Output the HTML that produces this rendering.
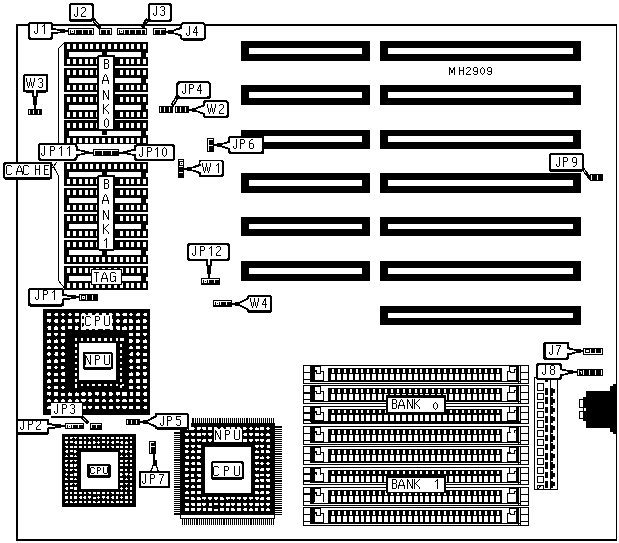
<!DOCTYPE html>
<html><head><meta charset="utf-8"><style>
html,body{margin:0;padding:0;background:#fff;}
svg{display:block;}
</style></head><body>
<svg width="619" height="543" viewBox="0 0 619 543" shape-rendering="crispEdges">
<title>MH2909 motherboard layout</title>
<rect width="619" height="543" fill="#fff"/>
<rect x="16" y="24" width="601" height="2" fill="#000"/>
<rect x="16" y="24" width="2" height="517" fill="#000"/>
<rect x="16" y="539" width="601" height="2" fill="#000"/>
<rect x="616" y="24" width="1" height="517" fill="#000"/>
<rect x="241" y="41" width="129" height="20" fill="#000"/>
<rect x="249" y="48" width="113" height="6" fill="#fff"/>
<rect x="380" y="41" width="201" height="20" fill="#000"/>
<rect x="388" y="48" width="185" height="6" fill="#fff"/>
<rect x="241" y="85" width="129" height="20" fill="#000"/>
<rect x="249" y="92" width="113" height="6" fill="#fff"/>
<rect x="380" y="85" width="201" height="20" fill="#000"/>
<rect x="388" y="92" width="185" height="6" fill="#fff"/>
<rect x="241" y="130" width="129" height="19" fill="#000"/>
<rect x="249" y="136" width="113" height="6" fill="#fff"/>
<rect x="380" y="130" width="201" height="19" fill="#000"/>
<rect x="388" y="136" width="185" height="6" fill="#fff"/>
<rect x="241" y="173" width="129" height="20" fill="#000"/>
<rect x="249" y="180" width="113" height="6" fill="#fff"/>
<rect x="380" y="173" width="201" height="20" fill="#000"/>
<rect x="388" y="180" width="185" height="6" fill="#fff"/>
<rect x="241" y="217" width="129" height="19" fill="#000"/>
<rect x="249" y="224" width="113" height="5" fill="#fff"/>
<rect x="380" y="217" width="201" height="19" fill="#000"/>
<rect x="388" y="224" width="185" height="5" fill="#fff"/>
<rect x="241" y="261" width="129" height="20" fill="#000"/>
<rect x="249" y="268" width="113" height="6" fill="#fff"/>
<rect x="380" y="261" width="201" height="20" fill="#000"/>
<rect x="388" y="268" width="185" height="6" fill="#fff"/>
<rect x="380" y="306" width="201" height="19" fill="#000"/>
<rect x="388" y="313" width="185" height="5" fill="#fff"/>
<g aria-label="MH2909">
<path transform="translate(449,66.5)" d="M0 0h1v1h-1zM5 0h1v1h-1zM0 1h2v1h-2zM4 1h2v1h-2zM0 2h2v1h-2zM4 2h2v1h-2zM0 3h1v1h-1zM2 3h2v1h-2zM5 3h1v1h-1zM0 4h1v1h-1zM2 4h2v1h-2zM5 4h1v1h-1zM0 5h1v1h-1zM2 5h2v1h-2zM5 5h1v1h-1zM0 6h1v1h-1zM5 6h1v1h-1zM0 7h1v1h-1zM5 7h1v1h-1z"/>
<path transform="translate(459,66.5)" d="M0 0h1v1h-1zM4 0h1v1h-1zM0 1h1v1h-1zM4 1h1v1h-1zM0 2h1v1h-1zM4 2h1v1h-1zM0 3h5v1h-5zM0 4h1v1h-1zM4 4h1v1h-1zM0 5h1v1h-1zM4 5h1v1h-1zM0 6h1v1h-1zM4 6h1v1h-1zM0 7h1v1h-1zM4 7h1v1h-1z"/>
<path transform="translate(466,66.5)" d="M1 0h3v1h-3zM0 1h1v1h-1zM4 1h1v1h-1zM4 2h1v1h-1zM3 3h1v1h-1zM2 4h1v1h-1zM1 5h1v1h-1zM0 6h1v1h-1zM0 7h5v1h-5z"/>
<path transform="translate(473,66.5)" d="M1 0h3v1h-3zM0 1h1v1h-1zM4 1h1v1h-1zM0 2h1v1h-1zM4 2h1v1h-1zM0 3h1v1h-1zM4 3h1v1h-1zM1 4h4v1h-4zM4 5h1v1h-1zM0 6h1v1h-1zM4 6h1v1h-1zM1 7h3v1h-3z"/>
<path transform="translate(480,66.5)" d="M2 0h1v1h-1zM1 1h1v1h-1zM3 1h1v1h-1zM0 2h1v1h-1zM4 2h1v1h-1zM0 3h1v1h-1zM4 3h1v1h-1zM0 4h1v1h-1zM4 4h1v1h-1zM0 5h1v1h-1zM4 5h1v1h-1zM1 6h1v1h-1zM3 6h1v1h-1zM2 7h1v1h-1z"/>
<path transform="translate(487,66.5)" d="M1 0h3v1h-3zM0 1h1v1h-1zM4 1h1v1h-1zM0 2h1v1h-1zM4 2h1v1h-1zM0 3h1v1h-1zM4 3h1v1h-1zM1 4h4v1h-4zM4 5h1v1h-1zM0 6h1v1h-1zM4 6h1v1h-1zM1 7h3v1h-3z"/>
</g>
<rect x="64" y="42" width="84" height="102" fill="#000"/>
<rect x="67" y="44" width="3" height="5" fill="#fff"/>
<rect x="72.85" y="44" width="3" height="5" fill="#fff"/>
<rect x="78.7" y="44" width="3" height="5" fill="#fff"/>
<rect x="84.55" y="44" width="3" height="5" fill="#fff"/>
<rect x="90.4" y="44" width="3" height="5" fill="#fff"/>
<rect x="96.25" y="44" width="3" height="5" fill="#fff"/>
<rect x="102.1" y="44" width="3" height="5" fill="#fff"/>
<rect x="107.95" y="44" width="3" height="5" fill="#fff"/>
<rect x="113.8" y="44" width="3" height="5" fill="#fff"/>
<rect x="119.65" y="44" width="3" height="5" fill="#fff"/>
<rect x="125.5" y="44" width="3" height="5" fill="#fff"/>
<rect x="131.35" y="44" width="3" height="5" fill="#fff"/>
<rect x="137.2" y="44" width="3" height="5" fill="#fff"/>
<rect x="143.05" y="44" width="3" height="5" fill="#fff"/>
<rect x="67" y="59" width="3" height="5" fill="#fff"/>
<rect x="72.85" y="59" width="3" height="5" fill="#fff"/>
<rect x="78.7" y="59" width="3" height="5" fill="#fff"/>
<rect x="84.55" y="59" width="3" height="5" fill="#fff"/>
<rect x="90.4" y="59" width="3" height="5" fill="#fff"/>
<rect x="96.25" y="59" width="3" height="5" fill="#fff"/>
<rect x="102.1" y="59" width="3" height="5" fill="#fff"/>
<rect x="107.95" y="59" width="3" height="5" fill="#fff"/>
<rect x="119.65" y="59" width="3" height="5" fill="#fff"/>
<rect x="125.5" y="59" width="3" height="5" fill="#fff"/>
<rect x="131.35" y="59" width="3" height="5" fill="#fff"/>
<rect x="137.2" y="59" width="3" height="5" fill="#fff"/>
<rect x="143.05" y="59" width="3" height="5" fill="#fff"/>
<rect x="69" y="52" width="72" height="5" fill="#fff"/>
<rect x="146" y="52.5" width="2" height="4" fill="#fff"/>
<rect x="64" y="66" width="84" height="1.5" fill="#fff"/>
<rect x="67" y="70.3" width="3" height="5" fill="#fff"/>
<rect x="72.85" y="70.3" width="3" height="5" fill="#fff"/>
<rect x="78.7" y="70.3" width="3" height="5" fill="#fff"/>
<rect x="84.55" y="70.3" width="3" height="5" fill="#fff"/>
<rect x="90.4" y="70.3" width="3" height="5" fill="#fff"/>
<rect x="96.25" y="70.3" width="3" height="5" fill="#fff"/>
<rect x="102.1" y="70.3" width="3" height="5" fill="#fff"/>
<rect x="107.95" y="70.3" width="3" height="5" fill="#fff"/>
<rect x="119.65" y="70.3" width="3" height="5" fill="#fff"/>
<rect x="125.5" y="70.3" width="3" height="5" fill="#fff"/>
<rect x="131.35" y="70.3" width="3" height="5" fill="#fff"/>
<rect x="137.2" y="70.3" width="3" height="5" fill="#fff"/>
<rect x="143.05" y="70.3" width="3" height="5" fill="#fff"/>
<rect x="67" y="85.3" width="3" height="5" fill="#fff"/>
<rect x="72.85" y="85.3" width="3" height="5" fill="#fff"/>
<rect x="78.7" y="85.3" width="3" height="5" fill="#fff"/>
<rect x="84.55" y="85.3" width="3" height="5" fill="#fff"/>
<rect x="90.4" y="85.3" width="3" height="5" fill="#fff"/>
<rect x="96.25" y="85.3" width="3" height="5" fill="#fff"/>
<rect x="102.1" y="85.3" width="3" height="5" fill="#fff"/>
<rect x="107.95" y="85.3" width="3" height="5" fill="#fff"/>
<rect x="119.65" y="85.3" width="3" height="5" fill="#fff"/>
<rect x="125.5" y="85.3" width="3" height="5" fill="#fff"/>
<rect x="131.35" y="85.3" width="3" height="5" fill="#fff"/>
<rect x="137.2" y="85.3" width="3" height="5" fill="#fff"/>
<rect x="143.05" y="85.3" width="3" height="5" fill="#fff"/>
<rect x="69" y="78.3" width="72" height="5" fill="#fff"/>
<rect x="146" y="78.8" width="2" height="4" fill="#fff"/>
<rect x="64" y="92.3" width="84" height="1.5" fill="#fff"/>
<rect x="67" y="96.5" width="3" height="5" fill="#fff"/>
<rect x="72.85" y="96.5" width="3" height="5" fill="#fff"/>
<rect x="78.7" y="96.5" width="3" height="5" fill="#fff"/>
<rect x="84.55" y="96.5" width="3" height="5" fill="#fff"/>
<rect x="90.4" y="96.5" width="3" height="5" fill="#fff"/>
<rect x="96.25" y="96.5" width="3" height="5" fill="#fff"/>
<rect x="102.1" y="96.5" width="3" height="5" fill="#fff"/>
<rect x="107.95" y="96.5" width="3" height="5" fill="#fff"/>
<rect x="119.65" y="96.5" width="3" height="5" fill="#fff"/>
<rect x="125.5" y="96.5" width="3" height="5" fill="#fff"/>
<rect x="131.35" y="96.5" width="3" height="5" fill="#fff"/>
<rect x="137.2" y="96.5" width="3" height="5" fill="#fff"/>
<rect x="143.05" y="96.5" width="3" height="5" fill="#fff"/>
<rect x="67" y="111.5" width="3" height="5" fill="#fff"/>
<rect x="72.85" y="111.5" width="3" height="5" fill="#fff"/>
<rect x="78.7" y="111.5" width="3" height="5" fill="#fff"/>
<rect x="84.55" y="111.5" width="3" height="5" fill="#fff"/>
<rect x="90.4" y="111.5" width="3" height="5" fill="#fff"/>
<rect x="96.25" y="111.5" width="3" height="5" fill="#fff"/>
<rect x="102.1" y="111.5" width="3" height="5" fill="#fff"/>
<rect x="107.95" y="111.5" width="3" height="5" fill="#fff"/>
<rect x="119.65" y="111.5" width="3" height="5" fill="#fff"/>
<rect x="125.5" y="111.5" width="3" height="5" fill="#fff"/>
<rect x="131.35" y="111.5" width="3" height="5" fill="#fff"/>
<rect x="137.2" y="111.5" width="3" height="5" fill="#fff"/>
<rect x="143.05" y="111.5" width="3" height="5" fill="#fff"/>
<rect x="69" y="104.5" width="72" height="5" fill="#fff"/>
<rect x="146" y="105" width="2" height="4" fill="#fff"/>
<rect x="64" y="118.5" width="84" height="1.5" fill="#fff"/>
<rect x="67" y="122.8" width="3" height="5" fill="#fff"/>
<rect x="72.85" y="122.8" width="3" height="5" fill="#fff"/>
<rect x="78.7" y="122.8" width="3" height="5" fill="#fff"/>
<rect x="84.55" y="122.8" width="3" height="5" fill="#fff"/>
<rect x="90.4" y="122.8" width="3" height="5" fill="#fff"/>
<rect x="96.25" y="122.8" width="3" height="5" fill="#fff"/>
<rect x="102.1" y="122.8" width="3" height="5" fill="#fff"/>
<rect x="107.95" y="122.8" width="3" height="5" fill="#fff"/>
<rect x="119.65" y="122.8" width="3" height="5" fill="#fff"/>
<rect x="125.5" y="122.8" width="3" height="5" fill="#fff"/>
<rect x="131.35" y="122.8" width="3" height="5" fill="#fff"/>
<rect x="137.2" y="122.8" width="3" height="5" fill="#fff"/>
<rect x="143.05" y="122.8" width="3" height="5" fill="#fff"/>
<rect x="67" y="137.8" width="3" height="5" fill="#fff"/>
<rect x="72.85" y="137.8" width="3" height="5" fill="#fff"/>
<rect x="78.7" y="137.8" width="3" height="5" fill="#fff"/>
<rect x="84.55" y="137.8" width="3" height="5" fill="#fff"/>
<rect x="90.4" y="137.8" width="3" height="5" fill="#fff"/>
<rect x="96.25" y="137.8" width="3" height="5" fill="#fff"/>
<rect x="102.1" y="137.8" width="3" height="5" fill="#fff"/>
<rect x="107.95" y="137.8" width="3" height="5" fill="#fff"/>
<rect x="113.8" y="137.8" width="3" height="5" fill="#fff"/>
<rect x="119.65" y="137.8" width="3" height="5" fill="#fff"/>
<rect x="125.5" y="137.8" width="3" height="5" fill="#fff"/>
<rect x="131.35" y="137.8" width="3" height="5" fill="#fff"/>
<rect x="137.2" y="137.8" width="3" height="5" fill="#fff"/>
<rect x="143.05" y="137.8" width="3" height="5" fill="#fff"/>
<rect x="69" y="130.8" width="72" height="5" fill="#fff"/>
<rect x="146" y="131.3" width="2" height="4" fill="#fff"/>
<rect x="64" y="162" width="84" height="128" fill="#000"/>
<rect x="67" y="164" width="3" height="5" fill="#fff"/>
<rect x="72.85" y="164" width="3" height="5" fill="#fff"/>
<rect x="78.7" y="164" width="3" height="5" fill="#fff"/>
<rect x="84.55" y="164" width="3" height="5" fill="#fff"/>
<rect x="90.4" y="164" width="3" height="5" fill="#fff"/>
<rect x="96.25" y="164" width="3" height="5" fill="#fff"/>
<rect x="102.1" y="164" width="3" height="5" fill="#fff"/>
<rect x="107.95" y="164" width="3" height="5" fill="#fff"/>
<rect x="113.8" y="164" width="3" height="5" fill="#fff"/>
<rect x="119.65" y="164" width="3" height="5" fill="#fff"/>
<rect x="125.5" y="164" width="3" height="5" fill="#fff"/>
<rect x="131.35" y="164" width="3" height="5" fill="#fff"/>
<rect x="137.2" y="164" width="3" height="5" fill="#fff"/>
<rect x="143.05" y="164" width="3" height="5" fill="#fff"/>
<rect x="67" y="179" width="3" height="5" fill="#fff"/>
<rect x="72.85" y="179" width="3" height="5" fill="#fff"/>
<rect x="78.7" y="179" width="3" height="5" fill="#fff"/>
<rect x="84.55" y="179" width="3" height="5" fill="#fff"/>
<rect x="90.4" y="179" width="3" height="5" fill="#fff"/>
<rect x="96.25" y="179" width="3" height="5" fill="#fff"/>
<rect x="102.1" y="179" width="3" height="5" fill="#fff"/>
<rect x="107.95" y="179" width="3" height="5" fill="#fff"/>
<rect x="119.65" y="179" width="3" height="5" fill="#fff"/>
<rect x="125.5" y="179" width="3" height="5" fill="#fff"/>
<rect x="131.35" y="179" width="3" height="5" fill="#fff"/>
<rect x="137.2" y="179" width="3" height="5" fill="#fff"/>
<rect x="143.05" y="179" width="3" height="5" fill="#fff"/>
<rect x="69" y="172" width="72" height="5" fill="#fff"/>
<rect x="146" y="172.5" width="2" height="4" fill="#fff"/>
<rect x="64" y="186" width="84" height="1.5" fill="#fff"/>
<rect x="67" y="190" width="3" height="5" fill="#fff"/>
<rect x="72.85" y="190" width="3" height="5" fill="#fff"/>
<rect x="78.7" y="190" width="3" height="5" fill="#fff"/>
<rect x="84.55" y="190" width="3" height="5" fill="#fff"/>
<rect x="90.4" y="190" width="3" height="5" fill="#fff"/>
<rect x="96.25" y="190" width="3" height="5" fill="#fff"/>
<rect x="102.1" y="190" width="3" height="5" fill="#fff"/>
<rect x="107.95" y="190" width="3" height="5" fill="#fff"/>
<rect x="119.65" y="190" width="3" height="5" fill="#fff"/>
<rect x="125.5" y="190" width="3" height="5" fill="#fff"/>
<rect x="131.35" y="190" width="3" height="5" fill="#fff"/>
<rect x="137.2" y="190" width="3" height="5" fill="#fff"/>
<rect x="143.05" y="190" width="3" height="5" fill="#fff"/>
<rect x="67" y="205" width="3" height="5" fill="#fff"/>
<rect x="72.85" y="205" width="3" height="5" fill="#fff"/>
<rect x="78.7" y="205" width="3" height="5" fill="#fff"/>
<rect x="84.55" y="205" width="3" height="5" fill="#fff"/>
<rect x="90.4" y="205" width="3" height="5" fill="#fff"/>
<rect x="96.25" y="205" width="3" height="5" fill="#fff"/>
<rect x="102.1" y="205" width="3" height="5" fill="#fff"/>
<rect x="107.95" y="205" width="3" height="5" fill="#fff"/>
<rect x="119.65" y="205" width="3" height="5" fill="#fff"/>
<rect x="125.5" y="205" width="3" height="5" fill="#fff"/>
<rect x="131.35" y="205" width="3" height="5" fill="#fff"/>
<rect x="137.2" y="205" width="3" height="5" fill="#fff"/>
<rect x="143.05" y="205" width="3" height="5" fill="#fff"/>
<rect x="69" y="198" width="72" height="5" fill="#fff"/>
<rect x="146" y="198.5" width="2" height="4" fill="#fff"/>
<rect x="64" y="212" width="84" height="1.5" fill="#fff"/>
<rect x="67" y="216" width="3" height="5" fill="#fff"/>
<rect x="72.85" y="216" width="3" height="5" fill="#fff"/>
<rect x="78.7" y="216" width="3" height="5" fill="#fff"/>
<rect x="84.55" y="216" width="3" height="5" fill="#fff"/>
<rect x="90.4" y="216" width="3" height="5" fill="#fff"/>
<rect x="96.25" y="216" width="3" height="5" fill="#fff"/>
<rect x="102.1" y="216" width="3" height="5" fill="#fff"/>
<rect x="107.95" y="216" width="3" height="5" fill="#fff"/>
<rect x="119.65" y="216" width="3" height="5" fill="#fff"/>
<rect x="125.5" y="216" width="3" height="5" fill="#fff"/>
<rect x="131.35" y="216" width="3" height="5" fill="#fff"/>
<rect x="137.2" y="216" width="3" height="5" fill="#fff"/>
<rect x="143.05" y="216" width="3" height="5" fill="#fff"/>
<rect x="67" y="231" width="3" height="5" fill="#fff"/>
<rect x="72.85" y="231" width="3" height="5" fill="#fff"/>
<rect x="78.7" y="231" width="3" height="5" fill="#fff"/>
<rect x="84.55" y="231" width="3" height="5" fill="#fff"/>
<rect x="90.4" y="231" width="3" height="5" fill="#fff"/>
<rect x="96.25" y="231" width="3" height="5" fill="#fff"/>
<rect x="102.1" y="231" width="3" height="5" fill="#fff"/>
<rect x="107.95" y="231" width="3" height="5" fill="#fff"/>
<rect x="119.65" y="231" width="3" height="5" fill="#fff"/>
<rect x="125.5" y="231" width="3" height="5" fill="#fff"/>
<rect x="131.35" y="231" width="3" height="5" fill="#fff"/>
<rect x="137.2" y="231" width="3" height="5" fill="#fff"/>
<rect x="143.05" y="231" width="3" height="5" fill="#fff"/>
<rect x="69" y="224" width="72" height="5" fill="#fff"/>
<rect x="146" y="224.5" width="2" height="4" fill="#fff"/>
<rect x="64" y="238" width="84" height="1.5" fill="#fff"/>
<rect x="67" y="242" width="3" height="5" fill="#fff"/>
<rect x="72.85" y="242" width="3" height="5" fill="#fff"/>
<rect x="78.7" y="242" width="3" height="5" fill="#fff"/>
<rect x="84.55" y="242" width="3" height="5" fill="#fff"/>
<rect x="90.4" y="242" width="3" height="5" fill="#fff"/>
<rect x="96.25" y="242" width="3" height="5" fill="#fff"/>
<rect x="102.1" y="242" width="3" height="5" fill="#fff"/>
<rect x="107.95" y="242" width="3" height="5" fill="#fff"/>
<rect x="119.65" y="242" width="3" height="5" fill="#fff"/>
<rect x="125.5" y="242" width="3" height="5" fill="#fff"/>
<rect x="131.35" y="242" width="3" height="5" fill="#fff"/>
<rect x="137.2" y="242" width="3" height="5" fill="#fff"/>
<rect x="143.05" y="242" width="3" height="5" fill="#fff"/>
<rect x="67" y="257" width="3" height="5" fill="#fff"/>
<rect x="72.85" y="257" width="3" height="5" fill="#fff"/>
<rect x="78.7" y="257" width="3" height="5" fill="#fff"/>
<rect x="84.55" y="257" width="3" height="5" fill="#fff"/>
<rect x="90.4" y="257" width="3" height="5" fill="#fff"/>
<rect x="96.25" y="257" width="3" height="5" fill="#fff"/>
<rect x="102.1" y="257" width="3" height="5" fill="#fff"/>
<rect x="107.95" y="257" width="3" height="5" fill="#fff"/>
<rect x="113.8" y="257" width="3" height="5" fill="#fff"/>
<rect x="119.65" y="257" width="3" height="5" fill="#fff"/>
<rect x="125.5" y="257" width="3" height="5" fill="#fff"/>
<rect x="131.35" y="257" width="3" height="5" fill="#fff"/>
<rect x="137.2" y="257" width="3" height="5" fill="#fff"/>
<rect x="143.05" y="257" width="3" height="5" fill="#fff"/>
<rect x="69" y="250" width="72" height="5" fill="#fff"/>
<rect x="146" y="250.5" width="2" height="4" fill="#fff"/>
<rect x="64" y="264" width="84" height="1.5" fill="#fff"/>
<rect x="67" y="268" width="3" height="5" fill="#fff"/>
<rect x="72.85" y="268" width="3" height="5" fill="#fff"/>
<rect x="78.7" y="268" width="3" height="5" fill="#fff"/>
<rect x="84.55" y="268" width="3" height="5" fill="#fff"/>
<rect x="90.4" y="268" width="3" height="5" fill="#fff"/>
<rect x="96.25" y="268" width="3" height="5" fill="#fff"/>
<rect x="102.1" y="268" width="3" height="5" fill="#fff"/>
<rect x="107.95" y="268" width="3" height="5" fill="#fff"/>
<rect x="113.8" y="268" width="3" height="5" fill="#fff"/>
<rect x="119.65" y="268" width="3" height="5" fill="#fff"/>
<rect x="125.5" y="268" width="3" height="5" fill="#fff"/>
<rect x="131.35" y="268" width="3" height="5" fill="#fff"/>
<rect x="137.2" y="268" width="3" height="5" fill="#fff"/>
<rect x="143.05" y="268" width="3" height="5" fill="#fff"/>
<rect x="67" y="283" width="3" height="5" fill="#fff"/>
<rect x="72.85" y="283" width="3" height="5" fill="#fff"/>
<rect x="78.7" y="283" width="3" height="5" fill="#fff"/>
<rect x="84.55" y="283" width="3" height="5" fill="#fff"/>
<rect x="90.4" y="283" width="3" height="5" fill="#fff"/>
<rect x="96.25" y="283" width="3" height="5" fill="#fff"/>
<rect x="102.1" y="283" width="3" height="5" fill="#fff"/>
<rect x="107.95" y="283" width="3" height="5" fill="#fff"/>
<rect x="113.8" y="283" width="3" height="5" fill="#fff"/>
<rect x="119.65" y="283" width="3" height="5" fill="#fff"/>
<rect x="125.5" y="283" width="3" height="5" fill="#fff"/>
<rect x="131.35" y="283" width="3" height="5" fill="#fff"/>
<rect x="137.2" y="283" width="3" height="5" fill="#fff"/>
<rect x="143.05" y="283" width="3" height="5" fill="#fff"/>
<rect x="69" y="276" width="72" height="5" fill="#fff"/>
<rect x="146" y="276.5" width="2" height="4" fill="#fff"/>
<rect x="102" y="52" width="5" height="5" fill="#000"/>
<rect x="102" y="128.9" width="5" height="5.9" fill="#000"/>
<rect x="97.2" y="55" width="18.2" height="75.7" rx="2" fill="#000"/>
<rect x="99" y="57" width="14" height="71.9" rx="1" fill="#fff"/>
<path transform="translate(104,59)" d="M0 0h4v1h-4zM0 1h1v1h-1zM4 1h1v1h-1zM0 2h1v1h-1zM4 2h1v1h-1zM0 3h1v1h-1zM4 3h1v1h-1zM0 4h4v1h-4zM0 5h1v1h-1zM4 5h1v1h-1zM0 6h1v1h-1zM4 6h1v1h-1zM0 7h1v1h-1zM4 7h1v1h-1zM0 8h1v1h-1zM4 8h1v1h-1zM0 9h4v1h-4z"/>
<path transform="translate(102,74)" d="M3 0h1v1h-1zM2 1h1v1h-1zM4 1h1v1h-1zM2 2h1v1h-1zM4 2h1v1h-1zM1 3h1v1h-1zM5 3h1v1h-1zM1 4h1v1h-1zM5 4h1v1h-1zM1 5h1v1h-1zM5 5h1v1h-1zM0 6h7v1h-7zM0 7h1v1h-1zM6 7h1v1h-1zM0 8h1v1h-1zM6 8h1v1h-1zM0 9h1v1h-1zM6 9h1v1h-1z"/>
<path transform="translate(103,90)" d="M0 0h1v1h-1zM5 0h1v1h-1zM0 1h2v1h-2zM5 1h1v1h-1zM0 2h2v1h-2zM5 2h1v1h-1zM0 3h1v1h-1zM2 3h1v1h-1zM5 3h1v1h-1zM0 4h1v1h-1zM2 4h1v1h-1zM5 4h1v1h-1zM0 5h1v1h-1zM3 5h1v1h-1zM5 5h1v1h-1zM0 6h1v1h-1zM3 6h1v1h-1zM5 6h1v1h-1zM0 7h1v1h-1zM4 7h2v1h-2zM0 8h1v1h-1zM4 8h2v1h-2zM0 9h1v1h-1zM5 9h1v1h-1z"/>
<path transform="translate(103,104)" d="M0 0h1v1h-1zM5 0h1v1h-1zM0 1h1v1h-1zM4 1h1v1h-1zM0 2h1v1h-1zM3 2h1v1h-1zM0 3h1v1h-1zM2 3h1v1h-1zM0 4h2v1h-2zM0 5h1v1h-1zM2 5h1v1h-1zM0 6h1v1h-1zM3 6h1v1h-1zM0 7h1v1h-1zM4 7h1v1h-1zM0 8h1v1h-1zM5 8h1v1h-1zM0 9h1v1h-1zM5 9h1v1h-1z"/>
<path transform="translate(104,118)" d="M2 0h1v1h-1zM1 1h1v1h-1zM3 1h1v1h-1zM0 2h1v1h-1zM4 2h1v1h-1zM0 3h1v1h-1zM4 3h1v1h-1zM0 4h1v1h-1zM4 4h1v1h-1zM0 5h1v1h-1zM4 5h1v1h-1zM0 6h1v1h-1zM4 6h1v1h-1zM0 7h1v1h-1zM4 7h1v1h-1zM1 8h1v1h-1zM3 8h1v1h-1zM2 9h1v1h-1z"/>
<rect x="102" y="172" width="5" height="5" fill="#000"/>
<rect x="102" y="248.9" width="5" height="5.9" fill="#000"/>
<rect x="97.2" y="175" width="18.2" height="75.7" rx="2" fill="#000"/>
<rect x="99" y="177" width="14" height="71.9" rx="1" fill="#fff"/>
<path transform="translate(104,179)" d="M0 0h4v1h-4zM0 1h1v1h-1zM4 1h1v1h-1zM0 2h1v1h-1zM4 2h1v1h-1zM0 3h1v1h-1zM4 3h1v1h-1zM0 4h4v1h-4zM0 5h1v1h-1zM4 5h1v1h-1zM0 6h1v1h-1zM4 6h1v1h-1zM0 7h1v1h-1zM4 7h1v1h-1zM0 8h1v1h-1zM4 8h1v1h-1zM0 9h4v1h-4z"/>
<path transform="translate(102,194)" d="M3 0h1v1h-1zM2 1h1v1h-1zM4 1h1v1h-1zM2 2h1v1h-1zM4 2h1v1h-1zM1 3h1v1h-1zM5 3h1v1h-1zM1 4h1v1h-1zM5 4h1v1h-1zM1 5h1v1h-1zM5 5h1v1h-1zM0 6h7v1h-7zM0 7h1v1h-1zM6 7h1v1h-1zM0 8h1v1h-1zM6 8h1v1h-1zM0 9h1v1h-1zM6 9h1v1h-1z"/>
<path transform="translate(103,210)" d="M0 0h1v1h-1zM5 0h1v1h-1zM0 1h2v1h-2zM5 1h1v1h-1zM0 2h2v1h-2zM5 2h1v1h-1zM0 3h1v1h-1zM2 3h1v1h-1zM5 3h1v1h-1zM0 4h1v1h-1zM2 4h1v1h-1zM5 4h1v1h-1zM0 5h1v1h-1zM3 5h1v1h-1zM5 5h1v1h-1zM0 6h1v1h-1zM3 6h1v1h-1zM5 6h1v1h-1zM0 7h1v1h-1zM4 7h2v1h-2zM0 8h1v1h-1zM4 8h2v1h-2zM0 9h1v1h-1zM5 9h1v1h-1z"/>
<path transform="translate(103,224)" d="M0 0h1v1h-1zM5 0h1v1h-1zM0 1h1v1h-1zM4 1h1v1h-1zM0 2h1v1h-1zM3 2h1v1h-1zM0 3h1v1h-1zM2 3h1v1h-1zM0 4h2v1h-2zM0 5h1v1h-1zM2 5h1v1h-1zM0 6h1v1h-1zM3 6h1v1h-1zM0 7h1v1h-1zM4 7h1v1h-1zM0 8h1v1h-1zM5 8h1v1h-1zM0 9h1v1h-1zM5 9h1v1h-1z"/>
<path transform="translate(104,238)" d="M2 0h1v1h-1zM1 1h2v1h-2zM0 2h1v1h-1zM2 2h1v1h-1zM2 3h1v1h-1zM2 4h1v1h-1zM2 5h1v1h-1zM2 6h1v1h-1zM2 7h1v1h-1zM2 8h1v1h-1zM2 9h1v1h-1z"/>
<rect x="91" y="268.8" width="31" height="16.2" fill="#000"/>
<rect x="92.1" y="269.8" width="28.8" height="14.2" fill="#fff"/>
<g aria-label="TAG">
<path transform="translate(94,272)" d="M0 0h5v1h-5zM2 1h1v1h-1zM2 2h1v1h-1zM2 3h1v1h-1zM2 4h1v1h-1zM2 5h1v1h-1zM2 6h1v1h-1zM2 7h1v1h-1zM2 8h1v1h-1zM2 9h1v1h-1z"/>
<path transform="translate(101,272)" d="M3 0h1v1h-1zM2 1h1v1h-1zM4 1h1v1h-1zM2 2h1v1h-1zM4 2h1v1h-1zM1 3h1v1h-1zM5 3h1v1h-1zM1 4h1v1h-1zM5 4h1v1h-1zM1 5h1v1h-1zM5 5h1v1h-1zM0 6h7v1h-7zM0 7h1v1h-1zM6 7h1v1h-1zM0 8h1v1h-1zM6 8h1v1h-1zM0 9h1v1h-1zM6 9h1v1h-1z"/>
<path transform="translate(110,272)" d="M1 0h4v1h-4zM0 1h1v1h-1zM5 1h1v1h-1zM0 2h1v1h-1zM0 3h1v1h-1zM0 4h1v1h-1zM3 4h3v1h-3zM0 5h1v1h-1zM5 5h1v1h-1zM0 6h1v1h-1zM5 6h1v1h-1zM0 7h1v1h-1zM5 7h1v1h-1zM0 8h1v1h-1zM4 8h2v1h-2zM1 9h3v1h-3zM5 9h1v1h-1z"/>
</g>
<polygon points="78.9,145 131.2,145 135.6,150 135.6,155 131.2,160 78.9,160 74.5,155 74.5,150" fill="#fff"/>
<rect x="93" y="149" width="26" height="7" fill="#000"/>
<rect x="94" y="150" width="24" height="1" fill="#fff"/>
<rect x="94" y="150" width="1" height="4.5" fill="#fff"/>
<rect x="102.333" y="150" width="1" height="4.5" fill="#fff"/>
<rect x="110.667" y="150" width="1" height="4.5" fill="#fff"/>
<rect x="37.5" y="143.2" width="40" height="17.6" rx="2.5" fill="#000"/>
<rect x="39.5" y="145.2" width="36" height="13.3" rx="1.5" fill="#fff"/>
<g aria-label="JP11">
<path transform="translate(41,146)" d="M3 0h1v1h-1zM3 1h1v1h-1zM3 2h1v1h-1zM3 3h1v1h-1zM3 4h1v1h-1zM3 5h1v1h-1zM3 6h1v1h-1zM0 7h1v1h-1zM3 7h1v1h-1zM0 8h1v1h-1zM3 8h1v1h-1zM1 9h2v1h-2z"/>
<path transform="translate(50,146)" d="M0 0h4v1h-4zM0 1h1v1h-1zM4 1h1v1h-1zM0 2h1v1h-1zM4 2h1v1h-1zM0 3h1v1h-1zM4 3h1v1h-1zM0 4h4v1h-4zM0 5h1v1h-1zM0 6h1v1h-1zM0 7h1v1h-1zM0 8h1v1h-1zM0 9h1v1h-1z"/>
<path transform="translate(59,146)" d="M2 0h1v1h-1zM1 1h2v1h-2zM0 2h1v1h-1zM2 2h1v1h-1zM2 3h1v1h-1zM2 4h1v1h-1zM2 5h1v1h-1zM2 6h1v1h-1zM2 7h1v1h-1zM2 8h1v1h-1zM2 9h1v1h-1z"/>
<path transform="translate(67,146)" d="M2 0h1v1h-1zM1 1h2v1h-2zM0 2h1v1h-1zM2 2h1v1h-1zM2 3h1v1h-1zM2 4h1v1h-1zM2 5h1v1h-1zM2 6h1v1h-1zM2 7h1v1h-1zM2 8h1v1h-1zM2 9h1v1h-1z"/>
</g>
<polygon points="75.5,148.5 84.5,150.4 84.5,154.5 75.5,156.5" fill="#000"/>
<rect x="84.5" y="150.5" width="4" height="3.9" fill="#000"/>
<rect x="88.5" y="151.5" width="4.5" height="2" fill="#000"/>
<polygon points="74.3,150.3 83.9,152 83.9,153 74.3,154.7" fill="#fff"/>
<rect x="134.2" y="144.3" width="40.7" height="17" rx="2.5" fill="#000"/>
<rect x="136.2" y="146.3" width="36.7" height="12.7" rx="1.5" fill="#fff"/>
<g aria-label="JP10">
<path transform="translate(139,147)" d="M3 0h1v1h-1zM3 1h1v1h-1zM3 2h1v1h-1zM3 3h1v1h-1zM3 4h1v1h-1zM3 5h1v1h-1zM3 6h1v1h-1zM0 7h1v1h-1zM3 7h1v1h-1zM0 8h1v1h-1zM3 8h1v1h-1zM1 9h2v1h-2z"/>
<path transform="translate(147,147)" d="M0 0h4v1h-4zM0 1h1v1h-1zM4 1h1v1h-1zM0 2h1v1h-1zM4 2h1v1h-1zM0 3h1v1h-1zM4 3h1v1h-1zM0 4h4v1h-4zM0 5h1v1h-1zM0 6h1v1h-1zM0 7h1v1h-1zM0 8h1v1h-1zM0 9h1v1h-1z"/>
<path transform="translate(155,147)" d="M2 0h1v1h-1zM1 1h2v1h-2zM0 2h1v1h-1zM2 2h1v1h-1zM2 3h1v1h-1zM2 4h1v1h-1zM2 5h1v1h-1zM2 6h1v1h-1zM2 7h1v1h-1zM2 8h1v1h-1zM2 9h1v1h-1z"/>
<path transform="translate(162,147)" d="M2 0h1v1h-1zM1 1h1v1h-1zM3 1h1v1h-1zM0 2h1v1h-1zM4 2h1v1h-1zM0 3h1v1h-1zM4 3h1v1h-1zM0 4h1v1h-1zM4 4h1v1h-1zM0 5h1v1h-1zM4 5h1v1h-1zM0 6h1v1h-1zM4 6h1v1h-1zM0 7h1v1h-1zM4 7h1v1h-1zM1 8h1v1h-1zM3 8h1v1h-1zM2 9h1v1h-1z"/>
</g>
<polygon points="136.2,148.5 127.2,150.4 127.2,154.5 136.2,156.5" fill="#000"/>
<rect x="123.2" y="150.5" width="4" height="3.9" fill="#000"/>
<rect x="119" y="151.5" width="4.2" height="2" fill="#000"/>
<polygon points="137.4,150.3 127.8,152 127.8,153 137.4,154.7" fill="#fff"/>
<line x1="58.5" y1="48" x2="58.5" y2="143" stroke="#000" stroke-width="1"/>
<line x1="58.5" y1="48.5" x2="65" y2="42" stroke="#000" stroke-width="1"/>
<line x1="58.8" y1="176" x2="58.8" y2="281" stroke="#000" stroke-width="1"/>
<line x1="58.8" y1="281" x2="64.5" y2="288" stroke="#000" stroke-width="1"/>
<line x1="51" y1="162" x2="58.8" y2="176.5" stroke="#000" stroke-width="1"/>
<line x1="56.6" y1="162" x2="52.7" y2="168" stroke="#000" stroke-width="1"/>
<rect x="3.2" y="162.2" width="49.1" height="17.4" rx="2.5" fill="#000"/>
<rect x="5.2" y="164.2" width="45.1" height="13.1" rx="1.5" fill="#fff"/>
<g aria-label="CACHE">
<path transform="translate(6,165)" d="M1 0h4v1h-4zM0 1h1v1h-1zM5 1h1v1h-1zM0 2h1v1h-1zM0 3h1v1h-1zM0 4h1v1h-1zM0 5h1v1h-1zM0 6h1v1h-1zM0 7h1v1h-1zM0 8h1v1h-1zM5 8h1v1h-1zM1 9h4v1h-4z"/>
<path transform="translate(16,165)" d="M3 0h1v1h-1zM2 1h1v1h-1zM4 1h1v1h-1zM2 2h1v1h-1zM4 2h1v1h-1zM1 3h1v1h-1zM5 3h1v1h-1zM1 4h1v1h-1zM5 4h1v1h-1zM1 5h1v1h-1zM5 5h1v1h-1zM0 6h7v1h-7zM0 7h1v1h-1zM6 7h1v1h-1zM0 8h1v1h-1zM6 8h1v1h-1zM0 9h1v1h-1zM6 9h1v1h-1z"/>
<path transform="translate(23,165)" d="M1 0h4v1h-4zM0 1h1v1h-1zM5 1h1v1h-1zM0 2h1v1h-1zM0 3h1v1h-1zM0 4h1v1h-1zM0 5h1v1h-1zM0 6h1v1h-1zM0 7h1v1h-1zM0 8h1v1h-1zM5 8h1v1h-1zM1 9h4v1h-4z"/>
<path transform="translate(35,165)" d="M0 0h1v1h-1zM4 0h1v1h-1zM0 1h1v1h-1zM4 1h1v1h-1zM0 2h1v1h-1zM4 2h1v1h-1zM0 3h1v1h-1zM4 3h1v1h-1zM0 4h5v1h-5zM0 5h1v1h-1zM4 5h1v1h-1zM0 6h1v1h-1zM4 6h1v1h-1zM0 7h1v1h-1zM4 7h1v1h-1zM0 8h1v1h-1zM4 8h1v1h-1zM0 9h1v1h-1zM4 9h1v1h-1z"/>
<path transform="translate(44,165)" d="M0 0h5v1h-5zM0 1h1v1h-1zM0 2h1v1h-1zM0 3h1v1h-1zM0 4h4v1h-4zM0 5h1v1h-1zM0 6h1v1h-1zM0 7h1v1h-1zM0 8h1v1h-1zM0 9h5v1h-5z"/>
</g>
<rect x="68" y="28" width="26" height="7" fill="#000"/>
<rect x="92" y="29" width="1" height="4.5" fill="#fff"/>
<rect x="69" y="29" width="24" height="1" fill="#fff"/>
<rect x="69" y="29" width="1" height="4.5" fill="#fff"/>
<rect x="75.25" y="29" width="1" height="4.5" fill="#fff"/>
<rect x="81.5" y="29" width="1" height="4.5" fill="#fff"/>
<rect x="87.75" y="29" width="1" height="4.5" fill="#fff"/>
<rect x="71.125" y="30" width="3" height="3" fill="#fff"/>
<rect x="72.125" y="31" width="1" height="1" fill="#000"/>
<rect x="98.9" y="28" width="13.4" height="7" fill="#000"/>
<rect x="110.3" y="29" width="1" height="4.5" fill="#fff"/>
<rect x="99.9" y="29" width="11.4" height="1" fill="#fff"/>
<rect x="99.9" y="29" width="1" height="4.5" fill="#fff"/>
<rect x="106.1" y="29" width="1" height="4.5" fill="#fff"/>
<rect x="117" y="28" width="29.6" height="7" fill="#000"/>
<rect x="144.6" y="29" width="1" height="4.5" fill="#fff"/>
<rect x="118" y="29" width="27.6" height="1" fill="#fff"/>
<rect x="118" y="29" width="1" height="4.5" fill="#fff"/>
<rect x="123.72" y="29" width="1" height="4.5" fill="#fff"/>
<rect x="129.44" y="29" width="1" height="4.5" fill="#fff"/>
<rect x="135.16" y="29" width="1" height="4.5" fill="#fff"/>
<rect x="140.88" y="29" width="1" height="4.5" fill="#fff"/>
<rect x="119.86" y="30" width="3" height="3" fill="#fff"/>
<rect x="120.86" y="31" width="1" height="1" fill="#000"/>
<rect x="152.8" y="28.3" width="13" height="6.7" fill="#000"/>
<rect x="153.8" y="29.3" width="11" height="1" fill="#fff"/>
<rect x="153.8" y="29.3" width="1" height="4.2" fill="#fff"/>
<rect x="159.8" y="29.3" width="1" height="4.2" fill="#fff"/>
<rect x="28" y="22" width="25.1" height="17.9" rx="2.5" fill="#000"/>
<rect x="30" y="24" width="21.1" height="13.6" rx="1.5" fill="#fff"/>
<g aria-label="J1">
<path transform="translate(34,24)" d="M3 0h1v1h-1zM3 1h1v1h-1zM3 2h1v1h-1zM3 3h1v1h-1zM3 4h1v1h-1zM3 5h1v1h-1zM3 6h1v1h-1zM0 7h1v1h-1zM3 7h1v1h-1zM0 8h1v1h-1zM3 8h1v1h-1zM1 9h2v1h-2z"/>
<path transform="translate(42,24)" d="M2 0h1v1h-1zM1 1h2v1h-2zM0 2h1v1h-1zM2 2h1v1h-1zM2 3h1v1h-1zM2 4h1v1h-1zM2 5h1v1h-1zM2 6h1v1h-1zM2 7h1v1h-1zM2 8h1v1h-1zM2 9h1v1h-1z"/>
</g>
<polygon points="51.1,27.7 60.1,29.1 60.1,33.2 51.1,34.7" fill="#000"/>
<rect x="60.1" y="29.2" width="4.5" height="3.9" fill="#000"/>
<rect x="64.6" y="30.2" width="3.4" height="2" fill="#000"/>
<polygon points="49.9,29.9 59.5,30.7 59.5,31.7 49.9,32.5" fill="#fff"/>
<rect x="69" y="3" width="24.7" height="18.7" rx="2.5" fill="#000"/>
<rect x="71" y="5" width="20.7" height="14.4" rx="1.5" fill="#fff"/>
<g aria-label="J2">
<path transform="translate(74,7)" d="M3 0h1v1h-1zM3 1h1v1h-1zM3 2h1v1h-1zM3 3h1v1h-1zM3 4h1v1h-1zM3 5h1v1h-1zM3 6h1v1h-1zM0 7h1v1h-1zM3 7h1v1h-1zM0 8h1v1h-1zM3 8h1v1h-1zM1 9h2v1h-2z"/>
<path transform="translate(81,7)" d="M1 0h3v1h-3zM0 1h1v1h-1zM4 1h1v1h-1zM4 2h1v1h-1zM4 3h1v1h-1zM3 4h1v1h-1zM2 5h1v1h-1zM1 6h1v1h-1zM0 7h1v1h-1zM0 8h1v1h-1zM0 9h5v1h-5z"/>
</g>
<line x1="93" y1="19" x2="99.8" y2="28.2" stroke="#000" stroke-width="3.6"/>
<line x1="94.36" y1="20.84" x2="97.42" y2="24.98" stroke="#fff" stroke-width="0.9"/>
<rect x="147.7" y="3.2" width="24.2" height="18.7" rx="2.5" fill="#000"/>
<rect x="149.7" y="5.2" width="20.2" height="14.4" rx="1.5" fill="#fff"/>
<g aria-label="J3">
<path transform="translate(153,6)" d="M3 0h1v1h-1zM3 1h1v1h-1zM3 2h1v1h-1zM3 3h1v1h-1zM3 4h1v1h-1zM3 5h1v1h-1zM3 6h1v1h-1zM0 7h1v1h-1zM3 7h1v1h-1zM0 8h1v1h-1zM3 8h1v1h-1zM1 9h2v1h-2z"/>
<path transform="translate(160,6)" d="M1 0h3v1h-3zM0 1h1v1h-1zM4 1h1v1h-1zM4 2h1v1h-1zM4 3h1v1h-1zM2 4h2v1h-2zM4 5h1v1h-1zM4 6h1v1h-1zM4 7h1v1h-1zM0 8h1v1h-1zM4 8h1v1h-1zM1 9h3v1h-3z"/>
</g>
<line x1="147.8" y1="19" x2="142.3" y2="27.8" stroke="#000" stroke-width="4"/>
<line x1="146.7" y1="20.76" x2="146.04" y2="21.816" stroke="#fff" stroke-width="0.9"/>
<rect x="180.2" y="22.4" width="25.6" height="18.1" rx="2.5" fill="#000"/>
<rect x="182.2" y="24.4" width="21.6" height="13.8" rx="1.5" fill="#fff"/>
<g aria-label="J4">
<path transform="translate(186,26)" d="M3 0h1v1h-1zM3 1h1v1h-1zM3 2h1v1h-1zM3 3h1v1h-1zM3 4h1v1h-1zM3 5h1v1h-1zM3 6h1v1h-1zM0 7h1v1h-1zM3 7h1v1h-1zM0 8h1v1h-1zM3 8h1v1h-1zM1 9h2v1h-2z"/>
<path transform="translate(193,26)" d="M3 0h1v1h-1zM2 1h2v1h-2zM2 2h2v1h-2zM1 3h1v1h-1zM3 3h1v1h-1zM1 4h1v1h-1zM3 4h1v1h-1zM0 5h1v1h-1zM3 5h1v1h-1zM0 6h5v1h-5zM3 7h1v1h-1zM3 8h1v1h-1zM3 9h1v1h-1z"/>
</g>
<polygon points="182.4,26.3 173.1,29.7 173.1,33.8 182.4,37.3" fill="#000"/>
<rect x="168.2" y="29.8" width="4.9" height="3.9" fill="#000"/>
<rect x="165.8" y="30.8" width="2.4" height="2" fill="#000"/>
<polygon points="183.6,28.3 173.7,31.3 173.7,32.3 183.6,35.3" fill="#fff"/>
<rect x="28" y="109" width="14" height="6" fill="#000"/>
<rect x="29" y="110" width="1" height="4" fill="#fff"/>
<rect x="33.3333" y="110" width="1" height="4" fill="#fff"/>
<rect x="37.6667" y="110" width="1" height="4" fill="#fff"/>
<rect x="23.1" y="73.9" width="25.3" height="18.6" rx="2.5" fill="#000"/>
<rect x="25.1" y="75.9" width="21.3" height="14.3" rx="1.5" fill="#fff"/>
<g aria-label="W3">
<path transform="translate(26,78)" d="M0 0h1v1h-1zM4 0h1v1h-1zM8 0h1v1h-1zM0 1h1v1h-1zM4 1h1v1h-1zM8 1h1v1h-1zM0 2h1v1h-1zM4 2h1v1h-1zM8 2h1v1h-1zM0 3h1v1h-1zM4 3h1v1h-1zM8 3h1v1h-1zM1 4h1v1h-1zM3 4h1v1h-1zM5 4h1v1h-1zM7 4h1v1h-1zM1 5h1v1h-1zM3 5h1v1h-1zM5 5h1v1h-1zM7 5h1v1h-1zM1 6h1v1h-1zM3 6h1v1h-1zM5 6h1v1h-1zM7 6h1v1h-1zM1 7h1v1h-1zM3 7h1v1h-1zM5 7h1v1h-1zM7 7h1v1h-1zM2 8h1v1h-1zM6 8h1v1h-1zM2 9h1v1h-1zM6 9h1v1h-1z"/>
<path transform="translate(38,78)" d="M1 0h3v1h-3zM0 1h1v1h-1zM4 1h1v1h-1zM4 2h1v1h-1zM4 3h1v1h-1zM2 4h2v1h-2zM4 5h1v1h-1zM4 6h1v1h-1zM4 7h1v1h-1zM0 8h1v1h-1zM4 8h1v1h-1zM1 9h3v1h-3z"/>
</g>
<rect x="31.9" y="90.2" width="6.2" height="6.8" fill="#000"/>
<rect x="33.1" y="97" width="3.8" height="8" fill="#000"/>
<rect x="33.6" y="105" width="2.8" height="4" fill="#000"/>
<rect x="33.9" y="89.5" width="2.2" height="6.5" fill="#fff"/>
<rect x="159" y="106" width="14" height="7" fill="#000"/>
<rect x="160" y="107" width="1" height="5" fill="#fff"/>
<rect x="164.333" y="107" width="1" height="5" fill="#fff"/>
<rect x="168.667" y="107" width="1" height="5" fill="#fff"/>
<rect x="175" y="106" width="14" height="7" fill="#000"/>
<rect x="176" y="107" width="1" height="5" fill="#fff"/>
<rect x="180.333" y="107" width="1" height="5" fill="#fff"/>
<rect x="184.667" y="107" width="1" height="5" fill="#fff"/>
<rect x="176.4" y="81.4" width="34.4" height="17.4" rx="2.5" fill="#000"/>
<rect x="178.4" y="83.4" width="30.4" height="13.1" rx="1.5" fill="#fff"/>
<g aria-label="JP4">
<path transform="translate(182,84)" d="M3 0h1v1h-1zM3 1h1v1h-1zM3 2h1v1h-1zM3 3h1v1h-1zM3 4h1v1h-1zM3 5h1v1h-1zM3 6h1v1h-1zM0 7h1v1h-1zM3 7h1v1h-1zM0 8h1v1h-1zM3 8h1v1h-1zM1 9h2v1h-2z"/>
<path transform="translate(189,84)" d="M0 0h4v1h-4zM0 1h1v1h-1zM4 1h1v1h-1zM0 2h1v1h-1zM4 2h1v1h-1zM0 3h1v1h-1zM4 3h1v1h-1zM0 4h4v1h-4zM0 5h1v1h-1zM0 6h1v1h-1zM0 7h1v1h-1zM0 8h1v1h-1zM0 9h1v1h-1z"/>
<path transform="translate(197,84)" d="M3 0h1v1h-1zM2 1h2v1h-2zM2 2h2v1h-2zM1 3h1v1h-1zM3 3h1v1h-1zM1 4h1v1h-1zM3 4h1v1h-1zM0 5h1v1h-1zM3 5h1v1h-1zM0 6h5v1h-5zM3 7h1v1h-1zM3 8h1v1h-1zM3 9h1v1h-1z"/>
</g>
<line x1="177.6" y1="96.5" x2="172" y2="105.8" stroke="#000" stroke-width="3.8"/>
<line x1="175.92" y1="99.29" x2="173.12" y2="103.94" stroke="#fff" stroke-width="0.9"/>
<rect x="203" y="100.3" width="25.7" height="17.9" rx="2.5" fill="#000"/>
<rect x="205" y="102.3" width="21.7" height="13.6" rx="1.5" fill="#fff"/>
<g aria-label="W2">
<path transform="translate(207,104)" d="M0 0h1v1h-1zM4 0h1v1h-1zM8 0h1v1h-1zM0 1h1v1h-1zM4 1h1v1h-1zM8 1h1v1h-1zM0 2h1v1h-1zM4 2h1v1h-1zM8 2h1v1h-1zM0 3h1v1h-1zM4 3h1v1h-1zM8 3h1v1h-1zM1 4h1v1h-1zM3 4h1v1h-1zM5 4h1v1h-1zM7 4h1v1h-1zM1 5h1v1h-1zM3 5h1v1h-1zM5 5h1v1h-1zM7 5h1v1h-1zM1 6h1v1h-1zM3 6h1v1h-1zM5 6h1v1h-1zM7 6h1v1h-1zM1 7h1v1h-1zM3 7h1v1h-1zM5 7h1v1h-1zM7 7h1v1h-1zM2 8h1v1h-1zM6 8h1v1h-1zM2 9h1v1h-1zM6 9h1v1h-1z"/>
<path transform="translate(219,104)" d="M1 0h3v1h-3zM0 1h1v1h-1zM4 1h1v1h-1zM4 2h1v1h-1zM4 3h1v1h-1zM3 4h1v1h-1zM2 5h1v1h-1zM1 6h1v1h-1zM0 7h1v1h-1zM0 8h1v1h-1zM0 9h5v1h-5z"/>
</g>
<polygon points="205.4,103.6 195.6,107.5 195.6,111.6 205.4,115.6" fill="#000"/>
<rect x="192.1" y="107.6" width="3.5" height="3.9" fill="#000"/>
<rect x="189" y="108.6" width="3.1" height="2" fill="#000"/>
<polygon points="206.6,105.6 196.2,109.1 196.2,110.1 206.6,113.6" fill="#fff"/>
<rect x="207.3" y="138.2" width="6.7" height="13.3" fill="#000"/>
<rect x="208.3" y="139.2" width="1" height="11.3" fill="#fff"/>
<rect x="208.3" y="139.2" width="4.2" height="1" fill="#fff"/>
<rect x="208.3" y="145.35" width="4.2" height="1" fill="#fff"/>
<rect x="228" y="136" width="36.4" height="18" rx="2.5" fill="#000"/>
<rect x="230" y="138" width="32.4" height="13.7" rx="1.5" fill="#fff"/>
<g aria-label="JP6">
<path transform="translate(233,139)" d="M3 0h1v1h-1zM3 1h1v1h-1zM3 2h1v1h-1zM3 3h1v1h-1zM3 4h1v1h-1zM3 5h1v1h-1zM3 6h1v1h-1zM0 7h1v1h-1zM3 7h1v1h-1zM0 8h1v1h-1zM3 8h1v1h-1zM1 9h2v1h-2z"/>
<path transform="translate(240,139)" d="M0 0h4v1h-4zM0 1h1v1h-1zM4 1h1v1h-1zM0 2h1v1h-1zM4 2h1v1h-1zM0 3h1v1h-1zM4 3h1v1h-1zM0 4h4v1h-4zM0 5h1v1h-1zM0 6h1v1h-1zM0 7h1v1h-1zM0 8h1v1h-1zM0 9h1v1h-1z"/>
<path transform="translate(249,139)" d="M2 0h2v1h-2zM1 1h1v1h-1zM0 2h1v1h-1zM0 3h1v1h-1zM0 4h4v1h-4zM0 5h1v1h-1zM4 5h1v1h-1zM0 6h1v1h-1zM4 6h1v1h-1zM0 7h1v1h-1zM4 7h1v1h-1zM0 8h1v1h-1zM4 8h1v1h-1zM1 9h3v1h-3z"/>
</g>
<polygon points="230,140.3 221.8,143.2 221.8,147.3 230,150.3" fill="#000"/>
<rect x="217.1" y="143.3" width="4.7" height="3.9" fill="#000"/>
<rect x="214" y="144.3" width="3.1" height="2" fill="#000"/>
<polygon points="231.2,142.3 222.4,144.8 222.4,145.8 231.2,148.3" fill="#fff"/>
<rect x="178.3" y="159" width="5.5" height="18.5" fill="#000"/>
<rect x="179.3" y="160" width="3.5" height="1" fill="#fff"/>
<rect x="179.3" y="165.833" width="3.5" height="1" fill="#fff"/>
<rect x="179.3" y="171.667" width="3.5" height="1" fill="#fff"/>
<rect x="179.55" y="161.917" width="3" height="3" fill="#fff"/>
<rect x="180.55" y="162.917" width="1" height="1" fill="#000"/>
<rect x="198.8" y="159.7" width="24.9" height="17.5" rx="2.5" fill="#000"/>
<rect x="200.3" y="161.2" width="21.4" height="13.7" rx="1.5" fill="#fff"/>
<g aria-label="W1">
<path transform="translate(202,163)" d="M0 0h1v1h-1zM4 0h1v1h-1zM8 0h1v1h-1zM0 1h1v1h-1zM4 1h1v1h-1zM8 1h1v1h-1zM0 2h1v1h-1zM4 2h1v1h-1zM8 2h1v1h-1zM0 3h1v1h-1zM4 3h1v1h-1zM8 3h1v1h-1zM1 4h1v1h-1zM3 4h1v1h-1zM5 4h1v1h-1zM7 4h1v1h-1zM1 5h1v1h-1zM3 5h1v1h-1zM5 5h1v1h-1zM7 5h1v1h-1zM1 6h1v1h-1zM3 6h1v1h-1zM5 6h1v1h-1zM7 6h1v1h-1zM1 7h1v1h-1zM3 7h1v1h-1zM5 7h1v1h-1zM7 7h1v1h-1zM2 8h1v1h-1zM6 8h1v1h-1zM2 9h1v1h-1zM6 9h1v1h-1z"/>
<path transform="translate(216,163)" d="M2 0h1v1h-1zM1 1h2v1h-2zM0 2h1v1h-1zM2 2h1v1h-1zM2 3h1v1h-1zM2 4h1v1h-1zM2 5h1v1h-1zM2 6h1v1h-1zM2 7h1v1h-1zM2 8h1v1h-1zM2 9h1v1h-1z"/>
</g>
<polygon points="200.8,163.5 191.8,166.9 191.8,171 200.8,174.5" fill="#000"/>
<rect x="187.1" y="167" width="4.7" height="3.9" fill="#000"/>
<rect x="184" y="168" width="3.1" height="2" fill="#000"/>
<polygon points="202,165.5 192.4,168.5 192.4,169.5 202,172.5" fill="#fff"/>
<rect x="201.2" y="278.1" width="18.7" height="6.6" fill="#000"/>
<rect x="202.2" y="279.1" width="16.7" height="1" fill="#fff"/>
<rect x="202.2" y="279.1" width="1" height="4.1" fill="#fff"/>
<rect x="208.1" y="279.1" width="1" height="4.1" fill="#fff"/>
<rect x="214" y="279.1" width="1" height="4.1" fill="#fff"/>
<rect x="204.15" y="279.9" width="3" height="3" fill="#fff"/>
<rect x="205.15" y="280.9" width="1" height="1" fill="#000"/>
<rect x="187.3" y="243" width="42.4" height="18.2" rx="2.5" fill="#000"/>
<rect x="189.3" y="245" width="38.4" height="13.9" rx="1.5" fill="#fff"/>
<g aria-label="JP12">
<path transform="translate(192,246)" d="M3 0h1v1h-1zM3 1h1v1h-1zM3 2h1v1h-1zM3 3h1v1h-1zM3 4h1v1h-1zM3 5h1v1h-1zM3 6h1v1h-1zM0 7h1v1h-1zM3 7h1v1h-1zM0 8h1v1h-1zM3 8h1v1h-1zM1 9h2v1h-2z"/>
<path transform="translate(200,246)" d="M0 0h4v1h-4zM0 1h1v1h-1zM4 1h1v1h-1zM0 2h1v1h-1zM4 2h1v1h-1zM0 3h1v1h-1zM4 3h1v1h-1zM0 4h4v1h-4zM0 5h1v1h-1zM0 6h1v1h-1zM0 7h1v1h-1zM0 8h1v1h-1zM0 9h1v1h-1z"/>
<path transform="translate(209,246)" d="M2 0h1v1h-1zM1 1h2v1h-2zM0 2h1v1h-1zM2 2h1v1h-1zM2 3h1v1h-1zM2 4h1v1h-1zM2 5h1v1h-1zM2 6h1v1h-1zM2 7h1v1h-1zM2 8h1v1h-1zM2 9h1v1h-1z"/>
<path transform="translate(216,246)" d="M1 0h3v1h-3zM0 1h1v1h-1zM4 1h1v1h-1zM4 2h1v1h-1zM4 3h1v1h-1zM3 4h1v1h-1zM2 5h1v1h-1zM1 6h1v1h-1zM0 7h1v1h-1zM0 8h1v1h-1zM0 9h5v1h-5z"/>
</g>
<rect x="206" y="258.9" width="6.2" height="6.8" fill="#000"/>
<rect x="207.2" y="265.7" width="3.8" height="8" fill="#000"/>
<rect x="208.1" y="273.7" width="2" height="4.5" fill="#000"/>
<rect x="208" y="258.2" width="2.2" height="6.5" fill="#fff"/>
<rect x="213.1" y="300" width="18.6" height="6.5" fill="#000"/>
<rect x="214.1" y="301" width="16.6" height="1" fill="#fff"/>
<rect x="214.1" y="301" width="1" height="4" fill="#fff"/>
<rect x="219.967" y="301" width="1" height="4" fill="#fff"/>
<rect x="225.833" y="301" width="1" height="4" fill="#fff"/>
<rect x="216.033" y="301.75" width="3" height="3" fill="#fff"/>
<rect x="217.033" y="302.75" width="1" height="1" fill="#000"/>
<rect x="246.7" y="295.1" width="25.3" height="17.6" rx="2.5" fill="#000"/>
<rect x="248.7" y="297.1" width="21.3" height="13.3" rx="1.5" fill="#fff"/>
<g aria-label="W4">
<path transform="translate(250,298)" d="M0 0h1v1h-1zM4 0h1v1h-1zM8 0h1v1h-1zM0 1h1v1h-1zM4 1h1v1h-1zM8 1h1v1h-1zM0 2h1v1h-1zM4 2h1v1h-1zM8 2h1v1h-1zM0 3h1v1h-1zM4 3h1v1h-1zM8 3h1v1h-1zM1 4h1v1h-1zM3 4h1v1h-1zM5 4h1v1h-1zM7 4h1v1h-1zM1 5h1v1h-1zM3 5h1v1h-1zM5 5h1v1h-1zM7 5h1v1h-1zM1 6h1v1h-1zM3 6h1v1h-1zM5 6h1v1h-1zM7 6h1v1h-1zM1 7h1v1h-1zM3 7h1v1h-1zM5 7h1v1h-1zM7 7h1v1h-1zM2 8h1v1h-1zM6 8h1v1h-1zM2 9h1v1h-1zM6 9h1v1h-1z"/>
<path transform="translate(262,298)" d="M3 0h1v1h-1zM2 1h2v1h-2zM2 2h2v1h-2zM1 3h1v1h-1zM3 3h1v1h-1zM1 4h1v1h-1zM3 4h1v1h-1zM0 5h1v1h-1zM3 5h1v1h-1zM0 6h5v1h-5zM3 7h1v1h-1zM3 8h1v1h-1zM3 9h1v1h-1z"/>
</g>
<polygon points="248.7,297 239.2,301.9 239.2,306 248.7,311" fill="#000"/>
<rect x="235.2" y="302" width="4" height="3.9" fill="#000"/>
<rect x="231.7" y="303" width="3.5" height="2" fill="#000"/>
<polygon points="249.9,298.8 239.8,303.5 239.8,304.5 249.9,309.2" fill="#fff"/>
<rect x="590" y="174" width="13" height="6.5" fill="#000"/>
<rect x="591" y="175" width="1" height="4.5" fill="#fff"/>
<rect x="597" y="175" width="1" height="4.5" fill="#fff"/>
<rect x="549.1" y="152.8" width="34.7" height="18.9" rx="2.5" fill="#000"/>
<rect x="551.1" y="154.8" width="30.7" height="14.6" rx="1.5" fill="#fff"/>
<g aria-label="JP9">
<path transform="translate(556,157)" d="M3 0h1v1h-1zM3 1h1v1h-1zM3 2h1v1h-1zM3 3h1v1h-1zM3 4h1v1h-1zM3 5h1v1h-1zM3 6h1v1h-1zM0 7h1v1h-1zM3 7h1v1h-1zM0 8h1v1h-1zM3 8h1v1h-1zM1 9h2v1h-2z"/>
<path transform="translate(563,157)" d="M0 0h4v1h-4zM0 1h1v1h-1zM4 1h1v1h-1zM0 2h1v1h-1zM4 2h1v1h-1zM0 3h1v1h-1zM4 3h1v1h-1zM0 4h4v1h-4zM0 5h1v1h-1zM0 6h1v1h-1zM0 7h1v1h-1zM0 8h1v1h-1zM0 9h1v1h-1z"/>
<path transform="translate(572,157)" d="M1 0h3v1h-3zM0 1h1v1h-1zM4 1h1v1h-1zM0 2h1v1h-1zM4 2h1v1h-1zM0 3h1v1h-1zM4 3h1v1h-1zM0 4h1v1h-1zM4 4h1v1h-1zM1 5h4v1h-4zM4 6h1v1h-1zM4 7h1v1h-1zM3 8h1v1h-1zM1 9h2v1h-2z"/>
</g>
<line x1="582.8" y1="168.5" x2="590.5" y2="179.2" stroke="#000" stroke-width="3.2"/>
<line x1="583.724" y1="169.784" x2="585.726" y2="172.566" stroke="#fff" stroke-width="0.9"/>
<rect x="79" y="294" width="19" height="6.7" fill="#000"/>
<rect x="80" y="295" width="1" height="4.7" fill="#fff"/>
<rect x="86" y="295" width="1" height="4.7" fill="#fff"/>
<rect x="92" y="295" width="1" height="4.7" fill="#fff"/>
<rect x="82" y="295.85" width="3" height="3" fill="#fff"/>
<rect x="83" y="296.85" width="1" height="1" fill="#000"/>
<rect x="27.9" y="287.9" width="36.2" height="18.7" rx="2.5" fill="#000"/>
<rect x="29.9" y="289.9" width="32.2" height="13.9" rx="1.5" fill="#fff"/>
<g aria-label="JP1">
<path transform="translate(35,290)" d="M3 0h1v1h-1zM3 1h1v1h-1zM3 2h1v1h-1zM3 3h1v1h-1zM3 4h1v1h-1zM3 5h1v1h-1zM3 6h1v1h-1zM0 7h1v1h-1zM3 7h1v1h-1zM0 8h1v1h-1zM3 8h1v1h-1zM1 9h2v1h-2z"/>
<path transform="translate(43,290)" d="M0 0h4v1h-4zM0 1h1v1h-1zM4 1h1v1h-1zM0 2h1v1h-1zM4 2h1v1h-1zM0 3h1v1h-1zM4 3h1v1h-1zM0 4h4v1h-4zM0 5h1v1h-1zM0 6h1v1h-1zM0 7h1v1h-1zM0 8h1v1h-1zM0 9h1v1h-1z"/>
<path transform="translate(52,290)" d="M2 0h1v1h-1zM1 1h2v1h-2zM0 2h1v1h-1zM2 2h1v1h-1zM2 3h1v1h-1zM2 4h1v1h-1zM2 5h1v1h-1zM2 6h1v1h-1zM2 7h1v1h-1zM2 8h1v1h-1zM2 9h1v1h-1z"/>
</g>
<polygon points="62.1,293.8 71.1,295.2 71.1,299.3 62.1,300.8" fill="#000"/>
<rect x="71.1" y="295.3" width="4.5" height="3.9" fill="#000"/>
<rect x="75.6" y="296.3" width="3.4" height="2" fill="#000"/>
<polygon points="60.9,295.9 70.5,296.8 70.5,297.8 60.9,298.7" fill="#fff"/>
<rect x="43" y="309" width="107" height="106" fill="#000"/>
<polygon points="47.2,312.7 50.14,312.7 51.4,314.5 50.14,316.3 47.2,316.3" fill="#fff"/>
<polygon points="47.2,319.33 47.2,321.76 49.3,322.93 51.4,321.76 51.4,319.33" fill="#fff"/>
<polygon points="51.4,325.96 48.46,325.96 47.2,327.76 48.46,329.56 51.4,329.56" fill="#fff"/>
<rect x="47.2" y="332.59" width="4.2" height="3.6" fill="#fff"/>
<polygon points="47.2,342.82 47.2,340.39 49.3,339.22 51.4,340.39 51.4,342.82" fill="#fff"/>
<polygon points="47.2,349.45 47.2,347.02 49.3,345.85 51.4,347.02 51.4,349.45" fill="#fff"/>
<rect x="47.2" y="353.38" width="4.2" height="1.8" fill="#fff"/>
<rect x="48.25" y="352.48" width="2.1" height="3.6" fill="#fff"/>
<polygon points="47.2,362.71 47.2,360.28 49.3,359.11 51.4,360.28 51.4,362.71" fill="#fff"/>
<polygon points="47.2,365.74 50.14,365.74 51.4,367.54 50.14,369.34 47.2,369.34" fill="#fff"/>
<rect x="47.2" y="373.27" width="4.2" height="1.8" fill="#fff"/>
<rect x="48.25" y="372.37" width="2.1" height="3.6" fill="#fff"/>
<polygon points="47.2,382.6 47.2,380.17 49.3,379 51.4,380.17 51.4,382.6" fill="#fff"/>
<rect x="47.2" y="386.53" width="4.2" height="1.8" fill="#fff"/>
<rect x="48.25" y="385.63" width="2.1" height="3.6" fill="#fff"/>
<polygon points="47.2,392.26 47.2,394.69 49.3,395.86 51.4,394.69 51.4,392.26" fill="#fff"/>
<polygon points="47.2,402.49 47.2,400.06 49.3,398.89 51.4,400.06 51.4,402.49" fill="#fff"/>
<polygon points="47.2,409.12 47.2,406.69 49.3,405.52 51.4,406.69 51.4,409.12" fill="#fff"/>
<polygon points="58.24,312.7 55.3,312.7 54.04,314.5 55.3,316.3 58.24,316.3" fill="#fff"/>
<polygon points="58.24,319.33 55.3,319.33 54.04,321.13 55.3,322.93 58.24,322.93" fill="#fff"/>
<polygon points="54.04,329.56 54.04,327.13 56.14,325.96 58.24,327.13 58.24,329.56" fill="#fff"/>
<polygon points="54.04,332.59 54.04,335.02 56.14,336.19 58.24,335.02 58.24,332.59" fill="#fff"/>
<polygon points="54.04,342.82 54.04,340.39 56.14,339.22 58.24,340.39 58.24,342.82" fill="#fff"/>
<rect x="54.04" y="346.75" width="4.2" height="1.8" fill="#fff"/>
<rect x="55.09" y="345.85" width="2.1" height="3.6" fill="#fff"/>
<polygon points="58.24,352.48 55.3,352.48 54.04,354.28 55.3,356.08 58.24,356.08" fill="#fff"/>
<polygon points="54.04,362.71 54.04,360.28 56.14,359.11 58.24,360.28 58.24,362.71" fill="#fff"/>
<rect x="54.04" y="366.64" width="4.2" height="1.8" fill="#fff"/>
<rect x="55.09" y="365.74" width="2.1" height="3.6" fill="#fff"/>
<polygon points="54.04,375.97 54.04,373.54 56.14,372.37 58.24,373.54 58.24,375.97" fill="#fff"/>
<polygon points="54.04,379 54.04,381.43 56.14,382.6 58.24,381.43 58.24,379" fill="#fff"/>
<rect x="54.04" y="385.63" width="4.2" height="3.6" fill="#fff"/>
<rect x="54.04" y="392.26" width="4.2" height="3.6" fill="#fff"/>
<rect x="54.04" y="399.79" width="4.2" height="1.8" fill="#fff"/>
<rect x="55.09" y="398.89" width="2.1" height="3.6" fill="#fff"/>
<polygon points="54.04,409.12 54.04,406.69 56.14,405.52 58.24,406.69 58.24,409.12" fill="#fff"/>
<rect x="60.88" y="313.6" width="4.2" height="1.8" fill="#fff"/>
<rect x="61.93" y="312.7" width="2.1" height="3.6" fill="#fff"/>
<rect x="60.88" y="320.23" width="4.2" height="1.8" fill="#fff"/>
<rect x="61.93" y="319.33" width="2.1" height="3.6" fill="#fff"/>
<polygon points="65.08,325.96 62.14,325.96 60.88,327.76 62.14,329.56 65.08,329.56" fill="#fff"/>
<polygon points="60.88,336.19 60.88,333.76 62.98,332.59 65.08,333.76 65.08,336.19" fill="#fff"/>
<polygon points="60.88,339.22 60.88,341.65 62.98,342.82 65.08,341.65 65.08,339.22" fill="#fff"/>
<polygon points="60.88,349.45 60.88,347.02 62.98,345.85 65.08,347.02 65.08,349.45" fill="#fff"/>
<rect x="60.88" y="353.38" width="4.2" height="1.8" fill="#fff"/>
<rect x="61.93" y="352.48" width="2.1" height="3.6" fill="#fff"/>
<polygon points="60.88,359.11 60.88,361.54 62.98,362.71 65.08,361.54 65.08,359.11" fill="#fff"/>
<polygon points="60.88,365.74 63.82,365.74 65.08,367.54 63.82,369.34 60.88,369.34" fill="#fff"/>
<polygon points="65.08,372.37 62.14,372.37 60.88,374.17 62.14,375.97 65.08,375.97" fill="#fff"/>
<polygon points="60.88,379 60.88,381.43 62.98,382.6 65.08,381.43 65.08,379" fill="#fff"/>
<rect x="60.88" y="386.53" width="4.2" height="1.8" fill="#fff"/>
<rect x="61.93" y="385.63" width="2.1" height="3.6" fill="#fff"/>
<polygon points="60.88,395.86 60.88,393.43 62.98,392.26 65.08,393.43 65.08,395.86" fill="#fff"/>
<rect x="60.88" y="399.79" width="4.2" height="1.8" fill="#fff"/>
<rect x="61.93" y="398.89" width="2.1" height="3.6" fill="#fff"/>
<polygon points="60.88,405.52 63.82,405.52 65.08,407.32 63.82,409.12 60.88,409.12" fill="#fff"/>
<rect x="67.72" y="313.6" width="4.2" height="1.8" fill="#fff"/>
<rect x="68.77" y="312.7" width="2.1" height="3.6" fill="#fff"/>
<rect x="67.72" y="319.33" width="4.2" height="3.6" fill="#fff"/>
<polygon points="67.72,325.96 67.72,328.39 69.82,329.56 71.92,328.39 71.92,325.96" fill="#fff"/>
<polygon points="67.72,395.86 67.72,393.43 69.82,392.26 71.92,393.43 71.92,395.86" fill="#fff"/>
<rect x="67.72" y="399.79" width="4.2" height="1.8" fill="#fff"/>
<rect x="68.77" y="398.89" width="2.1" height="3.6" fill="#fff"/>
<rect x="67.72" y="406.42" width="4.2" height="1.8" fill="#fff"/>
<rect x="68.77" y="405.52" width="2.1" height="3.6" fill="#fff"/>
<rect x="74.56" y="312.7" width="4.2" height="3.6" fill="#fff"/>
<polygon points="74.56,319.33 74.56,321.76 76.66,322.93 78.76,321.76 78.76,319.33" fill="#fff"/>
<polygon points="74.56,325.96 77.5,325.96 78.76,327.76 77.5,329.56 74.56,329.56" fill="#fff"/>
<polygon points="74.56,395.86 74.56,393.43 76.66,392.26 78.76,393.43 78.76,395.86" fill="#fff"/>
<rect x="74.56" y="399.79" width="4.2" height="1.8" fill="#fff"/>
<rect x="75.61" y="398.89" width="2.1" height="3.6" fill="#fff"/>
<rect x="74.56" y="405.52" width="4.2" height="3.6" fill="#fff"/>
<polygon points="81.4,316.3 81.4,313.87 83.5,312.7 85.6,313.87 85.6,316.3" fill="#fff"/>
<rect x="81.4" y="320.23" width="4.2" height="1.8" fill="#fff"/>
<rect x="82.45" y="319.33" width="2.1" height="3.6" fill="#fff"/>
<polygon points="81.4,329.56 81.4,327.13 83.5,325.96 85.6,327.13 85.6,329.56" fill="#fff"/>
<rect x="81.4" y="393.16" width="4.2" height="1.8" fill="#fff"/>
<rect x="82.45" y="392.26" width="2.1" height="3.6" fill="#fff"/>
<polygon points="81.4,398.89 81.4,401.32 83.5,402.49 85.6,401.32 85.6,398.89" fill="#fff"/>
<polygon points="85.6,405.52 82.66,405.52 81.4,407.32 82.66,409.12 85.6,409.12" fill="#fff"/>
<rect x="88.24" y="312.7" width="4.2" height="3.6" fill="#fff"/>
<rect x="88.24" y="320.23" width="4.2" height="1.8" fill="#fff"/>
<rect x="89.29" y="319.33" width="2.1" height="3.6" fill="#fff"/>
<polygon points="92.44,325.96 89.5,325.96 88.24,327.76 89.5,329.56 92.44,329.56" fill="#fff"/>
<polygon points="88.24,392.26 91.18,392.26 92.44,394.06 91.18,395.86 88.24,395.86" fill="#fff"/>
<polygon points="92.44,398.89 89.5,398.89 88.24,400.69 89.5,402.49 92.44,402.49" fill="#fff"/>
<rect x="88.24" y="406.42" width="4.2" height="1.8" fill="#fff"/>
<rect x="89.29" y="405.52" width="2.1" height="3.6" fill="#fff"/>
<polygon points="99.28,312.7 96.34,312.7 95.08,314.5 96.34,316.3 99.28,316.3" fill="#fff"/>
<polygon points="95.08,319.33 98.02,319.33 99.28,321.13 98.02,322.93 95.08,322.93" fill="#fff"/>
<polygon points="95.08,325.96 98.02,325.96 99.28,327.76 98.02,329.56 95.08,329.56" fill="#fff"/>
<polygon points="95.08,392.26 95.08,394.69 97.18,395.86 99.28,394.69 99.28,392.26" fill="#fff"/>
<polygon points="95.08,398.89 95.08,401.32 97.18,402.49 99.28,401.32 99.28,398.89" fill="#fff"/>
<rect x="95.08" y="405.52" width="4.2" height="3.6" fill="#fff"/>
<polygon points="101.92,312.7 101.92,315.13 104.02,316.3 106.12,315.13 106.12,312.7" fill="#fff"/>
<polygon points="101.92,322.93 101.92,320.5 104.02,319.33 106.12,320.5 106.12,322.93" fill="#fff"/>
<rect x="101.92" y="326.86" width="4.2" height="1.8" fill="#fff"/>
<rect x="102.97" y="325.96" width="2.1" height="3.6" fill="#fff"/>
<polygon points="101.92,392.26 104.86,392.26 106.12,394.06 104.86,395.86 101.92,395.86" fill="#fff"/>
<rect x="101.92" y="399.79" width="4.2" height="1.8" fill="#fff"/>
<rect x="102.97" y="398.89" width="2.1" height="3.6" fill="#fff"/>
<polygon points="106.12,405.52 103.18,405.52 101.92,407.32 103.18,409.12 106.12,409.12" fill="#fff"/>
<polygon points="108.76,312.7 111.7,312.7 112.96,314.5 111.7,316.3 108.76,316.3" fill="#fff"/>
<rect x="108.76" y="319.33" width="4.2" height="3.6" fill="#fff"/>
<polygon points="112.96,325.96 110.02,325.96 108.76,327.76 110.02,329.56 112.96,329.56" fill="#fff"/>
<polygon points="108.76,392.26 111.7,392.26 112.96,394.06 111.7,395.86 108.76,395.86" fill="#fff"/>
<rect x="108.76" y="399.79" width="4.2" height="1.8" fill="#fff"/>
<rect x="109.81" y="398.89" width="2.1" height="3.6" fill="#fff"/>
<polygon points="108.76,409.12 108.76,406.69 110.86,405.52 112.96,406.69 112.96,409.12" fill="#fff"/>
<polygon points="115.6,316.3 115.6,313.87 117.7,312.7 119.8,313.87 119.8,316.3" fill="#fff"/>
<rect x="115.6" y="320.23" width="4.2" height="1.8" fill="#fff"/>
<rect x="116.65" y="319.33" width="2.1" height="3.6" fill="#fff"/>
<polygon points="119.8,325.96 116.86,325.96 115.6,327.76 116.86,329.56 119.8,329.56" fill="#fff"/>
<polygon points="115.6,392.26 115.6,394.69 117.7,395.86 119.8,394.69 119.8,392.26" fill="#fff"/>
<polygon points="115.6,398.89 118.54,398.89 119.8,400.69 118.54,402.49 115.6,402.49" fill="#fff"/>
<polygon points="115.6,405.52 115.6,407.95 117.7,409.12 119.8,407.95 119.8,405.52" fill="#fff"/>
<polygon points="126.64,312.7 123.7,312.7 122.44,314.5 123.7,316.3 126.64,316.3" fill="#fff"/>
<polygon points="126.64,319.33 123.7,319.33 122.44,321.13 123.7,322.93 126.64,322.93" fill="#fff"/>
<polygon points="122.44,329.56 122.44,327.13 124.54,325.96 126.64,327.13 126.64,329.56" fill="#fff"/>
<rect x="122.44" y="392.26" width="4.2" height="3.6" fill="#fff"/>
<polygon points="122.44,402.49 122.44,400.06 124.54,398.89 126.64,400.06 126.64,402.49" fill="#fff"/>
<rect x="122.44" y="406.42" width="4.2" height="1.8" fill="#fff"/>
<rect x="123.49" y="405.52" width="2.1" height="3.6" fill="#fff"/>
<rect x="129.28" y="313.6" width="4.2" height="1.8" fill="#fff"/>
<rect x="130.33" y="312.7" width="2.1" height="3.6" fill="#fff"/>
<polygon points="129.28,319.33 132.22,319.33 133.48,321.13 132.22,322.93 129.28,322.93" fill="#fff"/>
<polygon points="129.28,325.96 132.22,325.96 133.48,327.76 132.22,329.56 129.28,329.56" fill="#fff"/>
<rect x="129.28" y="332.59" width="4.2" height="3.6" fill="#fff"/>
<polygon points="129.28,339.22 132.22,339.22 133.48,341.02 132.22,342.82 129.28,342.82" fill="#fff"/>
<rect x="129.28" y="346.75" width="4.2" height="1.8" fill="#fff"/>
<rect x="130.33" y="345.85" width="2.1" height="3.6" fill="#fff"/>
<polygon points="133.48,352.48 130.54,352.48 129.28,354.28 130.54,356.08 133.48,356.08" fill="#fff"/>
<rect x="129.28" y="360.01" width="4.2" height="1.8" fill="#fff"/>
<rect x="130.33" y="359.11" width="2.1" height="3.6" fill="#fff"/>
<polygon points="133.48,365.74 130.54,365.74 129.28,367.54 130.54,369.34 133.48,369.34" fill="#fff"/>
<polygon points="129.28,375.97 129.28,373.54 131.38,372.37 133.48,373.54 133.48,375.97" fill="#fff"/>
<polygon points="129.28,382.6 129.28,380.17 131.38,379 133.48,380.17 133.48,382.6" fill="#fff"/>
<polygon points="129.28,385.63 132.22,385.63 133.48,387.43 132.22,389.23 129.28,389.23" fill="#fff"/>
<polygon points="133.48,392.26 130.54,392.26 129.28,394.06 130.54,395.86 133.48,395.86" fill="#fff"/>
<rect x="129.28" y="398.89" width="4.2" height="3.6" fill="#fff"/>
<rect x="129.28" y="405.52" width="4.2" height="3.6" fill="#fff"/>
<polygon points="136.12,316.3 136.12,313.87 138.22,312.7 140.32,313.87 140.32,316.3" fill="#fff"/>
<polygon points="136.12,322.93 136.12,320.5 138.22,319.33 140.32,320.5 140.32,322.93" fill="#fff"/>
<rect x="136.12" y="325.96" width="4.2" height="3.6" fill="#fff"/>
<rect x="136.12" y="332.59" width="4.2" height="3.6" fill="#fff"/>
<polygon points="136.12,339.22 139.06,339.22 140.32,341.02 139.06,342.82 136.12,342.82" fill="#fff"/>
<rect x="136.12" y="345.85" width="4.2" height="3.6" fill="#fff"/>
<rect x="136.12" y="353.38" width="4.2" height="1.8" fill="#fff"/>
<rect x="137.17" y="352.48" width="2.1" height="3.6" fill="#fff"/>
<rect x="136.12" y="359.11" width="4.2" height="3.6" fill="#fff"/>
<polygon points="140.32,365.74 137.38,365.74 136.12,367.54 137.38,369.34 140.32,369.34" fill="#fff"/>
<polygon points="136.12,372.37 139.06,372.37 140.32,374.17 139.06,375.97 136.12,375.97" fill="#fff"/>
<rect x="136.12" y="379" width="4.2" height="3.6" fill="#fff"/>
<polygon points="140.32,385.63 137.38,385.63 136.12,387.43 137.38,389.23 140.32,389.23" fill="#fff"/>
<rect x="136.12" y="392.26" width="4.2" height="3.6" fill="#fff"/>
<polygon points="136.12,398.89 139.06,398.89 140.32,400.69 139.06,402.49 136.12,402.49" fill="#fff"/>
<polygon points="136.12,409.12 136.12,406.69 138.22,405.52 140.32,406.69 140.32,409.12" fill="#fff"/>
<polygon points="147.16,312.7 144.22,312.7 142.96,314.5 144.22,316.3 147.16,316.3" fill="#fff"/>
<polygon points="142.96,319.33 145.9,319.33 147.16,321.13 145.9,322.93 142.96,322.93" fill="#fff"/>
<polygon points="142.96,325.96 142.96,328.39 145.06,329.56 147.16,328.39 147.16,325.96" fill="#fff"/>
<rect x="142.96" y="333.49" width="4.2" height="1.8" fill="#fff"/>
<rect x="144.01" y="332.59" width="2.1" height="3.6" fill="#fff"/>
<polygon points="142.96,342.82 142.96,340.39 145.06,339.22 147.16,340.39 147.16,342.82" fill="#fff"/>
<polygon points="147.16,345.85 144.22,345.85 142.96,347.65 144.22,349.45 147.16,349.45" fill="#fff"/>
<polygon points="142.96,356.08 142.96,353.65 145.06,352.48 147.16,353.65 147.16,356.08" fill="#fff"/>
<polygon points="142.96,359.11 142.96,361.54 145.06,362.71 147.16,361.54 147.16,359.11" fill="#fff"/>
<polygon points="142.96,365.74 145.9,365.74 147.16,367.54 145.9,369.34 142.96,369.34" fill="#fff"/>
<polygon points="142.96,372.37 142.96,374.8 145.06,375.97 147.16,374.8 147.16,372.37" fill="#fff"/>
<rect x="142.96" y="379" width="4.2" height="3.6" fill="#fff"/>
<polygon points="142.96,385.63 142.96,388.06 145.06,389.23 147.16,388.06 147.16,385.63" fill="#fff"/>
<polygon points="147.16,392.26 144.22,392.26 142.96,394.06 144.22,395.86 147.16,395.86" fill="#fff"/>
<polygon points="147.16,398.89 144.22,398.89 142.96,400.69 144.22,402.49 147.16,402.49" fill="#fff"/>
<polygon points="147.16,405.52 144.22,405.52 142.96,407.32 144.22,409.12 147.16,409.12" fill="#fff"/>
<rect x="74.8" y="338.3" width="2.5" height="2.2" fill="#fff"/>
<rect x="74.8" y="384" width="2.5" height="2.2" fill="#fff"/>
<rect x="74.5" y="338.3" width="2.2" height="2.5" fill="#fff"/>
<rect x="119.5" y="338.3" width="2.2" height="2.5" fill="#fff"/>
<rect x="80.65" y="338.3" width="2.5" height="2.2" fill="#fff"/>
<rect x="80.65" y="384" width="2.5" height="2.2" fill="#fff"/>
<rect x="74.5" y="344.15" width="2.2" height="2.5" fill="#fff"/>
<rect x="119.5" y="344.15" width="2.2" height="2.5" fill="#fff"/>
<rect x="86.5" y="338.3" width="2.5" height="2.2" fill="#fff"/>
<rect x="86.5" y="384" width="2.5" height="2.2" fill="#fff"/>
<rect x="74.5" y="350" width="2.2" height="2.5" fill="#fff"/>
<rect x="119.5" y="350" width="2.2" height="2.5" fill="#fff"/>
<rect x="92.35" y="338.3" width="2.5" height="2.2" fill="#fff"/>
<rect x="92.35" y="384" width="2.5" height="2.2" fill="#fff"/>
<rect x="74.5" y="355.85" width="2.2" height="2.5" fill="#fff"/>
<rect x="119.5" y="355.85" width="2.2" height="2.5" fill="#fff"/>
<rect x="98.2" y="338.3" width="2.5" height="2.2" fill="#fff"/>
<rect x="98.2" y="384" width="2.5" height="2.2" fill="#fff"/>
<rect x="74.5" y="361.7" width="2.2" height="2.5" fill="#fff"/>
<rect x="119.5" y="361.7" width="2.2" height="2.5" fill="#fff"/>
<rect x="104.05" y="338.3" width="2.5" height="2.2" fill="#fff"/>
<rect x="104.05" y="384" width="2.5" height="2.2" fill="#fff"/>
<rect x="74.5" y="367.55" width="2.2" height="2.5" fill="#fff"/>
<rect x="119.5" y="367.55" width="2.2" height="2.5" fill="#fff"/>
<rect x="109.9" y="338.3" width="2.5" height="2.2" fill="#fff"/>
<rect x="109.9" y="384" width="2.5" height="2.2" fill="#fff"/>
<rect x="74.5" y="373.4" width="2.2" height="2.5" fill="#fff"/>
<rect x="119.5" y="373.4" width="2.2" height="2.5" fill="#fff"/>
<rect x="115.75" y="338.3" width="2.5" height="2.2" fill="#fff"/>
<rect x="115.75" y="384" width="2.5" height="2.2" fill="#fff"/>
<rect x="74.5" y="379.25" width="2.2" height="2.5" fill="#fff"/>
<rect x="119.5" y="379.25" width="2.2" height="2.5" fill="#fff"/>
<rect x="121.6" y="338.3" width="2.5" height="2.2" fill="#fff"/>
<rect x="121.6" y="384" width="2.5" height="2.2" fill="#fff"/>
<rect x="74.5" y="385.1" width="2.2" height="2.5" fill="#fff"/>
<rect x="119.5" y="385.1" width="2.2" height="2.5" fill="#fff"/>
<rect x="79" y="342.5" width="37.2" height="37.5" fill="#fff"/>
<rect x="83.7" y="314.7" width="28.3" height="14.2" fill="#fff"/>
<rect x="81.3" y="314.7" width="1" height="14.2" fill="#fff"/>
<g aria-label="CPU">
<path transform="translate(85,316)" d="M1 0h4v1h-4zM0 1h1v1h-1zM5 1h1v1h-1zM0 2h1v1h-1zM0 3h1v1h-1zM0 4h1v1h-1zM0 5h1v1h-1zM0 6h1v1h-1zM0 7h1v1h-1zM0 8h1v1h-1zM5 8h1v1h-1zM1 9h4v1h-4z"/>
<path transform="translate(95,316)" d="M0 0h4v1h-4zM0 1h1v1h-1zM4 1h1v1h-1zM0 2h1v1h-1zM4 2h1v1h-1zM0 3h1v1h-1zM4 3h1v1h-1zM0 4h4v1h-4zM0 5h1v1h-1zM0 6h1v1h-1zM0 7h1v1h-1zM0 8h1v1h-1zM0 9h1v1h-1z"/>
<path transform="translate(104,316)" d="M0 0h1v1h-1zM5 0h1v1h-1zM0 1h1v1h-1zM5 1h1v1h-1zM0 2h1v1h-1zM5 2h1v1h-1zM0 3h1v1h-1zM5 3h1v1h-1zM0 4h1v1h-1zM5 4h1v1h-1zM0 5h1v1h-1zM5 5h1v1h-1zM0 6h1v1h-1zM5 6h1v1h-1zM0 7h1v1h-1zM5 7h1v1h-1zM0 8h1v1h-1zM5 8h1v1h-1zM1 9h4v1h-4z"/>
</g>
<rect x="82.5" y="351.9" width="30.6" height="17.7" rx="2.5" fill="#000"/>
<rect x="84.5" y="353.9" width="26.6" height="13.4" rx="1.5" fill="#fff"/>
<g aria-label="NPU">
<path transform="translate(85,355)" d="M0 0h1v1h-1zM5 0h1v1h-1zM0 1h2v1h-2zM5 1h1v1h-1zM0 2h2v1h-2zM5 2h1v1h-1zM0 3h1v1h-1zM2 3h1v1h-1zM5 3h1v1h-1zM0 4h1v1h-1zM2 4h1v1h-1zM5 4h1v1h-1zM0 5h1v1h-1zM3 5h1v1h-1zM5 5h1v1h-1zM0 6h1v1h-1zM3 6h1v1h-1zM5 6h1v1h-1zM0 7h1v1h-1zM4 7h2v1h-2zM0 8h1v1h-1zM4 8h2v1h-2zM0 9h1v1h-1zM5 9h1v1h-1z"/>
<path transform="translate(95,355)" d="M0 0h4v1h-4zM0 1h1v1h-1zM4 1h1v1h-1zM0 2h1v1h-1zM4 2h1v1h-1zM0 3h1v1h-1zM4 3h1v1h-1zM0 4h4v1h-4zM0 5h1v1h-1zM0 6h1v1h-1zM0 7h1v1h-1zM0 8h1v1h-1zM0 9h1v1h-1z"/>
<path transform="translate(104,355)" d="M0 0h1v1h-1zM5 0h1v1h-1zM0 1h1v1h-1zM5 1h1v1h-1zM0 2h1v1h-1zM5 2h1v1h-1zM0 3h1v1h-1zM5 3h1v1h-1zM0 4h1v1h-1zM5 4h1v1h-1zM0 5h1v1h-1zM5 5h1v1h-1zM0 6h1v1h-1zM5 6h1v1h-1zM0 7h1v1h-1zM5 7h1v1h-1zM0 8h1v1h-1zM5 8h1v1h-1zM1 9h4v1h-4z"/>
</g>
<rect x="50.9" y="403" width="32.1" height="15" fill="#000"/>
<rect x="50.9" y="403" width="31.1" height="12.5" fill="#fff"/>
<g aria-label="JP3">
<path transform="translate(54,404)" d="M3 0h1v1h-1zM3 1h1v1h-1zM3 2h1v1h-1zM3 3h1v1h-1zM3 4h1v1h-1zM3 5h1v1h-1zM3 6h1v1h-1zM0 7h1v1h-1zM3 7h1v1h-1zM0 8h1v1h-1zM3 8h1v1h-1zM1 9h2v1h-2z"/>
<path transform="translate(62,404)" d="M0 0h4v1h-4zM0 1h1v1h-1zM4 1h1v1h-1zM0 2h1v1h-1zM4 2h1v1h-1zM0 3h1v1h-1zM4 3h1v1h-1zM0 4h4v1h-4zM0 5h1v1h-1zM0 6h1v1h-1zM0 7h1v1h-1zM0 8h1v1h-1zM0 9h1v1h-1z"/>
<path transform="translate(70,404)" d="M1 0h3v1h-3zM0 1h1v1h-1zM4 1h1v1h-1zM4 2h1v1h-1zM4 3h1v1h-1zM2 4h2v1h-2zM4 5h1v1h-1zM4 6h1v1h-1zM4 7h1v1h-1zM0 8h1v1h-1zM4 8h1v1h-1zM1 9h3v1h-3z"/>
</g>
<rect x="62" y="434" width="74" height="73" fill="#000"/>
<polygon points="65.1,438.9 65.1,437.28 66.5,436.5 67.9,437.28 67.9,438.9" fill="#fff"/>
<polygon points="65.1,441.1 65.1,442.72 66.5,443.5 67.9,442.72 67.9,441.1" fill="#fff"/>
<polygon points="67.9,445.7 65.94,445.7 65.1,446.9 65.94,448.1 67.9,448.1" fill="#fff"/>
<polygon points="67.9,450.3 65.94,450.3 65.1,451.5 65.94,452.7 67.9,452.7" fill="#fff"/>
<rect x="65.1" y="455.5" width="2.8" height="1.2" fill="#fff"/>
<rect x="65.8" y="454.9" width="1.4" height="2.4" fill="#fff"/>
<polygon points="65.1,459.5 67.06,459.5 67.9,460.7 67.06,461.9 65.1,461.9" fill="#fff"/>
<polygon points="65.1,464.1 65.1,465.72 66.5,466.5 67.9,465.72 67.9,464.1" fill="#fff"/>
<polygon points="67.9,468.7 65.94,468.7 65.1,469.9 65.94,471.1 67.9,471.1" fill="#fff"/>
<rect x="65.1" y="473.9" width="2.8" height="1.2" fill="#fff"/>
<rect x="65.8" y="473.3" width="1.4" height="2.4" fill="#fff"/>
<polygon points="65.1,477.9 67.06,477.9 67.9,479.1 67.06,480.3 65.1,480.3" fill="#fff"/>
<rect x="65.1" y="482.5" width="2.8" height="2.4" fill="#fff"/>
<polygon points="67.9,487.1 65.94,487.1 65.1,488.3 65.94,489.5 67.9,489.5" fill="#fff"/>
<polygon points="65.1,491.7 67.06,491.7 67.9,492.9 67.06,494.1 65.1,494.1" fill="#fff"/>
<rect x="65.1" y="496.3" width="2.8" height="2.4" fill="#fff"/>
<polygon points="67.9,500.9 65.94,500.9 65.1,502.1 65.94,503.3 67.9,503.3" fill="#fff"/>
<polygon points="69.7,436.5 69.7,438.12 71.1,438.9 72.5,438.12 72.5,436.5" fill="#fff"/>
<polygon points="69.7,441.1 69.7,442.72 71.1,443.5 72.5,442.72 72.5,441.1" fill="#fff"/>
<polygon points="69.7,448.1 69.7,446.48 71.1,445.7 72.5,446.48 72.5,448.1" fill="#fff"/>
<polygon points="69.7,450.3 69.7,451.92 71.1,452.7 72.5,451.92 72.5,450.3" fill="#fff"/>
<polygon points="69.7,454.9 69.7,456.52 71.1,457.3 72.5,456.52 72.5,454.9" fill="#fff"/>
<polygon points="69.7,459.5 69.7,461.12 71.1,461.9 72.5,461.12 72.5,459.5" fill="#fff"/>
<rect x="69.7" y="464.1" width="2.8" height="2.4" fill="#fff"/>
<polygon points="69.7,468.7 69.7,470.32 71.1,471.1 72.5,470.32 72.5,468.7" fill="#fff"/>
<polygon points="69.7,475.7 69.7,474.08 71.1,473.3 72.5,474.08 72.5,475.7" fill="#fff"/>
<polygon points="72.5,477.9 70.54,477.9 69.7,479.1 70.54,480.3 72.5,480.3" fill="#fff"/>
<rect x="69.7" y="483.1" width="2.8" height="1.2" fill="#fff"/>
<rect x="70.4" y="482.5" width="1.4" height="2.4" fill="#fff"/>
<polygon points="69.7,487.1 69.7,488.72 71.1,489.5 72.5,488.72 72.5,487.1" fill="#fff"/>
<polygon points="69.7,491.7 71.66,491.7 72.5,492.9 71.66,494.1 69.7,494.1" fill="#fff"/>
<polygon points="69.7,496.3 71.66,496.3 72.5,497.5 71.66,498.7 69.7,498.7" fill="#fff"/>
<polygon points="69.7,503.3 69.7,501.68 71.1,500.9 72.5,501.68 72.5,503.3" fill="#fff"/>
<polygon points="74.3,436.5 74.3,438.12 75.7,438.9 77.1,438.12 77.1,436.5" fill="#fff"/>
<polygon points="77.1,441.1 75.14,441.1 74.3,442.3 75.14,443.5 77.1,443.5" fill="#fff"/>
<rect x="74.3" y="446.3" width="2.8" height="1.2" fill="#fff"/>
<rect x="75" y="445.7" width="1.4" height="2.4" fill="#fff"/>
<polygon points="74.3,450.3 76.26,450.3 77.1,451.5 76.26,452.7 74.3,452.7" fill="#fff"/>
<rect x="74.3" y="455.5" width="2.8" height="1.2" fill="#fff"/>
<rect x="75" y="454.9" width="1.4" height="2.4" fill="#fff"/>
<rect x="74.3" y="460.1" width="2.8" height="1.2" fill="#fff"/>
<rect x="75" y="459.5" width="1.4" height="2.4" fill="#fff"/>
<polygon points="74.3,464.1 76.26,464.1 77.1,465.3 76.26,466.5 74.3,466.5" fill="#fff"/>
<polygon points="74.3,468.7 74.3,470.32 75.7,471.1 77.1,470.32 77.1,468.7" fill="#fff"/>
<rect x="74.3" y="473.3" width="2.8" height="2.4" fill="#fff"/>
<rect x="74.3" y="478.5" width="2.8" height="1.2" fill="#fff"/>
<rect x="75" y="477.9" width="1.4" height="2.4" fill="#fff"/>
<rect x="74.3" y="483.1" width="2.8" height="1.2" fill="#fff"/>
<rect x="75" y="482.5" width="1.4" height="2.4" fill="#fff"/>
<rect x="74.3" y="487.1" width="2.8" height="2.4" fill="#fff"/>
<rect x="74.3" y="491.7" width="2.8" height="2.4" fill="#fff"/>
<rect x="74.3" y="496.3" width="2.8" height="2.4" fill="#fff"/>
<polygon points="74.3,503.3 74.3,501.68 75.7,500.9 77.1,501.68 77.1,503.3" fill="#fff"/>
<polygon points="81.7,436.5 79.74,436.5 78.9,437.7 79.74,438.9 81.7,438.9" fill="#fff"/>
<rect x="78.9" y="441.1" width="2.8" height="2.4" fill="#fff"/>
<rect x="78.9" y="446.3" width="2.8" height="1.2" fill="#fff"/>
<rect x="79.6" y="445.7" width="1.4" height="2.4" fill="#fff"/>
<polygon points="81.7,491.7 79.74,491.7 78.9,492.9 79.74,494.1 81.7,494.1" fill="#fff"/>
<polygon points="81.7,496.3 79.74,496.3 78.9,497.5 79.74,498.7 81.7,498.7" fill="#fff"/>
<polygon points="81.7,500.9 79.74,500.9 78.9,502.1 79.74,503.3 81.7,503.3" fill="#fff"/>
<polygon points="86.3,436.5 84.34,436.5 83.5,437.7 84.34,438.9 86.3,438.9" fill="#fff"/>
<polygon points="83.5,443.5 83.5,441.88 84.9,441.1 86.3,441.88 86.3,443.5" fill="#fff"/>
<polygon points="86.3,445.7 84.34,445.7 83.5,446.9 84.34,448.1 86.3,448.1" fill="#fff"/>
<rect x="83.5" y="491.7" width="2.8" height="2.4" fill="#fff"/>
<polygon points="86.3,496.3 84.34,496.3 83.5,497.5 84.34,498.7 86.3,498.7" fill="#fff"/>
<polygon points="83.5,503.3 83.5,501.68 84.9,500.9 86.3,501.68 86.3,503.3" fill="#fff"/>
<polygon points="88.1,436.5 88.1,438.12 89.5,438.9 90.9,438.12 90.9,436.5" fill="#fff"/>
<polygon points="88.1,443.5 88.1,441.88 89.5,441.1 90.9,441.88 90.9,443.5" fill="#fff"/>
<polygon points="88.1,445.7 88.1,447.32 89.5,448.1 90.9,447.32 90.9,445.7" fill="#fff"/>
<polygon points="90.9,491.7 88.94,491.7 88.1,492.9 88.94,494.1 90.9,494.1" fill="#fff"/>
<polygon points="88.1,496.3 88.1,497.92 89.5,498.7 90.9,497.92 90.9,496.3" fill="#fff"/>
<polygon points="88.1,503.3 88.1,501.68 89.5,500.9 90.9,501.68 90.9,503.3" fill="#fff"/>
<polygon points="92.7,436.5 94.66,436.5 95.5,437.7 94.66,438.9 92.7,438.9" fill="#fff"/>
<rect x="92.7" y="441.7" width="2.8" height="1.2" fill="#fff"/>
<rect x="93.4" y="441.1" width="1.4" height="2.4" fill="#fff"/>
<polygon points="92.7,448.1 92.7,446.48 94.1,445.7 95.5,446.48 95.5,448.1" fill="#fff"/>
<polygon points="92.7,494.1 92.7,492.48 94.1,491.7 95.5,492.48 95.5,494.1" fill="#fff"/>
<polygon points="92.7,498.7 92.7,497.08 94.1,496.3 95.5,497.08 95.5,498.7" fill="#fff"/>
<rect x="92.7" y="501.5" width="2.8" height="1.2" fill="#fff"/>
<rect x="93.4" y="500.9" width="1.4" height="2.4" fill="#fff"/>
<polygon points="97.3,436.5 97.3,438.12 98.7,438.9 100.1,438.12 100.1,436.5" fill="#fff"/>
<rect x="97.3" y="441.7" width="2.8" height="1.2" fill="#fff"/>
<rect x="98" y="441.1" width="1.4" height="2.4" fill="#fff"/>
<polygon points="97.3,448.1 97.3,446.48 98.7,445.7 100.1,446.48 100.1,448.1" fill="#fff"/>
<polygon points="97.3,491.7 99.26,491.7 100.1,492.9 99.26,494.1 97.3,494.1" fill="#fff"/>
<rect x="97.3" y="496.9" width="2.8" height="1.2" fill="#fff"/>
<rect x="98" y="496.3" width="1.4" height="2.4" fill="#fff"/>
<polygon points="97.3,503.3 97.3,501.68 98.7,500.9 100.1,501.68 100.1,503.3" fill="#fff"/>
<polygon points="101.9,438.9 101.9,437.28 103.3,436.5 104.7,437.28 104.7,438.9" fill="#fff"/>
<polygon points="101.9,441.1 101.9,442.72 103.3,443.5 104.7,442.72 104.7,441.1" fill="#fff"/>
<rect x="101.9" y="446.3" width="2.8" height="1.2" fill="#fff"/>
<rect x="102.6" y="445.7" width="1.4" height="2.4" fill="#fff"/>
<polygon points="104.7,491.7 102.74,491.7 101.9,492.9 102.74,494.1 104.7,494.1" fill="#fff"/>
<polygon points="101.9,496.3 101.9,497.92 103.3,498.7 104.7,497.92 104.7,496.3" fill="#fff"/>
<rect x="101.9" y="500.9" width="2.8" height="2.4" fill="#fff"/>
<polygon points="106.5,436.5 108.46,436.5 109.3,437.7 108.46,438.9 106.5,438.9" fill="#fff"/>
<polygon points="106.5,441.1 108.46,441.1 109.3,442.3 108.46,443.5 106.5,443.5" fill="#fff"/>
<rect x="106.5" y="446.3" width="2.8" height="1.2" fill="#fff"/>
<rect x="107.2" y="445.7" width="1.4" height="2.4" fill="#fff"/>
<polygon points="106.5,491.7 108.46,491.7 109.3,492.9 108.46,494.1 106.5,494.1" fill="#fff"/>
<polygon points="109.3,496.3 107.34,496.3 106.5,497.5 107.34,498.7 109.3,498.7" fill="#fff"/>
<polygon points="106.5,503.3 106.5,501.68 107.9,500.9 109.3,501.68 109.3,503.3" fill="#fff"/>
<polygon points="111.1,438.9 111.1,437.28 112.5,436.5 113.9,437.28 113.9,438.9" fill="#fff"/>
<polygon points="113.9,441.1 111.94,441.1 111.1,442.3 111.94,443.5 113.9,443.5" fill="#fff"/>
<polygon points="113.9,445.7 111.94,445.7 111.1,446.9 111.94,448.1 113.9,448.1" fill="#fff"/>
<polygon points="113.9,491.7 111.94,491.7 111.1,492.9 111.94,494.1 113.9,494.1" fill="#fff"/>
<polygon points="113.9,496.3 111.94,496.3 111.1,497.5 111.94,498.7 113.9,498.7" fill="#fff"/>
<polygon points="111.1,500.9 113.06,500.9 113.9,502.1 113.06,503.3 111.1,503.3" fill="#fff"/>
<polygon points="115.7,438.9 115.7,437.28 117.1,436.5 118.5,437.28 118.5,438.9" fill="#fff"/>
<polygon points="115.7,441.1 115.7,442.72 117.1,443.5 118.5,442.72 118.5,441.1" fill="#fff"/>
<polygon points="115.7,448.1 115.7,446.48 117.1,445.7 118.5,446.48 118.5,448.1" fill="#fff"/>
<rect x="115.7" y="491.7" width="2.8" height="2.4" fill="#fff"/>
<polygon points="115.7,496.3 117.66,496.3 118.5,497.5 117.66,498.7 115.7,498.7" fill="#fff"/>
<rect x="115.7" y="500.9" width="2.8" height="2.4" fill="#fff"/>
<polygon points="120.3,436.5 122.26,436.5 123.1,437.7 122.26,438.9 120.3,438.9" fill="#fff"/>
<polygon points="123.1,441.1 121.14,441.1 120.3,442.3 121.14,443.5 123.1,443.5" fill="#fff"/>
<rect x="120.3" y="445.7" width="2.8" height="2.4" fill="#fff"/>
<polygon points="120.3,450.3 120.3,451.92 121.7,452.7 123.1,451.92 123.1,450.3" fill="#fff"/>
<rect x="120.3" y="455.5" width="2.8" height="1.2" fill="#fff"/>
<rect x="121" y="454.9" width="1.4" height="2.4" fill="#fff"/>
<polygon points="120.3,461.9 120.3,460.28 121.7,459.5 123.1,460.28 123.1,461.9" fill="#fff"/>
<polygon points="120.3,464.1 120.3,465.72 121.7,466.5 123.1,465.72 123.1,464.1" fill="#fff"/>
<rect x="120.3" y="469.3" width="2.8" height="1.2" fill="#fff"/>
<rect x="121" y="468.7" width="1.4" height="2.4" fill="#fff"/>
<polygon points="120.3,473.3 122.26,473.3 123.1,474.5 122.26,475.7 120.3,475.7" fill="#fff"/>
<polygon points="120.3,477.9 120.3,479.52 121.7,480.3 123.1,479.52 123.1,477.9" fill="#fff"/>
<rect x="120.3" y="482.5" width="2.8" height="2.4" fill="#fff"/>
<rect x="120.3" y="487.7" width="2.8" height="1.2" fill="#fff"/>
<rect x="121" y="487.1" width="1.4" height="2.4" fill="#fff"/>
<polygon points="120.3,494.1 120.3,492.48 121.7,491.7 123.1,492.48 123.1,494.1" fill="#fff"/>
<rect x="120.3" y="496.9" width="2.8" height="1.2" fill="#fff"/>
<rect x="121" y="496.3" width="1.4" height="2.4" fill="#fff"/>
<polygon points="120.3,500.9 122.26,500.9 123.1,502.1 122.26,503.3 120.3,503.3" fill="#fff"/>
<rect x="124.9" y="436.5" width="2.8" height="2.4" fill="#fff"/>
<polygon points="124.9,443.5 124.9,441.88 126.3,441.1 127.7,441.88 127.7,443.5" fill="#fff"/>
<rect x="124.9" y="445.7" width="2.8" height="2.4" fill="#fff"/>
<polygon points="124.9,450.3 126.86,450.3 127.7,451.5 126.86,452.7 124.9,452.7" fill="#fff"/>
<rect x="124.9" y="455.5" width="2.8" height="1.2" fill="#fff"/>
<rect x="125.6" y="454.9" width="1.4" height="2.4" fill="#fff"/>
<polygon points="124.9,459.5 126.86,459.5 127.7,460.7 126.86,461.9 124.9,461.9" fill="#fff"/>
<polygon points="124.9,464.1 124.9,465.72 126.3,466.5 127.7,465.72 127.7,464.1" fill="#fff"/>
<polygon points="124.9,468.7 126.86,468.7 127.7,469.9 126.86,471.1 124.9,471.1" fill="#fff"/>
<polygon points="124.9,473.3 124.9,474.92 126.3,475.7 127.7,474.92 127.7,473.3" fill="#fff"/>
<rect x="124.9" y="478.5" width="2.8" height="1.2" fill="#fff"/>
<rect x="125.6" y="477.9" width="1.4" height="2.4" fill="#fff"/>
<rect x="124.9" y="483.1" width="2.8" height="1.2" fill="#fff"/>
<rect x="125.6" y="482.5" width="1.4" height="2.4" fill="#fff"/>
<rect x="124.9" y="487.7" width="2.8" height="1.2" fill="#fff"/>
<rect x="125.6" y="487.1" width="1.4" height="2.4" fill="#fff"/>
<polygon points="124.9,491.7 126.86,491.7 127.7,492.9 126.86,494.1 124.9,494.1" fill="#fff"/>
<rect x="124.9" y="496.3" width="2.8" height="2.4" fill="#fff"/>
<polygon points="124.9,500.9 124.9,502.52 126.3,503.3 127.7,502.52 127.7,500.9" fill="#fff"/>
<rect x="129.5" y="437.1" width="2.8" height="1.2" fill="#fff"/>
<rect x="130.2" y="436.5" width="1.4" height="2.4" fill="#fff"/>
<polygon points="129.5,441.1 129.5,442.72 130.9,443.5 132.3,442.72 132.3,441.1" fill="#fff"/>
<polygon points="129.5,445.7 129.5,447.32 130.9,448.1 132.3,447.32 132.3,445.7" fill="#fff"/>
<polygon points="132.3,450.3 130.34,450.3 129.5,451.5 130.34,452.7 132.3,452.7" fill="#fff"/>
<rect x="129.5" y="454.9" width="2.8" height="2.4" fill="#fff"/>
<polygon points="129.5,459.5 129.5,461.12 130.9,461.9 132.3,461.12 132.3,459.5" fill="#fff"/>
<polygon points="129.5,464.1 129.5,465.72 130.9,466.5 132.3,465.72 132.3,464.1" fill="#fff"/>
<rect x="129.5" y="469.3" width="2.8" height="1.2" fill="#fff"/>
<rect x="130.2" y="468.7" width="1.4" height="2.4" fill="#fff"/>
<polygon points="132.3,473.3 130.34,473.3 129.5,474.5 130.34,475.7 132.3,475.7" fill="#fff"/>
<polygon points="129.5,477.9 131.46,477.9 132.3,479.1 131.46,480.3 129.5,480.3" fill="#fff"/>
<rect x="129.5" y="482.5" width="2.8" height="2.4" fill="#fff"/>
<polygon points="129.5,489.5 129.5,487.88 130.9,487.1 132.3,487.88 132.3,489.5" fill="#fff"/>
<polygon points="129.5,494.1 129.5,492.48 130.9,491.7 132.3,492.48 132.3,494.1" fill="#fff"/>
<polygon points="129.5,496.3 131.46,496.3 132.3,497.5 131.46,498.7 129.5,498.7" fill="#fff"/>
<polygon points="132.3,500.9 130.34,500.9 129.5,502.1 130.34,503.3 132.3,503.3" fill="#fff"/>
<rect x="81" y="451.8" width="37.2" height="37.2" fill="#fff"/>
<rect x="87" y="463.6" width="23.8" height="14.6" rx="2.5" fill="#000"/>
<rect x="89.8" y="465.8" width="18.4" height="9.4" rx="1.5" fill="#fff"/>
<g aria-label="CPU">
<path transform="translate(90,467)" d="M1 0h3v1h-3zM0 1h1v1h-1zM4 1h1v1h-1zM0 2h1v1h-1zM0 3h1v1h-1zM0 4h1v1h-1zM0 5h1v1h-1zM4 5h1v1h-1zM1 6h3v1h-3z"/>
<path transform="translate(97,467)" d="M0 0h3v1h-3zM0 1h1v1h-1zM3 1h1v1h-1zM0 2h1v1h-1zM3 2h1v1h-1zM0 3h3v1h-3zM0 4h1v1h-1zM0 5h1v1h-1zM0 6h1v1h-1z"/>
<path transform="translate(103,467)" d="M0 0h1v1h-1zM4 0h1v1h-1zM0 1h1v1h-1zM4 1h1v1h-1zM0 2h1v1h-1zM4 2h1v1h-1zM0 3h1v1h-1zM4 3h1v1h-1zM0 4h1v1h-1zM4 4h1v1h-1zM0 5h1v1h-1zM4 5h1v1h-1zM1 6h3v1h-3z"/>
</g>
<rect x="65.2" y="423.3" width="18.5" height="6" fill="#000"/>
<rect x="66.2" y="424.3" width="16.5" height="1" fill="#fff"/>
<rect x="66.2" y="424.3" width="1" height="3.5" fill="#fff"/>
<rect x="72.0333" y="424.3" width="1" height="3.5" fill="#fff"/>
<rect x="77.8667" y="424.3" width="1" height="3.5" fill="#fff"/>
<rect x="68.1167" y="424.8" width="3" height="3" fill="#fff"/>
<rect x="69.1167" y="425.8" width="1" height="1" fill="#000"/>
<rect x="89.5" y="423" width="12.5" height="6.5" fill="#000"/>
<rect x="90.5" y="424" width="10.5" height="1" fill="#fff"/>
<rect x="90.5" y="424" width="1" height="4" fill="#fff"/>
<rect x="96.25" y="424" width="1" height="4" fill="#fff"/>
<rect x="16.2" y="418.5" width="32.8" height="16.2" rx="2.5" fill="#000"/>
<rect x="18.2" y="420.5" width="28.8" height="11.9" rx="1.5" fill="#fff"/>
<g aria-label="JP2">
<path transform="translate(20,420)" d="M3 0h1v1h-1zM3 1h1v1h-1zM3 2h1v1h-1zM3 3h1v1h-1zM3 4h1v1h-1zM3 5h1v1h-1zM3 6h1v1h-1zM0 7h1v1h-1zM3 7h1v1h-1zM0 8h1v1h-1zM3 8h1v1h-1zM1 9h2v1h-2z"/>
<path transform="translate(28,420)" d="M0 0h4v1h-4zM0 1h1v1h-1zM4 1h1v1h-1zM0 2h1v1h-1zM4 2h1v1h-1zM0 3h1v1h-1zM4 3h1v1h-1zM0 4h4v1h-4zM0 5h1v1h-1zM0 6h1v1h-1zM0 7h1v1h-1zM0 8h1v1h-1zM0 9h1v1h-1z"/>
<path transform="translate(36,420)" d="M1 0h3v1h-3zM0 1h1v1h-1zM4 1h1v1h-1zM4 2h1v1h-1zM4 3h1v1h-1zM3 4h1v1h-1zM2 5h1v1h-1zM1 6h1v1h-1zM0 7h1v1h-1zM0 8h1v1h-1zM0 9h5v1h-5z"/>
</g>
<line x1="81.5" y1="416.5" x2="88.5" y2="423.5" stroke="#000" stroke-width="3.4"/>
<line x1="83.25" y1="418.25" x2="86.4" y2="421.4" stroke="#fff" stroke-width="0.9"/>
<polygon points="47,422.8 56,424.2 56,428.3 47,429.8" fill="#000"/>
<rect x="56" y="424.3" width="4.5" height="3.9" fill="#000"/>
<rect x="60.5" y="425.3" width="4.7" height="2" fill="#000"/>
<polygon points="45.8,424.9 55.4,425.8 55.4,426.8 45.8,427.7" fill="#fff"/>
<rect x="149.1" y="441" width="6.8" height="13" fill="#000"/>
<rect x="150.1" y="442" width="1" height="11" fill="#fff"/>
<rect x="150.1" y="442" width="4.3" height="1" fill="#fff"/>
<rect x="150.5" y="446" width="4" height="1" fill="#fff"/>
<rect x="153.3" y="453.5" width="2" height="6.5" fill="#000"/>
<rect x="152.5" y="459.5" width="4" height="6" fill="#000"/>
<line x1="153.3" y1="465" x2="150.8" y2="471" stroke="#000" stroke-width="1.3"/>
<line x1="155.8" y1="465" x2="158.3" y2="471" stroke="#000" stroke-width="1.3"/>
<rect x="138.6" y="470.6" width="31.7" height="17.8" rx="2.5" fill="#000"/>
<rect x="140.6" y="472.6" width="27.7" height="13.5" rx="1.5" fill="#fff"/>
<g aria-label="JP7">
<path transform="translate(142,474)" d="M3 0h1v1h-1zM3 1h1v1h-1zM3 2h1v1h-1zM3 3h1v1h-1zM3 4h1v1h-1zM3 5h1v1h-1zM3 6h1v1h-1zM0 7h1v1h-1zM3 7h1v1h-1zM0 8h1v1h-1zM3 8h1v1h-1zM1 9h2v1h-2z"/>
<path transform="translate(150,474)" d="M0 0h4v1h-4zM0 1h1v1h-1zM4 1h1v1h-1zM0 2h1v1h-1zM4 2h1v1h-1zM0 3h1v1h-1zM4 3h1v1h-1zM0 4h4v1h-4zM0 5h1v1h-1zM0 6h1v1h-1zM0 7h1v1h-1zM0 8h1v1h-1zM0 9h1v1h-1z"/>
<path transform="translate(159,474)" d="M0 0h5v1h-5zM4 1h1v1h-1zM3 2h1v1h-1zM3 3h1v1h-1zM2 4h1v1h-1zM2 5h1v1h-1zM2 6h1v1h-1zM1 7h1v1h-1zM1 8h1v1h-1zM1 9h1v1h-1z"/>
</g>
<rect x="191.5" y="417.5" width="1" height="6" fill="#000"/>
<rect x="193.43" y="417.5" width="1" height="6" fill="#000"/>
<rect x="195.36" y="417.5" width="1" height="6" fill="#000"/>
<rect x="197.29" y="417.5" width="1" height="6" fill="#000"/>
<rect x="199.22" y="417.5" width="1" height="6" fill="#000"/>
<rect x="201.15" y="417.5" width="1" height="6" fill="#000"/>
<rect x="203.08" y="417.5" width="1" height="6" fill="#000"/>
<rect x="205.01" y="417.5" width="1" height="6" fill="#000"/>
<rect x="206.94" y="417.5" width="1" height="6" fill="#000"/>
<rect x="208.87" y="417.5" width="1" height="6" fill="#000"/>
<rect x="210.8" y="417.5" width="1" height="6" fill="#000"/>
<rect x="212.73" y="417.5" width="1" height="6" fill="#000"/>
<rect x="214.66" y="417.5" width="1" height="6" fill="#000"/>
<rect x="216.59" y="417.5" width="1" height="6" fill="#000"/>
<rect x="218.52" y="417.5" width="1" height="6" fill="#000"/>
<rect x="220.45" y="417.5" width="1" height="6" fill="#000"/>
<rect x="222.38" y="417.5" width="1" height="6" fill="#000"/>
<rect x="224.31" y="417.5" width="1" height="6" fill="#000"/>
<rect x="226.24" y="417.5" width="1" height="6" fill="#000"/>
<rect x="228.17" y="417.5" width="1" height="6" fill="#000"/>
<rect x="230.1" y="417.5" width="1" height="6" fill="#000"/>
<rect x="232.03" y="417.5" width="1" height="6" fill="#000"/>
<rect x="233.96" y="417.5" width="1" height="6" fill="#000"/>
<rect x="235.89" y="417.5" width="1" height="6" fill="#000"/>
<rect x="237.82" y="417.5" width="1" height="6" fill="#000"/>
<rect x="239.75" y="417.5" width="1" height="6" fill="#000"/>
<rect x="241.68" y="417.5" width="1" height="6" fill="#000"/>
<rect x="243.61" y="417.5" width="1" height="6" fill="#000"/>
<rect x="245.54" y="417.5" width="1" height="6" fill="#000"/>
<rect x="247.47" y="417.5" width="1" height="6" fill="#000"/>
<rect x="249.4" y="417.5" width="1" height="6" fill="#000"/>
<rect x="251.33" y="417.5" width="1" height="6" fill="#000"/>
<rect x="253.26" y="417.5" width="1" height="6" fill="#000"/>
<rect x="255.19" y="417.5" width="1" height="6" fill="#000"/>
<rect x="257.12" y="417.5" width="1" height="6" fill="#000"/>
<rect x="259.05" y="417.5" width="1" height="6" fill="#000"/>
<rect x="260.98" y="417.5" width="1" height="6" fill="#000"/>
<rect x="262.91" y="417.5" width="1" height="6" fill="#000"/>
<rect x="264.84" y="417.5" width="1" height="6" fill="#000"/>
<rect x="266.77" y="417.5" width="1" height="6" fill="#000"/>
<rect x="268.7" y="417.5" width="1" height="6" fill="#000"/>
<rect x="270.63" y="417.5" width="1" height="6" fill="#000"/>
<rect x="272.56" y="417.5" width="1" height="6" fill="#000"/>
<rect x="182" y="518.5" width="1" height="6" fill="#000"/>
<rect x="183.93" y="518.5" width="1" height="6" fill="#000"/>
<rect x="185.86" y="518.5" width="1" height="6" fill="#000"/>
<rect x="187.79" y="518.5" width="1" height="6" fill="#000"/>
<rect x="189.72" y="518.5" width="1" height="6" fill="#000"/>
<rect x="191.65" y="518.5" width="1" height="6" fill="#000"/>
<rect x="193.58" y="518.5" width="1" height="6" fill="#000"/>
<rect x="195.51" y="518.5" width="1" height="6" fill="#000"/>
<rect x="197.44" y="518.5" width="1" height="6" fill="#000"/>
<rect x="199.37" y="518.5" width="1" height="6" fill="#000"/>
<rect x="201.3" y="518.5" width="1" height="6" fill="#000"/>
<rect x="203.23" y="518.5" width="1" height="6" fill="#000"/>
<rect x="205.16" y="518.5" width="1" height="6" fill="#000"/>
<rect x="207.09" y="518.5" width="1" height="6" fill="#000"/>
<rect x="209.02" y="518.5" width="1" height="6" fill="#000"/>
<rect x="210.95" y="518.5" width="1" height="6" fill="#000"/>
<rect x="212.88" y="518.5" width="1" height="6" fill="#000"/>
<rect x="214.81" y="518.5" width="1" height="6" fill="#000"/>
<rect x="216.74" y="518.5" width="1" height="6" fill="#000"/>
<rect x="218.67" y="518.5" width="1" height="6" fill="#000"/>
<rect x="220.6" y="518.5" width="1" height="6" fill="#000"/>
<rect x="222.53" y="518.5" width="1" height="6" fill="#000"/>
<rect x="224.46" y="518.5" width="1" height="6" fill="#000"/>
<rect x="226.39" y="518.5" width="1" height="6" fill="#000"/>
<rect x="228.32" y="518.5" width="1" height="6" fill="#000"/>
<rect x="230.25" y="518.5" width="1" height="6" fill="#000"/>
<rect x="232.18" y="518.5" width="1" height="6" fill="#000"/>
<rect x="234.11" y="518.5" width="1" height="6" fill="#000"/>
<rect x="236.04" y="518.5" width="1" height="6" fill="#000"/>
<rect x="237.97" y="518.5" width="1" height="6" fill="#000"/>
<rect x="239.9" y="518.5" width="1" height="6" fill="#000"/>
<rect x="241.83" y="518.5" width="1" height="6" fill="#000"/>
<rect x="243.76" y="518.5" width="1" height="6" fill="#000"/>
<rect x="245.69" y="518.5" width="1" height="6" fill="#000"/>
<rect x="247.62" y="518.5" width="1" height="6" fill="#000"/>
<rect x="249.55" y="518.5" width="1" height="6" fill="#000"/>
<rect x="251.48" y="518.5" width="1" height="6" fill="#000"/>
<rect x="253.41" y="518.5" width="1" height="6" fill="#000"/>
<rect x="255.34" y="518.5" width="1" height="6" fill="#000"/>
<rect x="257.27" y="518.5" width="1" height="6" fill="#000"/>
<rect x="259.2" y="518.5" width="1" height="6" fill="#000"/>
<rect x="261.13" y="518.5" width="1" height="6" fill="#000"/>
<rect x="263.06" y="518.5" width="1" height="6" fill="#000"/>
<rect x="264.99" y="518.5" width="1" height="6" fill="#000"/>
<rect x="266.92" y="518.5" width="1" height="6" fill="#000"/>
<rect x="268.85" y="518.5" width="1" height="6" fill="#000"/>
<rect x="270.78" y="518.5" width="1" height="6" fill="#000"/>
<rect x="272.71" y="518.5" width="1" height="6" fill="#000"/>
<rect x="173.8" y="431.5" width="7" height="1" fill="#000"/>
<rect x="173.8" y="433.43" width="7" height="1" fill="#000"/>
<rect x="173.8" y="435.36" width="7" height="1" fill="#000"/>
<rect x="173.8" y="437.29" width="7" height="1" fill="#000"/>
<rect x="173.8" y="439.22" width="7" height="1" fill="#000"/>
<rect x="173.8" y="441.15" width="7" height="1" fill="#000"/>
<rect x="173.8" y="443.08" width="7" height="1" fill="#000"/>
<rect x="173.8" y="445.01" width="7" height="1" fill="#000"/>
<rect x="173.8" y="446.94" width="7" height="1" fill="#000"/>
<rect x="173.8" y="448.87" width="7" height="1" fill="#000"/>
<rect x="173.8" y="450.8" width="7" height="1" fill="#000"/>
<rect x="173.8" y="452.73" width="7" height="1" fill="#000"/>
<rect x="173.8" y="454.66" width="7" height="1" fill="#000"/>
<rect x="173.8" y="456.59" width="7" height="1" fill="#000"/>
<rect x="173.8" y="458.52" width="7" height="1" fill="#000"/>
<rect x="173.8" y="460.45" width="7" height="1" fill="#000"/>
<rect x="173.8" y="462.38" width="7" height="1" fill="#000"/>
<rect x="173.8" y="464.31" width="7" height="1" fill="#000"/>
<rect x="173.8" y="466.24" width="7" height="1" fill="#000"/>
<rect x="173.8" y="468.17" width="7" height="1" fill="#000"/>
<rect x="173.8" y="470.1" width="7" height="1" fill="#000"/>
<rect x="173.8" y="472.03" width="7" height="1" fill="#000"/>
<rect x="173.8" y="473.96" width="7" height="1" fill="#000"/>
<rect x="173.8" y="475.89" width="7" height="1" fill="#000"/>
<rect x="173.8" y="477.82" width="7" height="1" fill="#000"/>
<rect x="173.8" y="479.75" width="7" height="1" fill="#000"/>
<rect x="173.8" y="481.68" width="7" height="1" fill="#000"/>
<rect x="173.8" y="483.61" width="7" height="1" fill="#000"/>
<rect x="173.8" y="485.54" width="7" height="1" fill="#000"/>
<rect x="173.8" y="487.47" width="7" height="1" fill="#000"/>
<rect x="173.8" y="489.4" width="7" height="1" fill="#000"/>
<rect x="173.8" y="491.33" width="7" height="1" fill="#000"/>
<rect x="173.8" y="493.26" width="7" height="1" fill="#000"/>
<rect x="173.8" y="495.19" width="7" height="1" fill="#000"/>
<rect x="173.8" y="497.12" width="7" height="1" fill="#000"/>
<rect x="173.8" y="499.05" width="7" height="1" fill="#000"/>
<rect x="173.8" y="500.98" width="7" height="1" fill="#000"/>
<rect x="173.8" y="502.91" width="7" height="1" fill="#000"/>
<rect x="173.8" y="504.84" width="7" height="1" fill="#000"/>
<rect x="173.8" y="506.77" width="7" height="1" fill="#000"/>
<rect x="173.8" y="508.7" width="7" height="1" fill="#000"/>
<rect x="173.8" y="510.63" width="7" height="1" fill="#000"/>
<rect x="173.8" y="512.56" width="7" height="1" fill="#000"/>
<rect x="173.8" y="514.49" width="7" height="1" fill="#000"/>
<rect x="274" y="425.5" width="7.5" height="1" fill="#000"/>
<rect x="274" y="427.43" width="7.5" height="1" fill="#000"/>
<rect x="274" y="429.36" width="7.5" height="1" fill="#000"/>
<rect x="274" y="431.29" width="7.5" height="1" fill="#000"/>
<rect x="274" y="433.22" width="7.5" height="1" fill="#000"/>
<rect x="274" y="435.15" width="7.5" height="1" fill="#000"/>
<rect x="274" y="437.08" width="7.5" height="1" fill="#000"/>
<rect x="274" y="439.01" width="7.5" height="1" fill="#000"/>
<rect x="274" y="440.94" width="7.5" height="1" fill="#000"/>
<rect x="274" y="442.87" width="7.5" height="1" fill="#000"/>
<rect x="274" y="444.8" width="7.5" height="1" fill="#000"/>
<rect x="274" y="446.73" width="7.5" height="1" fill="#000"/>
<rect x="274" y="448.66" width="7.5" height="1" fill="#000"/>
<rect x="274" y="450.59" width="7.5" height="1" fill="#000"/>
<rect x="274" y="452.52" width="7.5" height="1" fill="#000"/>
<rect x="274" y="454.45" width="7.5" height="1" fill="#000"/>
<rect x="274" y="456.38" width="7.5" height="1" fill="#000"/>
<rect x="274" y="458.31" width="7.5" height="1" fill="#000"/>
<rect x="274" y="460.24" width="7.5" height="1" fill="#000"/>
<rect x="274" y="462.17" width="7.5" height="1" fill="#000"/>
<rect x="274" y="464.1" width="7.5" height="1" fill="#000"/>
<rect x="274" y="466.03" width="7.5" height="1" fill="#000"/>
<rect x="274" y="467.96" width="7.5" height="1" fill="#000"/>
<rect x="274" y="469.89" width="7.5" height="1" fill="#000"/>
<rect x="274" y="471.82" width="7.5" height="1" fill="#000"/>
<rect x="274" y="473.75" width="7.5" height="1" fill="#000"/>
<rect x="274" y="475.68" width="7.5" height="1" fill="#000"/>
<rect x="274" y="477.61" width="7.5" height="1" fill="#000"/>
<rect x="274" y="479.54" width="7.5" height="1" fill="#000"/>
<rect x="274" y="481.47" width="7.5" height="1" fill="#000"/>
<rect x="274" y="483.4" width="7.5" height="1" fill="#000"/>
<rect x="274" y="485.33" width="7.5" height="1" fill="#000"/>
<rect x="274" y="487.26" width="7.5" height="1" fill="#000"/>
<rect x="274" y="489.19" width="7.5" height="1" fill="#000"/>
<rect x="274" y="491.12" width="7.5" height="1" fill="#000"/>
<rect x="274" y="493.05" width="7.5" height="1" fill="#000"/>
<rect x="274" y="494.98" width="7.5" height="1" fill="#000"/>
<rect x="274" y="496.91" width="7.5" height="1" fill="#000"/>
<rect x="274" y="498.84" width="7.5" height="1" fill="#000"/>
<rect x="274" y="500.77" width="7.5" height="1" fill="#000"/>
<rect x="274" y="502.7" width="7.5" height="1" fill="#000"/>
<rect x="274" y="504.63" width="7.5" height="1" fill="#000"/>
<rect x="274" y="506.56" width="7.5" height="1" fill="#000"/>
<rect x="274" y="508.49" width="7.5" height="1" fill="#000"/>
<rect x="274" y="510.42" width="7.5" height="1" fill="#000"/>
<rect x="274" y="512.35" width="7.5" height="1" fill="#000"/>
<rect x="274" y="514.28" width="7.5" height="1" fill="#000"/>
<rect x="180.4" y="423" width="94.6" height="95.8" fill="#000"/>
<rect x="181.4" y="515.2" width="92.6" height="2.6" fill="#fff"/>
<polygon points="185,427.1 187.8,427.1 189,428.6 187.8,430.1 185,430.1" fill="#fff"/>
<polygon points="185,432.9 185,434.925 187,435.9 189,434.925 189,432.9" fill="#fff"/>
<rect x="185" y="438.7" width="4" height="3" fill="#fff"/>
<rect x="185" y="445.25" width="4" height="1.5" fill="#fff"/>
<rect x="186" y="444.5" width="2" height="3" fill="#fff"/>
<polygon points="185,450.3 187.8,450.3 189,451.8 187.8,453.3 185,453.3" fill="#fff"/>
<polygon points="189,456.1 186.2,456.1 185,457.6 186.2,459.1 189,459.1" fill="#fff"/>
<rect x="185" y="461.9" width="4" height="3" fill="#fff"/>
<polygon points="185,467.7 187.8,467.7 189,469.2 187.8,470.7 185,470.7" fill="#fff"/>
<polygon points="185,473.5 187.8,473.5 189,475 187.8,476.5 185,476.5" fill="#fff"/>
<polygon points="185,482.3 185,480.275 187,479.3 189,480.275 189,482.3" fill="#fff"/>
<polygon points="185,485.1 185,487.125 187,488.1 189,487.125 189,485.1" fill="#fff"/>
<polygon points="185,493.9 185,491.875 187,490.9 189,491.875 189,493.9" fill="#fff"/>
<polygon points="185,496.7 185,498.725 187,499.7 189,498.725 189,496.7" fill="#fff"/>
<polygon points="189,502.5 186.2,502.5 185,504 186.2,505.5 189,505.5" fill="#fff"/>
<polygon points="185,508.3 185,510.325 187,511.3 189,510.325 189,508.3" fill="#fff"/>
<polygon points="190.8,427.1 193.6,427.1 194.8,428.6 193.6,430.1 190.8,430.1" fill="#fff"/>
<polygon points="190.8,432.9 190.8,434.925 192.8,435.9 194.8,434.925 194.8,432.9" fill="#fff"/>
<polygon points="194.8,438.7 192,438.7 190.8,440.2 192,441.7 194.8,441.7" fill="#fff"/>
<rect x="190.8" y="445.25" width="4" height="1.5" fill="#fff"/>
<rect x="191.8" y="444.5" width="2" height="3" fill="#fff"/>
<rect x="190.8" y="451.05" width="4" height="1.5" fill="#fff"/>
<rect x="191.8" y="450.3" width="2" height="3" fill="#fff"/>
<polygon points="190.8,459.1 190.8,457.075 192.8,456.1 194.8,457.075 194.8,459.1" fill="#fff"/>
<polygon points="194.8,461.9 192,461.9 190.8,463.4 192,464.9 194.8,464.9" fill="#fff"/>
<rect x="190.8" y="467.7" width="4" height="3" fill="#fff"/>
<polygon points="190.8,473.5 193.6,473.5 194.8,475 193.6,476.5 190.8,476.5" fill="#fff"/>
<rect x="190.8" y="479.3" width="4" height="3" fill="#fff"/>
<polygon points="190.8,488.1 190.8,486.075 192.8,485.1 194.8,486.075 194.8,488.1" fill="#fff"/>
<rect x="190.8" y="490.9" width="4" height="3" fill="#fff"/>
<polygon points="190.8,499.7 190.8,497.675 192.8,496.7 194.8,497.675 194.8,499.7" fill="#fff"/>
<polygon points="194.8,502.5 192,502.5 190.8,504 192,505.5 194.8,505.5" fill="#fff"/>
<rect x="190.8" y="508.3" width="4" height="3" fill="#fff"/>
<polygon points="196.6,427.1 196.6,429.125 198.6,430.1 200.6,429.125 200.6,427.1" fill="#fff"/>
<polygon points="200.6,432.9 197.8,432.9 196.6,434.4 197.8,435.9 200.6,435.9" fill="#fff"/>
<polygon points="196.6,438.7 196.6,440.725 198.6,441.7 200.6,440.725 200.6,438.7" fill="#fff"/>
<polygon points="200.6,444.5 197.8,444.5 196.6,446 197.8,447.5 200.6,447.5" fill="#fff"/>
<rect x="196.6" y="450.3" width="4" height="3" fill="#fff"/>
<polygon points="196.6,456.1 199.4,456.1 200.6,457.6 199.4,459.1 196.6,459.1" fill="#fff"/>
<polygon points="196.6,464.9 196.6,462.875 198.6,461.9 200.6,462.875 200.6,464.9" fill="#fff"/>
<rect x="196.6" y="467.7" width="4" height="3" fill="#fff"/>
<polygon points="200.6,473.5 197.8,473.5 196.6,475 197.8,476.5 200.6,476.5" fill="#fff"/>
<polygon points="200.6,479.3 197.8,479.3 196.6,480.8 197.8,482.3 200.6,482.3" fill="#fff"/>
<polygon points="200.6,485.1 197.8,485.1 196.6,486.6 197.8,488.1 200.6,488.1" fill="#fff"/>
<rect x="196.6" y="490.9" width="4" height="3" fill="#fff"/>
<polygon points="196.6,499.7 196.6,497.675 198.6,496.7 200.6,497.675 200.6,499.7" fill="#fff"/>
<rect x="196.6" y="502.5" width="4" height="3" fill="#fff"/>
<polygon points="196.6,508.3 196.6,510.325 198.6,511.3 200.6,510.325 200.6,508.3" fill="#fff"/>
<polygon points="202.4,427.1 202.4,429.125 204.4,430.1 206.4,429.125 206.4,427.1" fill="#fff"/>
<polygon points="202.4,432.9 202.4,434.925 204.4,435.9 206.4,434.925 206.4,432.9" fill="#fff"/>
<polygon points="202.4,441.7 202.4,439.675 204.4,438.7 206.4,439.675 206.4,441.7" fill="#fff"/>
<polygon points="202.4,496.7 202.4,498.725 204.4,499.7 206.4,498.725 206.4,496.7" fill="#fff"/>
<rect x="202.4" y="503.25" width="4" height="1.5" fill="#fff"/>
<rect x="203.4" y="502.5" width="2" height="3" fill="#fff"/>
<polygon points="206.4,508.3 203.6,508.3 202.4,509.8 203.6,511.3 206.4,511.3" fill="#fff"/>
<rect x="208.2" y="427.1" width="4" height="3" fill="#fff"/>
<polygon points="208.2,432.9 208.2,434.925 210.2,435.9 212.2,434.925 212.2,432.9" fill="#fff"/>
<rect x="208.2" y="439.45" width="4" height="1.5" fill="#fff"/>
<rect x="209.2" y="438.7" width="2" height="3" fill="#fff"/>
<rect x="208.2" y="497.45" width="4" height="1.5" fill="#fff"/>
<rect x="209.2" y="496.7" width="2" height="3" fill="#fff"/>
<polygon points="212.2,502.5 209.4,502.5 208.2,504 209.4,505.5 212.2,505.5" fill="#fff"/>
<rect x="208.2" y="508.3" width="4" height="3" fill="#fff"/>
<polygon points="214,427.1 216.8,427.1 218,428.6 216.8,430.1 214,430.1" fill="#fff"/>
<polygon points="214,432.9 214,434.925 216,435.9 218,434.925 218,432.9" fill="#fff"/>
<rect x="214" y="439.45" width="4" height="1.5" fill="#fff"/>
<rect x="215" y="438.7" width="2" height="3" fill="#fff"/>
<rect x="214" y="497.45" width="4" height="1.5" fill="#fff"/>
<rect x="215" y="496.7" width="2" height="3" fill="#fff"/>
<polygon points="214,502.5 214,504.525 216,505.5 218,504.525 218,502.5" fill="#fff"/>
<polygon points="214,511.3 214,509.275 216,508.3 218,509.275 218,511.3" fill="#fff"/>
<polygon points="219.8,430.1 219.8,428.075 221.8,427.1 223.8,428.075 223.8,430.1" fill="#fff"/>
<rect x="219.8" y="432.9" width="4" height="3" fill="#fff"/>
<rect x="219.8" y="438.7" width="4" height="3" fill="#fff"/>
<polygon points="219.8,499.7 219.8,497.675 221.8,496.7 223.8,497.675 223.8,499.7" fill="#fff"/>
<rect x="219.8" y="503.25" width="4" height="1.5" fill="#fff"/>
<rect x="220.8" y="502.5" width="2" height="3" fill="#fff"/>
<rect x="219.8" y="508.3" width="4" height="3" fill="#fff"/>
<polygon points="225.6,427.1 225.6,429.125 227.6,430.1 229.6,429.125 229.6,427.1" fill="#fff"/>
<polygon points="229.6,432.9 226.8,432.9 225.6,434.4 226.8,435.9 229.6,435.9" fill="#fff"/>
<polygon points="225.6,438.7 225.6,440.725 227.6,441.7 229.6,440.725 229.6,438.7" fill="#fff"/>
<polygon points="225.6,496.7 225.6,498.725 227.6,499.7 229.6,498.725 229.6,496.7" fill="#fff"/>
<polygon points="225.6,505.5 225.6,503.475 227.6,502.5 229.6,503.475 229.6,505.5" fill="#fff"/>
<polygon points="225.6,508.3 228.4,508.3 229.6,509.8 228.4,511.3 225.6,511.3" fill="#fff"/>
<polygon points="231.4,427.1 231.4,429.125 233.4,430.1 235.4,429.125 235.4,427.1" fill="#fff"/>
<polygon points="231.4,432.9 234.2,432.9 235.4,434.4 234.2,435.9 231.4,435.9" fill="#fff"/>
<rect x="231.4" y="439.45" width="4" height="1.5" fill="#fff"/>
<rect x="232.4" y="438.7" width="2" height="3" fill="#fff"/>
<polygon points="231.4,496.7 231.4,498.725 233.4,499.7 235.4,498.725 235.4,496.7" fill="#fff"/>
<rect x="231.4" y="503.25" width="4" height="1.5" fill="#fff"/>
<rect x="232.4" y="502.5" width="2" height="3" fill="#fff"/>
<polygon points="231.4,508.3 234.2,508.3 235.4,509.8 234.2,511.3 231.4,511.3" fill="#fff"/>
<polygon points="237.2,427.1 240,427.1 241.2,428.6 240,430.1 237.2,430.1" fill="#fff"/>
<rect x="237.2" y="433.65" width="4" height="1.5" fill="#fff"/>
<rect x="238.2" y="432.9" width="2" height="3" fill="#fff"/>
<polygon points="241.2,438.7 238.4,438.7 237.2,440.2 238.4,441.7 241.2,441.7" fill="#fff"/>
<polygon points="237.2,496.7 237.2,498.725 239.2,499.7 241.2,498.725 241.2,496.7" fill="#fff"/>
<polygon points="237.2,505.5 237.2,503.475 239.2,502.5 241.2,503.475 241.2,505.5" fill="#fff"/>
<rect x="237.2" y="508.3" width="4" height="3" fill="#fff"/>
<polygon points="243,427.1 245.8,427.1 247,428.6 245.8,430.1 243,430.1" fill="#fff"/>
<polygon points="247,432.9 244.2,432.9 243,434.4 244.2,435.9 247,435.9" fill="#fff"/>
<rect x="243" y="438.7" width="4" height="3" fill="#fff"/>
<rect x="243" y="497.45" width="4" height="1.5" fill="#fff"/>
<rect x="244" y="496.7" width="2" height="3" fill="#fff"/>
<rect x="243" y="503.25" width="4" height="1.5" fill="#fff"/>
<rect x="244" y="502.5" width="2" height="3" fill="#fff"/>
<polygon points="247,508.3 244.2,508.3 243,509.8 244.2,511.3 247,511.3" fill="#fff"/>
<rect x="248.8" y="427.85" width="4" height="1.5" fill="#fff"/>
<rect x="249.8" y="427.1" width="2" height="3" fill="#fff"/>
<polygon points="248.8,432.9 248.8,434.925 250.8,435.9 252.8,434.925 252.8,432.9" fill="#fff"/>
<rect x="248.8" y="439.45" width="4" height="1.5" fill="#fff"/>
<rect x="249.8" y="438.7" width="2" height="3" fill="#fff"/>
<polygon points="248.8,496.7 248.8,498.725 250.8,499.7 252.8,498.725 252.8,496.7" fill="#fff"/>
<rect x="248.8" y="503.25" width="4" height="1.5" fill="#fff"/>
<rect x="249.8" y="502.5" width="2" height="3" fill="#fff"/>
<rect x="248.8" y="509.05" width="4" height="1.5" fill="#fff"/>
<rect x="249.8" y="508.3" width="2" height="3" fill="#fff"/>
<polygon points="254.6,430.1 254.6,428.075 256.6,427.1 258.6,428.075 258.6,430.1" fill="#fff"/>
<polygon points="258.6,432.9 255.8,432.9 254.6,434.4 255.8,435.9 258.6,435.9" fill="#fff"/>
<polygon points="254.6,438.7 254.6,440.725 256.6,441.7 258.6,440.725 258.6,438.7" fill="#fff"/>
<rect x="254.6" y="445.25" width="4" height="1.5" fill="#fff"/>
<rect x="255.6" y="444.5" width="2" height="3" fill="#fff"/>
<polygon points="254.6,453.3 254.6,451.275 256.6,450.3 258.6,451.275 258.6,453.3" fill="#fff"/>
<polygon points="254.6,456.1 254.6,458.125 256.6,459.1 258.6,458.125 258.6,456.1" fill="#fff"/>
<polygon points="254.6,461.9 254.6,463.925 256.6,464.9 258.6,463.925 258.6,461.9" fill="#fff"/>
<polygon points="254.6,467.7 254.6,469.725 256.6,470.7 258.6,469.725 258.6,467.7" fill="#fff"/>
<polygon points="258.6,473.5 255.8,473.5 254.6,475 255.8,476.5 258.6,476.5" fill="#fff"/>
<rect x="254.6" y="480.05" width="4" height="1.5" fill="#fff"/>
<rect x="255.6" y="479.3" width="2" height="3" fill="#fff"/>
<rect x="254.6" y="485.1" width="4" height="3" fill="#fff"/>
<polygon points="254.6,493.9 254.6,491.875 256.6,490.9 258.6,491.875 258.6,493.9" fill="#fff"/>
<rect x="254.6" y="497.45" width="4" height="1.5" fill="#fff"/>
<rect x="255.6" y="496.7" width="2" height="3" fill="#fff"/>
<polygon points="254.6,505.5 254.6,503.475 256.6,502.5 258.6,503.475 258.6,505.5" fill="#fff"/>
<polygon points="254.6,508.3 257.4,508.3 258.6,509.8 257.4,511.3 254.6,511.3" fill="#fff"/>
<rect x="260.4" y="427.1" width="4" height="3" fill="#fff"/>
<rect x="260.4" y="433.65" width="4" height="1.5" fill="#fff"/>
<rect x="261.4" y="432.9" width="2" height="3" fill="#fff"/>
<rect x="260.4" y="439.45" width="4" height="1.5" fill="#fff"/>
<rect x="261.4" y="438.7" width="2" height="3" fill="#fff"/>
<rect x="260.4" y="445.25" width="4" height="1.5" fill="#fff"/>
<rect x="261.4" y="444.5" width="2" height="3" fill="#fff"/>
<polygon points="264.4,450.3 261.6,450.3 260.4,451.8 261.6,453.3 264.4,453.3" fill="#fff"/>
<polygon points="260.4,459.1 260.4,457.075 262.4,456.1 264.4,457.075 264.4,459.1" fill="#fff"/>
<rect x="260.4" y="462.65" width="4" height="1.5" fill="#fff"/>
<rect x="261.4" y="461.9" width="2" height="3" fill="#fff"/>
<polygon points="260.4,470.7 260.4,468.675 262.4,467.7 264.4,468.675 264.4,470.7" fill="#fff"/>
<polygon points="260.4,473.5 260.4,475.525 262.4,476.5 264.4,475.525 264.4,473.5" fill="#fff"/>
<polygon points="260.4,479.3 260.4,481.325 262.4,482.3 264.4,481.325 264.4,479.3" fill="#fff"/>
<polygon points="260.4,485.1 263.2,485.1 264.4,486.6 263.2,488.1 260.4,488.1" fill="#fff"/>
<polygon points="260.4,493.9 260.4,491.875 262.4,490.9 264.4,491.875 264.4,493.9" fill="#fff"/>
<polygon points="260.4,499.7 260.4,497.675 262.4,496.7 264.4,497.675 264.4,499.7" fill="#fff"/>
<rect x="260.4" y="503.25" width="4" height="1.5" fill="#fff"/>
<rect x="261.4" y="502.5" width="2" height="3" fill="#fff"/>
<polygon points="264.4,508.3 261.6,508.3 260.4,509.8 261.6,511.3 264.4,511.3" fill="#fff"/>
<rect x="266.2" y="427.85" width="4" height="1.5" fill="#fff"/>
<rect x="267.2" y="427.1" width="2" height="3" fill="#fff"/>
<polygon points="266.2,435.9 266.2,433.875 268.2,432.9 270.2,433.875 270.2,435.9" fill="#fff"/>
<polygon points="266.2,441.7 266.2,439.675 268.2,438.7 270.2,439.675 270.2,441.7" fill="#fff"/>
<polygon points="270.2,444.5 267.4,444.5 266.2,446 267.4,447.5 270.2,447.5" fill="#fff"/>
<polygon points="266.2,450.3 269,450.3 270.2,451.8 269,453.3 266.2,453.3" fill="#fff"/>
<rect x="266.2" y="456.85" width="4" height="1.5" fill="#fff"/>
<rect x="267.2" y="456.1" width="2" height="3" fill="#fff"/>
<rect x="266.2" y="462.65" width="4" height="1.5" fill="#fff"/>
<rect x="267.2" y="461.9" width="2" height="3" fill="#fff"/>
<rect x="266.2" y="468.45" width="4" height="1.5" fill="#fff"/>
<rect x="267.2" y="467.7" width="2" height="3" fill="#fff"/>
<rect x="266.2" y="474.25" width="4" height="1.5" fill="#fff"/>
<rect x="267.2" y="473.5" width="2" height="3" fill="#fff"/>
<polygon points="266.2,479.3 266.2,481.325 268.2,482.3 270.2,481.325 270.2,479.3" fill="#fff"/>
<rect x="266.2" y="485.1" width="4" height="3" fill="#fff"/>
<polygon points="266.2,490.9 269,490.9 270.2,492.4 269,493.9 266.2,493.9" fill="#fff"/>
<polygon points="270.2,496.7 267.4,496.7 266.2,498.2 267.4,499.7 270.2,499.7" fill="#fff"/>
<rect x="266.2" y="503.25" width="4" height="1.5" fill="#fff"/>
<rect x="267.2" y="502.5" width="2" height="3" fill="#fff"/>
<rect x="266.2" y="509.05" width="4" height="1.5" fill="#fff"/>
<rect x="267.2" y="508.3" width="2" height="3" fill="#fff"/>
<rect x="204.6" y="446.5" width="46.4" height="46.5" fill="#fff"/>
<rect x="213.9" y="428.6" width="28.5" height="13.3" fill="#fff"/>
<g aria-label="NPU">
<path transform="translate(215,430)" d="M0 0h1v1h-1zM5 0h1v1h-1zM0 1h2v1h-2zM5 1h1v1h-1zM0 2h2v1h-2zM5 2h1v1h-1zM0 3h1v1h-1zM2 3h1v1h-1zM5 3h1v1h-1zM0 4h1v1h-1zM2 4h1v1h-1zM5 4h1v1h-1zM0 5h1v1h-1zM3 5h1v1h-1zM5 5h1v1h-1zM0 6h1v1h-1zM3 6h1v1h-1zM5 6h1v1h-1zM0 7h1v1h-1zM4 7h2v1h-2zM0 8h1v1h-1zM4 8h2v1h-2zM0 9h1v1h-1zM5 9h1v1h-1z"/>
<path transform="translate(225,430)" d="M0 0h4v1h-4zM0 1h1v1h-1zM4 1h1v1h-1zM0 2h1v1h-1zM4 2h1v1h-1zM0 3h1v1h-1zM4 3h1v1h-1zM0 4h4v1h-4zM0 5h1v1h-1zM0 6h1v1h-1zM0 7h1v1h-1zM0 8h1v1h-1zM0 9h1v1h-1z"/>
<path transform="translate(234,430)" d="M0 0h1v1h-1zM5 0h1v1h-1zM0 1h1v1h-1zM5 1h1v1h-1zM0 2h1v1h-1zM5 2h1v1h-1zM0 3h1v1h-1zM5 3h1v1h-1zM0 4h1v1h-1zM5 4h1v1h-1zM0 5h1v1h-1zM5 5h1v1h-1zM0 6h1v1h-1zM5 6h1v1h-1zM0 7h1v1h-1zM5 7h1v1h-1zM0 8h1v1h-1zM5 8h1v1h-1zM1 9h4v1h-4z"/>
</g>
<rect x="210.9" y="461.1" width="32.9" height="18.6" rx="2.5" fill="#000"/>
<rect x="212.9" y="463.1" width="28.9" height="14.3" rx="1.5" fill="#fff"/>
<g aria-label="CPU">
<path transform="translate(213,466)" d="M1 0h4v1h-4zM0 1h1v1h-1zM5 1h1v1h-1zM0 2h1v1h-1zM0 3h1v1h-1zM0 4h1v1h-1zM0 5h1v1h-1zM0 6h1v1h-1zM0 7h1v1h-1zM0 8h1v1h-1zM5 8h1v1h-1zM1 9h4v1h-4z"/>
<path transform="translate(224,466)" d="M0 0h4v1h-4zM0 1h1v1h-1zM4 1h1v1h-1zM0 2h1v1h-1zM4 2h1v1h-1zM0 3h1v1h-1zM4 3h1v1h-1zM0 4h4v1h-4zM0 5h1v1h-1zM0 6h1v1h-1zM0 7h1v1h-1zM0 8h1v1h-1zM0 9h1v1h-1z"/>
<path transform="translate(234,466)" d="M0 0h1v1h-1zM5 0h1v1h-1zM0 1h1v1h-1zM5 1h1v1h-1zM0 2h1v1h-1zM5 2h1v1h-1zM0 3h1v1h-1zM5 3h1v1h-1zM0 4h1v1h-1zM5 4h1v1h-1zM0 5h1v1h-1zM5 5h1v1h-1zM0 6h1v1h-1zM5 6h1v1h-1zM0 7h1v1h-1zM5 7h1v1h-1zM0 8h1v1h-1zM5 8h1v1h-1zM1 9h4v1h-4z"/>
</g>
<rect x="126.3" y="418.5" width="13.5" height="6.2" fill="#000"/>
<rect x="127.3" y="419.5" width="1" height="4.2" fill="#fff"/>
<rect x="131.467" y="419.5" width="1" height="4.2" fill="#fff"/>
<rect x="135.633" y="419.5" width="1" height="4.2" fill="#fff"/>
<rect x="188.5" y="417.6" width="2.8" height="12" fill="#fff"/>
<rect x="154.9" y="412.6" width="34" height="17" rx="2.5" fill="#000"/>
<rect x="156.9" y="414.6" width="30" height="12.7" rx="1.5" fill="#fff"/>
<g aria-label="JP5">
<path transform="translate(160,416)" d="M3 0h1v1h-1zM3 1h1v1h-1zM3 2h1v1h-1zM3 3h1v1h-1zM3 4h1v1h-1zM3 5h1v1h-1zM3 6h1v1h-1zM0 7h1v1h-1zM3 7h1v1h-1zM0 8h1v1h-1zM3 8h1v1h-1zM1 9h2v1h-2z"/>
<path transform="translate(167,416)" d="M0 0h4v1h-4zM0 1h1v1h-1zM4 1h1v1h-1zM0 2h1v1h-1zM4 2h1v1h-1zM0 3h1v1h-1zM4 3h1v1h-1zM0 4h4v1h-4zM0 5h1v1h-1zM0 6h1v1h-1zM0 7h1v1h-1zM0 8h1v1h-1zM0 9h1v1h-1z"/>
<path transform="translate(176,416)" d="M0 0h5v1h-5zM0 1h1v1h-1zM0 2h1v1h-1zM0 3h4v1h-4zM4 4h1v1h-1zM4 5h1v1h-1zM4 6h1v1h-1zM4 7h1v1h-1zM0 8h1v1h-1zM4 8h1v1h-1zM1 9h3v1h-3z"/>
</g>
<polygon points="156.9,414.6 147.8,419.5 147.8,423.6 156.9,428.6" fill="#000"/>
<rect x="143.3" y="419.6" width="4.5" height="3.9" fill="#000"/>
<rect x="139.8" y="420.6" width="3.5" height="2" fill="#000"/>
<polygon points="158.1,416.6 148.4,421.1 148.4,422.1 158.1,426.6" fill="#fff"/>
<rect x="303" y="365" width="226" height="18.8" fill="#000"/>
<rect x="304" y="366" width="224" height="16.8" fill="#fff"/>
<rect x="304" y="371.6" width="6.1" height="1.6" fill="#000"/>
<rect x="304" y="378.8" width="6.1" height="1.2" fill="#000"/>
<rect x="310.1" y="365.5" width="3.7" height="16.3" fill="#000"/>
<polygon points="313.8,365.9 321,365.9 321,371.1 323.7,371.1 323.7,380.6 313.8,380.6" fill="#000"/>
<polygon points="314.8,367.1 320.1,367.1 320.1,372 322.8,372 322.8,379.7 314.8,379.7" fill="#fff"/>
<rect x="313.8" y="370.2" width="3.2" height="1.8" fill="#000"/>
<rect x="316" y="370.2" width="1" height="3.7" fill="#000"/>
<rect x="316" y="373" width="5" height="0.9" fill="#000"/>
<rect x="320.1" y="372" width="0.9" height="1.9" fill="#000"/>
<rect x="311" y="380.8" width="209" height="1.1" fill="#000"/>
<rect x="328" y="368" width="174.4" height="13" fill="#000"/>
<rect x="331.9" y="369.1" width="2" height="3.6" fill="#fff"/>
<rect x="331" y="374" width="3.9" height="6" fill="#fff"/>
<rect x="337.8" y="369.1" width="2" height="3.6" fill="#fff"/>
<rect x="336.9" y="374" width="3.9" height="6" fill="#fff"/>
<rect x="343.7" y="369.1" width="2" height="3.6" fill="#fff"/>
<rect x="342.8" y="374" width="3.9" height="6" fill="#fff"/>
<rect x="349.6" y="369.1" width="2" height="3.6" fill="#fff"/>
<rect x="348.7" y="374" width="3.9" height="6" fill="#fff"/>
<rect x="355.5" y="369.1" width="2" height="3.6" fill="#fff"/>
<rect x="354.6" y="374" width="3.9" height="6" fill="#fff"/>
<rect x="361.4" y="369.1" width="2" height="3.6" fill="#fff"/>
<rect x="360.5" y="374" width="3.9" height="6" fill="#fff"/>
<rect x="367.3" y="369.1" width="2" height="3.6" fill="#fff"/>
<rect x="366.4" y="374" width="3.9" height="6" fill="#fff"/>
<rect x="373.2" y="369.1" width="2" height="3.6" fill="#fff"/>
<rect x="372.3" y="374" width="3.9" height="6" fill="#fff"/>
<rect x="379.1" y="369.1" width="2" height="3.6" fill="#fff"/>
<rect x="378.2" y="374" width="3.9" height="6" fill="#fff"/>
<rect x="385" y="369.1" width="2" height="3.6" fill="#fff"/>
<rect x="384.1" y="374" width="3.9" height="6" fill="#fff"/>
<rect x="390.9" y="369.1" width="2" height="3.6" fill="#fff"/>
<rect x="390" y="374" width="3.9" height="6" fill="#fff"/>
<rect x="396.8" y="369.1" width="2" height="3.6" fill="#fff"/>
<rect x="395.9" y="374" width="3.9" height="6" fill="#fff"/>
<rect x="402.7" y="369.1" width="2" height="3.6" fill="#fff"/>
<rect x="401.8" y="374" width="3.9" height="6" fill="#fff"/>
<rect x="408.6" y="369.1" width="2" height="3.6" fill="#fff"/>
<rect x="407.7" y="374" width="3.9" height="6" fill="#fff"/>
<rect x="414.5" y="369.1" width="2" height="3.6" fill="#fff"/>
<rect x="413.6" y="374" width="3.9" height="6" fill="#fff"/>
<rect x="420.4" y="369.1" width="2" height="3.6" fill="#fff"/>
<rect x="419.5" y="374" width="3.9" height="6" fill="#fff"/>
<rect x="426.3" y="369.1" width="2" height="3.6" fill="#fff"/>
<rect x="425.4" y="374" width="3.9" height="6" fill="#fff"/>
<rect x="432.2" y="369.1" width="2" height="3.6" fill="#fff"/>
<rect x="431.3" y="374" width="3.9" height="6" fill="#fff"/>
<rect x="438.1" y="369.1" width="2" height="3.6" fill="#fff"/>
<rect x="437.2" y="374" width="3.9" height="6" fill="#fff"/>
<rect x="444" y="369.1" width="2" height="3.6" fill="#fff"/>
<rect x="443.1" y="374" width="3.9" height="6" fill="#fff"/>
<rect x="449.9" y="369.1" width="2" height="3.6" fill="#fff"/>
<rect x="449" y="374" width="3.9" height="6" fill="#fff"/>
<rect x="455.8" y="369.1" width="2" height="3.6" fill="#fff"/>
<rect x="454.9" y="374" width="3.9" height="6" fill="#fff"/>
<rect x="461.7" y="369.1" width="2" height="3.6" fill="#fff"/>
<rect x="460.8" y="374" width="3.9" height="6" fill="#fff"/>
<rect x="467.6" y="369.1" width="2" height="3.6" fill="#fff"/>
<rect x="466.7" y="374" width="3.9" height="6" fill="#fff"/>
<rect x="473.5" y="369.1" width="2" height="3.6" fill="#fff"/>
<rect x="472.6" y="374" width="3.9" height="6" fill="#fff"/>
<rect x="479.4" y="369.1" width="2" height="3.6" fill="#fff"/>
<rect x="478.5" y="374" width="3.9" height="6" fill="#fff"/>
<rect x="485.3" y="369.1" width="2" height="3.6" fill="#fff"/>
<rect x="484.4" y="374" width="3.9" height="6" fill="#fff"/>
<rect x="491.2" y="369.1" width="2" height="3.6" fill="#fff"/>
<rect x="490.3" y="374" width="3.9" height="6" fill="#fff"/>
<rect x="497.1" y="369.1" width="2" height="3.6" fill="#fff"/>
<rect x="496.2" y="374" width="3.9" height="6" fill="#fff"/>
<polygon points="509,365.7 517.5,365.7 517.5,380.9 507,380.9 507,371.2 509,371.2" fill="#000"/>
<polygon points="510.2,366.8 516.1,366.8 516.1,379.8 508.2,379.8 508.2,372.3 510.2,372.3" fill="#fff"/>
<rect x="514" y="369.2" width="2.1" height="1" fill="#000"/>
<rect x="514" y="369.2" width="1" height="3.3" fill="#000"/>
<rect x="510.2" y="371.6" width="4.8" height="0.9" fill="#000"/>
<rect x="509.8" y="371.2" width="1" height="1.3" fill="#000"/>
<rect x="517.5" y="365.5" width="1.4" height="17.5" fill="#000"/>
<rect x="520" y="365.5" width="1" height="17.5" fill="#000"/>
<rect x="521" y="371.8" width="7" height="0.9" fill="#000"/>
<rect x="521" y="378.8" width="7" height="1" fill="#000"/>
<rect x="303" y="385.3" width="226" height="18.8" fill="#000"/>
<rect x="304" y="386.3" width="224" height="16.8" fill="#fff"/>
<rect x="304" y="391.9" width="6.1" height="1.6" fill="#000"/>
<rect x="304" y="399.1" width="6.1" height="1.2" fill="#000"/>
<rect x="310.1" y="385.8" width="3.7" height="16.3" fill="#000"/>
<polygon points="313.8,386.2 321,386.2 321,391.4 323.7,391.4 323.7,400.9 313.8,400.9" fill="#000"/>
<polygon points="314.8,387.4 320.1,387.4 320.1,392.3 322.8,392.3 322.8,400 314.8,400" fill="#fff"/>
<rect x="313.8" y="390.5" width="3.2" height="1.8" fill="#000"/>
<rect x="316" y="390.5" width="1" height="3.7" fill="#000"/>
<rect x="316" y="393.3" width="5" height="0.9" fill="#000"/>
<rect x="320.1" y="392.3" width="0.9" height="1.9" fill="#000"/>
<rect x="311" y="401.1" width="209" height="1.1" fill="#000"/>
<rect x="328" y="388.3" width="174.4" height="13" fill="#000"/>
<rect x="331.9" y="389.4" width="2" height="3.6" fill="#fff"/>
<rect x="331" y="394.3" width="3.9" height="6" fill="#fff"/>
<rect x="337.8" y="389.4" width="2" height="3.6" fill="#fff"/>
<rect x="336.9" y="394.3" width="3.9" height="6" fill="#fff"/>
<rect x="343.7" y="389.4" width="2" height="3.6" fill="#fff"/>
<rect x="342.8" y="394.3" width="3.9" height="6" fill="#fff"/>
<rect x="349.6" y="389.4" width="2" height="3.6" fill="#fff"/>
<rect x="348.7" y="394.3" width="3.9" height="6" fill="#fff"/>
<rect x="355.5" y="389.4" width="2" height="3.6" fill="#fff"/>
<rect x="354.6" y="394.3" width="3.9" height="6" fill="#fff"/>
<rect x="361.4" y="389.4" width="2" height="3.6" fill="#fff"/>
<rect x="360.5" y="394.3" width="3.9" height="6" fill="#fff"/>
<rect x="367.3" y="389.4" width="2" height="3.6" fill="#fff"/>
<rect x="366.4" y="394.3" width="3.9" height="6" fill="#fff"/>
<rect x="373.2" y="389.4" width="2" height="3.6" fill="#fff"/>
<rect x="372.3" y="394.3" width="3.9" height="6" fill="#fff"/>
<rect x="379.1" y="389.4" width="2" height="3.6" fill="#fff"/>
<rect x="378.2" y="394.3" width="3.9" height="6" fill="#fff"/>
<rect x="385" y="389.4" width="2" height="3.6" fill="#fff"/>
<rect x="384.1" y="394.3" width="3.9" height="6" fill="#fff"/>
<rect x="390.9" y="389.4" width="2" height="3.6" fill="#fff"/>
<rect x="390" y="394.3" width="3.9" height="6" fill="#fff"/>
<rect x="396.8" y="389.4" width="2" height="3.6" fill="#fff"/>
<rect x="395.9" y="394.3" width="3.9" height="6" fill="#fff"/>
<rect x="402.7" y="389.4" width="2" height="3.6" fill="#fff"/>
<rect x="401.8" y="394.3" width="3.9" height="6" fill="#fff"/>
<rect x="408.6" y="389.4" width="2" height="3.6" fill="#fff"/>
<rect x="407.7" y="394.3" width="3.9" height="6" fill="#fff"/>
<rect x="414.5" y="389.4" width="2" height="3.6" fill="#fff"/>
<rect x="413.6" y="394.3" width="3.9" height="6" fill="#fff"/>
<rect x="420.4" y="389.4" width="2" height="3.6" fill="#fff"/>
<rect x="419.5" y="394.3" width="3.9" height="6" fill="#fff"/>
<rect x="426.3" y="389.4" width="2" height="3.6" fill="#fff"/>
<rect x="425.4" y="394.3" width="3.9" height="6" fill="#fff"/>
<rect x="432.2" y="389.4" width="2" height="3.6" fill="#fff"/>
<rect x="431.3" y="394.3" width="3.9" height="6" fill="#fff"/>
<rect x="438.1" y="389.4" width="2" height="3.6" fill="#fff"/>
<rect x="437.2" y="394.3" width="3.9" height="6" fill="#fff"/>
<rect x="444" y="389.4" width="2" height="3.6" fill="#fff"/>
<rect x="443.1" y="394.3" width="3.9" height="6" fill="#fff"/>
<rect x="449.9" y="389.4" width="2" height="3.6" fill="#fff"/>
<rect x="449" y="394.3" width="3.9" height="6" fill="#fff"/>
<rect x="455.8" y="389.4" width="2" height="3.6" fill="#fff"/>
<rect x="454.9" y="394.3" width="3.9" height="6" fill="#fff"/>
<rect x="461.7" y="389.4" width="2" height="3.6" fill="#fff"/>
<rect x="460.8" y="394.3" width="3.9" height="6" fill="#fff"/>
<rect x="467.6" y="389.4" width="2" height="3.6" fill="#fff"/>
<rect x="466.7" y="394.3" width="3.9" height="6" fill="#fff"/>
<rect x="473.5" y="389.4" width="2" height="3.6" fill="#fff"/>
<rect x="472.6" y="394.3" width="3.9" height="6" fill="#fff"/>
<rect x="479.4" y="389.4" width="2" height="3.6" fill="#fff"/>
<rect x="478.5" y="394.3" width="3.9" height="6" fill="#fff"/>
<rect x="485.3" y="389.4" width="2" height="3.6" fill="#fff"/>
<rect x="484.4" y="394.3" width="3.9" height="6" fill="#fff"/>
<rect x="491.2" y="389.4" width="2" height="3.6" fill="#fff"/>
<rect x="490.3" y="394.3" width="3.9" height="6" fill="#fff"/>
<rect x="497.1" y="389.4" width="2" height="3.6" fill="#fff"/>
<rect x="496.2" y="394.3" width="3.9" height="6" fill="#fff"/>
<polygon points="509,386 517.5,386 517.5,401.2 507,401.2 507,391.5 509,391.5" fill="#000"/>
<polygon points="510.2,387.1 516.1,387.1 516.1,400.1 508.2,400.1 508.2,392.6 510.2,392.6" fill="#fff"/>
<rect x="514" y="389.5" width="2.1" height="1" fill="#000"/>
<rect x="514" y="389.5" width="1" height="3.3" fill="#000"/>
<rect x="510.2" y="391.9" width="4.8" height="0.9" fill="#000"/>
<rect x="509.8" y="391.5" width="1" height="1.3" fill="#000"/>
<rect x="517.5" y="385.8" width="1.4" height="17.5" fill="#000"/>
<rect x="520" y="385.8" width="1" height="17.5" fill="#000"/>
<rect x="521" y="392.1" width="7" height="0.9" fill="#000"/>
<rect x="521" y="399.1" width="7" height="1" fill="#000"/>
<rect x="303" y="405.6" width="226" height="18.8" fill="#000"/>
<rect x="304" y="406.6" width="224" height="16.8" fill="#fff"/>
<rect x="304" y="412.2" width="6.1" height="1.6" fill="#000"/>
<rect x="304" y="419.4" width="6.1" height="1.2" fill="#000"/>
<rect x="310.1" y="406.1" width="3.7" height="16.3" fill="#000"/>
<polygon points="313.8,406.5 321,406.5 321,411.7 323.7,411.7 323.7,421.2 313.8,421.2" fill="#000"/>
<polygon points="314.8,407.7 320.1,407.7 320.1,412.6 322.8,412.6 322.8,420.3 314.8,420.3" fill="#fff"/>
<rect x="313.8" y="410.8" width="3.2" height="1.8" fill="#000"/>
<rect x="316" y="410.8" width="1" height="3.7" fill="#000"/>
<rect x="316" y="413.6" width="5" height="0.9" fill="#000"/>
<rect x="320.1" y="412.6" width="0.9" height="1.9" fill="#000"/>
<rect x="311" y="421.4" width="209" height="1.1" fill="#000"/>
<rect x="328" y="408.6" width="174.4" height="13" fill="#000"/>
<rect x="331.9" y="409.7" width="2" height="3.6" fill="#fff"/>
<rect x="331" y="414.6" width="3.9" height="6" fill="#fff"/>
<rect x="337.8" y="409.7" width="2" height="3.6" fill="#fff"/>
<rect x="336.9" y="414.6" width="3.9" height="6" fill="#fff"/>
<rect x="343.7" y="409.7" width="2" height="3.6" fill="#fff"/>
<rect x="342.8" y="414.6" width="3.9" height="6" fill="#fff"/>
<rect x="349.6" y="409.7" width="2" height="3.6" fill="#fff"/>
<rect x="348.7" y="414.6" width="3.9" height="6" fill="#fff"/>
<rect x="355.5" y="409.7" width="2" height="3.6" fill="#fff"/>
<rect x="354.6" y="414.6" width="3.9" height="6" fill="#fff"/>
<rect x="361.4" y="409.7" width="2" height="3.6" fill="#fff"/>
<rect x="360.5" y="414.6" width="3.9" height="6" fill="#fff"/>
<rect x="367.3" y="409.7" width="2" height="3.6" fill="#fff"/>
<rect x="366.4" y="414.6" width="3.9" height="6" fill="#fff"/>
<rect x="373.2" y="409.7" width="2" height="3.6" fill="#fff"/>
<rect x="372.3" y="414.6" width="3.9" height="6" fill="#fff"/>
<rect x="379.1" y="409.7" width="2" height="3.6" fill="#fff"/>
<rect x="378.2" y="414.6" width="3.9" height="6" fill="#fff"/>
<rect x="385" y="409.7" width="2" height="3.6" fill="#fff"/>
<rect x="384.1" y="414.6" width="3.9" height="6" fill="#fff"/>
<rect x="390.9" y="409.7" width="2" height="3.6" fill="#fff"/>
<rect x="390" y="414.6" width="3.9" height="6" fill="#fff"/>
<rect x="396.8" y="409.7" width="2" height="3.6" fill="#fff"/>
<rect x="395.9" y="414.6" width="3.9" height="6" fill="#fff"/>
<rect x="402.7" y="409.7" width="2" height="3.6" fill="#fff"/>
<rect x="401.8" y="414.6" width="3.9" height="6" fill="#fff"/>
<rect x="408.6" y="409.7" width="2" height="3.6" fill="#fff"/>
<rect x="407.7" y="414.6" width="3.9" height="6" fill="#fff"/>
<rect x="414.5" y="409.7" width="2" height="3.6" fill="#fff"/>
<rect x="413.6" y="414.6" width="3.9" height="6" fill="#fff"/>
<rect x="420.4" y="409.7" width="2" height="3.6" fill="#fff"/>
<rect x="419.5" y="414.6" width="3.9" height="6" fill="#fff"/>
<rect x="426.3" y="409.7" width="2" height="3.6" fill="#fff"/>
<rect x="425.4" y="414.6" width="3.9" height="6" fill="#fff"/>
<rect x="432.2" y="409.7" width="2" height="3.6" fill="#fff"/>
<rect x="431.3" y="414.6" width="3.9" height="6" fill="#fff"/>
<rect x="438.1" y="409.7" width="2" height="3.6" fill="#fff"/>
<rect x="437.2" y="414.6" width="3.9" height="6" fill="#fff"/>
<rect x="444" y="409.7" width="2" height="3.6" fill="#fff"/>
<rect x="443.1" y="414.6" width="3.9" height="6" fill="#fff"/>
<rect x="449.9" y="409.7" width="2" height="3.6" fill="#fff"/>
<rect x="449" y="414.6" width="3.9" height="6" fill="#fff"/>
<rect x="455.8" y="409.7" width="2" height="3.6" fill="#fff"/>
<rect x="454.9" y="414.6" width="3.9" height="6" fill="#fff"/>
<rect x="461.7" y="409.7" width="2" height="3.6" fill="#fff"/>
<rect x="460.8" y="414.6" width="3.9" height="6" fill="#fff"/>
<rect x="467.6" y="409.7" width="2" height="3.6" fill="#fff"/>
<rect x="466.7" y="414.6" width="3.9" height="6" fill="#fff"/>
<rect x="473.5" y="409.7" width="2" height="3.6" fill="#fff"/>
<rect x="472.6" y="414.6" width="3.9" height="6" fill="#fff"/>
<rect x="479.4" y="409.7" width="2" height="3.6" fill="#fff"/>
<rect x="478.5" y="414.6" width="3.9" height="6" fill="#fff"/>
<rect x="485.3" y="409.7" width="2" height="3.6" fill="#fff"/>
<rect x="484.4" y="414.6" width="3.9" height="6" fill="#fff"/>
<rect x="491.2" y="409.7" width="2" height="3.6" fill="#fff"/>
<rect x="490.3" y="414.6" width="3.9" height="6" fill="#fff"/>
<rect x="497.1" y="409.7" width="2" height="3.6" fill="#fff"/>
<rect x="496.2" y="414.6" width="3.9" height="6" fill="#fff"/>
<polygon points="509,406.3 517.5,406.3 517.5,421.5 507,421.5 507,411.8 509,411.8" fill="#000"/>
<polygon points="510.2,407.4 516.1,407.4 516.1,420.4 508.2,420.4 508.2,412.9 510.2,412.9" fill="#fff"/>
<rect x="514" y="409.8" width="2.1" height="1" fill="#000"/>
<rect x="514" y="409.8" width="1" height="3.3" fill="#000"/>
<rect x="510.2" y="412.2" width="4.8" height="0.9" fill="#000"/>
<rect x="509.8" y="411.8" width="1" height="1.3" fill="#000"/>
<rect x="517.5" y="406.1" width="1.4" height="17.5" fill="#000"/>
<rect x="520" y="406.1" width="1" height="17.5" fill="#000"/>
<rect x="521" y="412.4" width="7" height="0.9" fill="#000"/>
<rect x="521" y="419.4" width="7" height="1" fill="#000"/>
<rect x="303" y="425.9" width="226" height="18.8" fill="#000"/>
<rect x="304" y="426.9" width="224" height="16.8" fill="#fff"/>
<rect x="304" y="432.5" width="6.1" height="1.6" fill="#000"/>
<rect x="304" y="439.7" width="6.1" height="1.2" fill="#000"/>
<rect x="310.1" y="426.4" width="3.7" height="16.3" fill="#000"/>
<polygon points="313.8,426.8 321,426.8 321,432 323.7,432 323.7,441.5 313.8,441.5" fill="#000"/>
<polygon points="314.8,428 320.1,428 320.1,432.9 322.8,432.9 322.8,440.6 314.8,440.6" fill="#fff"/>
<rect x="313.8" y="431.1" width="3.2" height="1.8" fill="#000"/>
<rect x="316" y="431.1" width="1" height="3.7" fill="#000"/>
<rect x="316" y="433.9" width="5" height="0.9" fill="#000"/>
<rect x="320.1" y="432.9" width="0.9" height="1.9" fill="#000"/>
<rect x="311" y="441.7" width="209" height="1.1" fill="#000"/>
<rect x="328" y="428.9" width="174.4" height="13" fill="#000"/>
<rect x="331.9" y="430" width="2" height="3.6" fill="#fff"/>
<rect x="331" y="434.9" width="3.9" height="6" fill="#fff"/>
<rect x="337.8" y="430" width="2" height="3.6" fill="#fff"/>
<rect x="336.9" y="434.9" width="3.9" height="6" fill="#fff"/>
<rect x="343.7" y="430" width="2" height="3.6" fill="#fff"/>
<rect x="342.8" y="434.9" width="3.9" height="6" fill="#fff"/>
<rect x="349.6" y="430" width="2" height="3.6" fill="#fff"/>
<rect x="348.7" y="434.9" width="3.9" height="6" fill="#fff"/>
<rect x="355.5" y="430" width="2" height="3.6" fill="#fff"/>
<rect x="354.6" y="434.9" width="3.9" height="6" fill="#fff"/>
<rect x="361.4" y="430" width="2" height="3.6" fill="#fff"/>
<rect x="360.5" y="434.9" width="3.9" height="6" fill="#fff"/>
<rect x="367.3" y="430" width="2" height="3.6" fill="#fff"/>
<rect x="366.4" y="434.9" width="3.9" height="6" fill="#fff"/>
<rect x="373.2" y="430" width="2" height="3.6" fill="#fff"/>
<rect x="372.3" y="434.9" width="3.9" height="6" fill="#fff"/>
<rect x="379.1" y="430" width="2" height="3.6" fill="#fff"/>
<rect x="378.2" y="434.9" width="3.9" height="6" fill="#fff"/>
<rect x="385" y="430" width="2" height="3.6" fill="#fff"/>
<rect x="384.1" y="434.9" width="3.9" height="6" fill="#fff"/>
<rect x="390.9" y="430" width="2" height="3.6" fill="#fff"/>
<rect x="390" y="434.9" width="3.9" height="6" fill="#fff"/>
<rect x="396.8" y="430" width="2" height="3.6" fill="#fff"/>
<rect x="395.9" y="434.9" width="3.9" height="6" fill="#fff"/>
<rect x="402.7" y="430" width="2" height="3.6" fill="#fff"/>
<rect x="401.8" y="434.9" width="3.9" height="6" fill="#fff"/>
<rect x="408.6" y="430" width="2" height="3.6" fill="#fff"/>
<rect x="407.7" y="434.9" width="3.9" height="6" fill="#fff"/>
<rect x="414.5" y="430" width="2" height="3.6" fill="#fff"/>
<rect x="413.6" y="434.9" width="3.9" height="6" fill="#fff"/>
<rect x="420.4" y="430" width="2" height="3.6" fill="#fff"/>
<rect x="419.5" y="434.9" width="3.9" height="6" fill="#fff"/>
<rect x="426.3" y="430" width="2" height="3.6" fill="#fff"/>
<rect x="425.4" y="434.9" width="3.9" height="6" fill="#fff"/>
<rect x="432.2" y="430" width="2" height="3.6" fill="#fff"/>
<rect x="431.3" y="434.9" width="3.9" height="6" fill="#fff"/>
<rect x="438.1" y="430" width="2" height="3.6" fill="#fff"/>
<rect x="437.2" y="434.9" width="3.9" height="6" fill="#fff"/>
<rect x="444" y="430" width="2" height="3.6" fill="#fff"/>
<rect x="443.1" y="434.9" width="3.9" height="6" fill="#fff"/>
<rect x="449.9" y="430" width="2" height="3.6" fill="#fff"/>
<rect x="449" y="434.9" width="3.9" height="6" fill="#fff"/>
<rect x="455.8" y="430" width="2" height="3.6" fill="#fff"/>
<rect x="454.9" y="434.9" width="3.9" height="6" fill="#fff"/>
<rect x="461.7" y="430" width="2" height="3.6" fill="#fff"/>
<rect x="460.8" y="434.9" width="3.9" height="6" fill="#fff"/>
<rect x="467.6" y="430" width="2" height="3.6" fill="#fff"/>
<rect x="466.7" y="434.9" width="3.9" height="6" fill="#fff"/>
<rect x="473.5" y="430" width="2" height="3.6" fill="#fff"/>
<rect x="472.6" y="434.9" width="3.9" height="6" fill="#fff"/>
<rect x="479.4" y="430" width="2" height="3.6" fill="#fff"/>
<rect x="478.5" y="434.9" width="3.9" height="6" fill="#fff"/>
<rect x="485.3" y="430" width="2" height="3.6" fill="#fff"/>
<rect x="484.4" y="434.9" width="3.9" height="6" fill="#fff"/>
<rect x="491.2" y="430" width="2" height="3.6" fill="#fff"/>
<rect x="490.3" y="434.9" width="3.9" height="6" fill="#fff"/>
<rect x="497.1" y="430" width="2" height="3.6" fill="#fff"/>
<rect x="496.2" y="434.9" width="3.9" height="6" fill="#fff"/>
<polygon points="509,426.6 517.5,426.6 517.5,441.8 507,441.8 507,432.1 509,432.1" fill="#000"/>
<polygon points="510.2,427.7 516.1,427.7 516.1,440.7 508.2,440.7 508.2,433.2 510.2,433.2" fill="#fff"/>
<rect x="514" y="430.1" width="2.1" height="1" fill="#000"/>
<rect x="514" y="430.1" width="1" height="3.3" fill="#000"/>
<rect x="510.2" y="432.5" width="4.8" height="0.9" fill="#000"/>
<rect x="509.8" y="432.1" width="1" height="1.3" fill="#000"/>
<rect x="517.5" y="426.4" width="1.4" height="17.5" fill="#000"/>
<rect x="520" y="426.4" width="1" height="17.5" fill="#000"/>
<rect x="521" y="432.7" width="7" height="0.9" fill="#000"/>
<rect x="521" y="439.7" width="7" height="1" fill="#000"/>
<rect x="303" y="446.2" width="226" height="18.8" fill="#000"/>
<rect x="304" y="447.2" width="224" height="16.8" fill="#fff"/>
<rect x="304" y="452.8" width="6.1" height="1.6" fill="#000"/>
<rect x="304" y="460" width="6.1" height="1.2" fill="#000"/>
<rect x="310.1" y="446.7" width="3.7" height="16.3" fill="#000"/>
<polygon points="313.8,447.1 321,447.1 321,452.3 323.7,452.3 323.7,461.8 313.8,461.8" fill="#000"/>
<polygon points="314.8,448.3 320.1,448.3 320.1,453.2 322.8,453.2 322.8,460.9 314.8,460.9" fill="#fff"/>
<rect x="313.8" y="451.4" width="3.2" height="1.8" fill="#000"/>
<rect x="316" y="451.4" width="1" height="3.7" fill="#000"/>
<rect x="316" y="454.2" width="5" height="0.9" fill="#000"/>
<rect x="320.1" y="453.2" width="0.9" height="1.9" fill="#000"/>
<rect x="311" y="462" width="209" height="1.1" fill="#000"/>
<rect x="328" y="449.2" width="174.4" height="13" fill="#000"/>
<rect x="331.9" y="450.3" width="2" height="3.6" fill="#fff"/>
<rect x="331" y="455.2" width="3.9" height="6" fill="#fff"/>
<rect x="337.8" y="450.3" width="2" height="3.6" fill="#fff"/>
<rect x="336.9" y="455.2" width="3.9" height="6" fill="#fff"/>
<rect x="343.7" y="450.3" width="2" height="3.6" fill="#fff"/>
<rect x="342.8" y="455.2" width="3.9" height="6" fill="#fff"/>
<rect x="349.6" y="450.3" width="2" height="3.6" fill="#fff"/>
<rect x="348.7" y="455.2" width="3.9" height="6" fill="#fff"/>
<rect x="355.5" y="450.3" width="2" height="3.6" fill="#fff"/>
<rect x="354.6" y="455.2" width="3.9" height="6" fill="#fff"/>
<rect x="361.4" y="450.3" width="2" height="3.6" fill="#fff"/>
<rect x="360.5" y="455.2" width="3.9" height="6" fill="#fff"/>
<rect x="367.3" y="450.3" width="2" height="3.6" fill="#fff"/>
<rect x="366.4" y="455.2" width="3.9" height="6" fill="#fff"/>
<rect x="373.2" y="450.3" width="2" height="3.6" fill="#fff"/>
<rect x="372.3" y="455.2" width="3.9" height="6" fill="#fff"/>
<rect x="379.1" y="450.3" width="2" height="3.6" fill="#fff"/>
<rect x="378.2" y="455.2" width="3.9" height="6" fill="#fff"/>
<rect x="385" y="450.3" width="2" height="3.6" fill="#fff"/>
<rect x="384.1" y="455.2" width="3.9" height="6" fill="#fff"/>
<rect x="390.9" y="450.3" width="2" height="3.6" fill="#fff"/>
<rect x="390" y="455.2" width="3.9" height="6" fill="#fff"/>
<rect x="396.8" y="450.3" width="2" height="3.6" fill="#fff"/>
<rect x="395.9" y="455.2" width="3.9" height="6" fill="#fff"/>
<rect x="402.7" y="450.3" width="2" height="3.6" fill="#fff"/>
<rect x="401.8" y="455.2" width="3.9" height="6" fill="#fff"/>
<rect x="408.6" y="450.3" width="2" height="3.6" fill="#fff"/>
<rect x="407.7" y="455.2" width="3.9" height="6" fill="#fff"/>
<rect x="414.5" y="450.3" width="2" height="3.6" fill="#fff"/>
<rect x="413.6" y="455.2" width="3.9" height="6" fill="#fff"/>
<rect x="420.4" y="450.3" width="2" height="3.6" fill="#fff"/>
<rect x="419.5" y="455.2" width="3.9" height="6" fill="#fff"/>
<rect x="426.3" y="450.3" width="2" height="3.6" fill="#fff"/>
<rect x="425.4" y="455.2" width="3.9" height="6" fill="#fff"/>
<rect x="432.2" y="450.3" width="2" height="3.6" fill="#fff"/>
<rect x="431.3" y="455.2" width="3.9" height="6" fill="#fff"/>
<rect x="438.1" y="450.3" width="2" height="3.6" fill="#fff"/>
<rect x="437.2" y="455.2" width="3.9" height="6" fill="#fff"/>
<rect x="444" y="450.3" width="2" height="3.6" fill="#fff"/>
<rect x="443.1" y="455.2" width="3.9" height="6" fill="#fff"/>
<rect x="449.9" y="450.3" width="2" height="3.6" fill="#fff"/>
<rect x="449" y="455.2" width="3.9" height="6" fill="#fff"/>
<rect x="455.8" y="450.3" width="2" height="3.6" fill="#fff"/>
<rect x="454.9" y="455.2" width="3.9" height="6" fill="#fff"/>
<rect x="461.7" y="450.3" width="2" height="3.6" fill="#fff"/>
<rect x="460.8" y="455.2" width="3.9" height="6" fill="#fff"/>
<rect x="467.6" y="450.3" width="2" height="3.6" fill="#fff"/>
<rect x="466.7" y="455.2" width="3.9" height="6" fill="#fff"/>
<rect x="473.5" y="450.3" width="2" height="3.6" fill="#fff"/>
<rect x="472.6" y="455.2" width="3.9" height="6" fill="#fff"/>
<rect x="479.4" y="450.3" width="2" height="3.6" fill="#fff"/>
<rect x="478.5" y="455.2" width="3.9" height="6" fill="#fff"/>
<rect x="485.3" y="450.3" width="2" height="3.6" fill="#fff"/>
<rect x="484.4" y="455.2" width="3.9" height="6" fill="#fff"/>
<rect x="491.2" y="450.3" width="2" height="3.6" fill="#fff"/>
<rect x="490.3" y="455.2" width="3.9" height="6" fill="#fff"/>
<rect x="497.1" y="450.3" width="2" height="3.6" fill="#fff"/>
<rect x="496.2" y="455.2" width="3.9" height="6" fill="#fff"/>
<polygon points="509,446.9 517.5,446.9 517.5,462.1 507,462.1 507,452.4 509,452.4" fill="#000"/>
<polygon points="510.2,448 516.1,448 516.1,461 508.2,461 508.2,453.5 510.2,453.5" fill="#fff"/>
<rect x="514" y="450.4" width="2.1" height="1" fill="#000"/>
<rect x="514" y="450.4" width="1" height="3.3" fill="#000"/>
<rect x="510.2" y="452.8" width="4.8" height="0.9" fill="#000"/>
<rect x="509.8" y="452.4" width="1" height="1.3" fill="#000"/>
<rect x="517.5" y="446.7" width="1.4" height="17.5" fill="#000"/>
<rect x="520" y="446.7" width="1" height="17.5" fill="#000"/>
<rect x="521" y="453" width="7" height="0.9" fill="#000"/>
<rect x="521" y="460" width="7" height="1" fill="#000"/>
<rect x="303" y="466.5" width="226" height="18.8" fill="#000"/>
<rect x="304" y="467.5" width="224" height="16.8" fill="#fff"/>
<rect x="304" y="473.1" width="6.1" height="1.6" fill="#000"/>
<rect x="304" y="480.3" width="6.1" height="1.2" fill="#000"/>
<rect x="310.1" y="467" width="3.7" height="16.3" fill="#000"/>
<polygon points="313.8,467.4 321,467.4 321,472.6 323.7,472.6 323.7,482.1 313.8,482.1" fill="#000"/>
<polygon points="314.8,468.6 320.1,468.6 320.1,473.5 322.8,473.5 322.8,481.2 314.8,481.2" fill="#fff"/>
<rect x="313.8" y="471.7" width="3.2" height="1.8" fill="#000"/>
<rect x="316" y="471.7" width="1" height="3.7" fill="#000"/>
<rect x="316" y="474.5" width="5" height="0.9" fill="#000"/>
<rect x="320.1" y="473.5" width="0.9" height="1.9" fill="#000"/>
<rect x="311" y="482.3" width="209" height="1.1" fill="#000"/>
<rect x="328" y="469.5" width="174.4" height="13" fill="#000"/>
<rect x="331.9" y="470.6" width="2" height="3.6" fill="#fff"/>
<rect x="331" y="475.5" width="3.9" height="6" fill="#fff"/>
<rect x="337.8" y="470.6" width="2" height="3.6" fill="#fff"/>
<rect x="336.9" y="475.5" width="3.9" height="6" fill="#fff"/>
<rect x="343.7" y="470.6" width="2" height="3.6" fill="#fff"/>
<rect x="342.8" y="475.5" width="3.9" height="6" fill="#fff"/>
<rect x="349.6" y="470.6" width="2" height="3.6" fill="#fff"/>
<rect x="348.7" y="475.5" width="3.9" height="6" fill="#fff"/>
<rect x="355.5" y="470.6" width="2" height="3.6" fill="#fff"/>
<rect x="354.6" y="475.5" width="3.9" height="6" fill="#fff"/>
<rect x="361.4" y="470.6" width="2" height="3.6" fill="#fff"/>
<rect x="360.5" y="475.5" width="3.9" height="6" fill="#fff"/>
<rect x="367.3" y="470.6" width="2" height="3.6" fill="#fff"/>
<rect x="366.4" y="475.5" width="3.9" height="6" fill="#fff"/>
<rect x="373.2" y="470.6" width="2" height="3.6" fill="#fff"/>
<rect x="372.3" y="475.5" width="3.9" height="6" fill="#fff"/>
<rect x="379.1" y="470.6" width="2" height="3.6" fill="#fff"/>
<rect x="378.2" y="475.5" width="3.9" height="6" fill="#fff"/>
<rect x="385" y="470.6" width="2" height="3.6" fill="#fff"/>
<rect x="384.1" y="475.5" width="3.9" height="6" fill="#fff"/>
<rect x="390.9" y="470.6" width="2" height="3.6" fill="#fff"/>
<rect x="390" y="475.5" width="3.9" height="6" fill="#fff"/>
<rect x="396.8" y="470.6" width="2" height="3.6" fill="#fff"/>
<rect x="395.9" y="475.5" width="3.9" height="6" fill="#fff"/>
<rect x="402.7" y="470.6" width="2" height="3.6" fill="#fff"/>
<rect x="401.8" y="475.5" width="3.9" height="6" fill="#fff"/>
<rect x="408.6" y="470.6" width="2" height="3.6" fill="#fff"/>
<rect x="407.7" y="475.5" width="3.9" height="6" fill="#fff"/>
<rect x="414.5" y="470.6" width="2" height="3.6" fill="#fff"/>
<rect x="413.6" y="475.5" width="3.9" height="6" fill="#fff"/>
<rect x="420.4" y="470.6" width="2" height="3.6" fill="#fff"/>
<rect x="419.5" y="475.5" width="3.9" height="6" fill="#fff"/>
<rect x="426.3" y="470.6" width="2" height="3.6" fill="#fff"/>
<rect x="425.4" y="475.5" width="3.9" height="6" fill="#fff"/>
<rect x="432.2" y="470.6" width="2" height="3.6" fill="#fff"/>
<rect x="431.3" y="475.5" width="3.9" height="6" fill="#fff"/>
<rect x="438.1" y="470.6" width="2" height="3.6" fill="#fff"/>
<rect x="437.2" y="475.5" width="3.9" height="6" fill="#fff"/>
<rect x="444" y="470.6" width="2" height="3.6" fill="#fff"/>
<rect x="443.1" y="475.5" width="3.9" height="6" fill="#fff"/>
<rect x="449.9" y="470.6" width="2" height="3.6" fill="#fff"/>
<rect x="449" y="475.5" width="3.9" height="6" fill="#fff"/>
<rect x="455.8" y="470.6" width="2" height="3.6" fill="#fff"/>
<rect x="454.9" y="475.5" width="3.9" height="6" fill="#fff"/>
<rect x="461.7" y="470.6" width="2" height="3.6" fill="#fff"/>
<rect x="460.8" y="475.5" width="3.9" height="6" fill="#fff"/>
<rect x="467.6" y="470.6" width="2" height="3.6" fill="#fff"/>
<rect x="466.7" y="475.5" width="3.9" height="6" fill="#fff"/>
<rect x="473.5" y="470.6" width="2" height="3.6" fill="#fff"/>
<rect x="472.6" y="475.5" width="3.9" height="6" fill="#fff"/>
<rect x="479.4" y="470.6" width="2" height="3.6" fill="#fff"/>
<rect x="478.5" y="475.5" width="3.9" height="6" fill="#fff"/>
<rect x="485.3" y="470.6" width="2" height="3.6" fill="#fff"/>
<rect x="484.4" y="475.5" width="3.9" height="6" fill="#fff"/>
<rect x="491.2" y="470.6" width="2" height="3.6" fill="#fff"/>
<rect x="490.3" y="475.5" width="3.9" height="6" fill="#fff"/>
<rect x="497.1" y="470.6" width="2" height="3.6" fill="#fff"/>
<rect x="496.2" y="475.5" width="3.9" height="6" fill="#fff"/>
<polygon points="509,467.2 517.5,467.2 517.5,482.4 507,482.4 507,472.7 509,472.7" fill="#000"/>
<polygon points="510.2,468.3 516.1,468.3 516.1,481.3 508.2,481.3 508.2,473.8 510.2,473.8" fill="#fff"/>
<rect x="514" y="470.7" width="2.1" height="1" fill="#000"/>
<rect x="514" y="470.7" width="1" height="3.3" fill="#000"/>
<rect x="510.2" y="473.1" width="4.8" height="0.9" fill="#000"/>
<rect x="509.8" y="472.7" width="1" height="1.3" fill="#000"/>
<rect x="517.5" y="467" width="1.4" height="17.5" fill="#000"/>
<rect x="520" y="467" width="1" height="17.5" fill="#000"/>
<rect x="521" y="473.3" width="7" height="0.9" fill="#000"/>
<rect x="521" y="480.3" width="7" height="1" fill="#000"/>
<rect x="303" y="486.8" width="226" height="18.8" fill="#000"/>
<rect x="304" y="487.8" width="224" height="16.8" fill="#fff"/>
<rect x="304" y="493.4" width="6.1" height="1.6" fill="#000"/>
<rect x="304" y="500.6" width="6.1" height="1.2" fill="#000"/>
<rect x="310.1" y="487.3" width="3.7" height="16.3" fill="#000"/>
<polygon points="313.8,487.7 321,487.7 321,492.9 323.7,492.9 323.7,502.4 313.8,502.4" fill="#000"/>
<polygon points="314.8,488.9 320.1,488.9 320.1,493.8 322.8,493.8 322.8,501.5 314.8,501.5" fill="#fff"/>
<rect x="313.8" y="492" width="3.2" height="1.8" fill="#000"/>
<rect x="316" y="492" width="1" height="3.7" fill="#000"/>
<rect x="316" y="494.8" width="5" height="0.9" fill="#000"/>
<rect x="320.1" y="493.8" width="0.9" height="1.9" fill="#000"/>
<rect x="311" y="502.6" width="209" height="1.1" fill="#000"/>
<rect x="328" y="489.8" width="174.4" height="13" fill="#000"/>
<rect x="331.9" y="490.9" width="2" height="3.6" fill="#fff"/>
<rect x="331" y="495.8" width="3.9" height="6" fill="#fff"/>
<rect x="337.8" y="490.9" width="2" height="3.6" fill="#fff"/>
<rect x="336.9" y="495.8" width="3.9" height="6" fill="#fff"/>
<rect x="343.7" y="490.9" width="2" height="3.6" fill="#fff"/>
<rect x="342.8" y="495.8" width="3.9" height="6" fill="#fff"/>
<rect x="349.6" y="490.9" width="2" height="3.6" fill="#fff"/>
<rect x="348.7" y="495.8" width="3.9" height="6" fill="#fff"/>
<rect x="355.5" y="490.9" width="2" height="3.6" fill="#fff"/>
<rect x="354.6" y="495.8" width="3.9" height="6" fill="#fff"/>
<rect x="361.4" y="490.9" width="2" height="3.6" fill="#fff"/>
<rect x="360.5" y="495.8" width="3.9" height="6" fill="#fff"/>
<rect x="367.3" y="490.9" width="2" height="3.6" fill="#fff"/>
<rect x="366.4" y="495.8" width="3.9" height="6" fill="#fff"/>
<rect x="373.2" y="490.9" width="2" height="3.6" fill="#fff"/>
<rect x="372.3" y="495.8" width="3.9" height="6" fill="#fff"/>
<rect x="379.1" y="490.9" width="2" height="3.6" fill="#fff"/>
<rect x="378.2" y="495.8" width="3.9" height="6" fill="#fff"/>
<rect x="385" y="490.9" width="2" height="3.6" fill="#fff"/>
<rect x="384.1" y="495.8" width="3.9" height="6" fill="#fff"/>
<rect x="390.9" y="490.9" width="2" height="3.6" fill="#fff"/>
<rect x="390" y="495.8" width="3.9" height="6" fill="#fff"/>
<rect x="396.8" y="490.9" width="2" height="3.6" fill="#fff"/>
<rect x="395.9" y="495.8" width="3.9" height="6" fill="#fff"/>
<rect x="402.7" y="490.9" width="2" height="3.6" fill="#fff"/>
<rect x="401.8" y="495.8" width="3.9" height="6" fill="#fff"/>
<rect x="408.6" y="490.9" width="2" height="3.6" fill="#fff"/>
<rect x="407.7" y="495.8" width="3.9" height="6" fill="#fff"/>
<rect x="414.5" y="490.9" width="2" height="3.6" fill="#fff"/>
<rect x="413.6" y="495.8" width="3.9" height="6" fill="#fff"/>
<rect x="420.4" y="490.9" width="2" height="3.6" fill="#fff"/>
<rect x="419.5" y="495.8" width="3.9" height="6" fill="#fff"/>
<rect x="426.3" y="490.9" width="2" height="3.6" fill="#fff"/>
<rect x="425.4" y="495.8" width="3.9" height="6" fill="#fff"/>
<rect x="432.2" y="490.9" width="2" height="3.6" fill="#fff"/>
<rect x="431.3" y="495.8" width="3.9" height="6" fill="#fff"/>
<rect x="438.1" y="490.9" width="2" height="3.6" fill="#fff"/>
<rect x="437.2" y="495.8" width="3.9" height="6" fill="#fff"/>
<rect x="444" y="490.9" width="2" height="3.6" fill="#fff"/>
<rect x="443.1" y="495.8" width="3.9" height="6" fill="#fff"/>
<rect x="449.9" y="490.9" width="2" height="3.6" fill="#fff"/>
<rect x="449" y="495.8" width="3.9" height="6" fill="#fff"/>
<rect x="455.8" y="490.9" width="2" height="3.6" fill="#fff"/>
<rect x="454.9" y="495.8" width="3.9" height="6" fill="#fff"/>
<rect x="461.7" y="490.9" width="2" height="3.6" fill="#fff"/>
<rect x="460.8" y="495.8" width="3.9" height="6" fill="#fff"/>
<rect x="467.6" y="490.9" width="2" height="3.6" fill="#fff"/>
<rect x="466.7" y="495.8" width="3.9" height="6" fill="#fff"/>
<rect x="473.5" y="490.9" width="2" height="3.6" fill="#fff"/>
<rect x="472.6" y="495.8" width="3.9" height="6" fill="#fff"/>
<rect x="479.4" y="490.9" width="2" height="3.6" fill="#fff"/>
<rect x="478.5" y="495.8" width="3.9" height="6" fill="#fff"/>
<rect x="485.3" y="490.9" width="2" height="3.6" fill="#fff"/>
<rect x="484.4" y="495.8" width="3.9" height="6" fill="#fff"/>
<rect x="491.2" y="490.9" width="2" height="3.6" fill="#fff"/>
<rect x="490.3" y="495.8" width="3.9" height="6" fill="#fff"/>
<rect x="497.1" y="490.9" width="2" height="3.6" fill="#fff"/>
<rect x="496.2" y="495.8" width="3.9" height="6" fill="#fff"/>
<polygon points="509,487.5 517.5,487.5 517.5,502.7 507,502.7 507,493 509,493" fill="#000"/>
<polygon points="510.2,488.6 516.1,488.6 516.1,501.6 508.2,501.6 508.2,494.1 510.2,494.1" fill="#fff"/>
<rect x="514" y="491" width="2.1" height="1" fill="#000"/>
<rect x="514" y="491" width="1" height="3.3" fill="#000"/>
<rect x="510.2" y="493.4" width="4.8" height="0.9" fill="#000"/>
<rect x="509.8" y="493" width="1" height="1.3" fill="#000"/>
<rect x="517.5" y="487.3" width="1.4" height="17.5" fill="#000"/>
<rect x="520" y="487.3" width="1" height="17.5" fill="#000"/>
<rect x="521" y="493.6" width="7" height="0.9" fill="#000"/>
<rect x="521" y="500.6" width="7" height="1" fill="#000"/>
<rect x="303" y="507.1" width="226" height="18.8" fill="#000"/>
<rect x="304" y="508.1" width="224" height="16.8" fill="#fff"/>
<rect x="304" y="513.7" width="6.1" height="1.6" fill="#000"/>
<rect x="304" y="520.9" width="6.1" height="1.2" fill="#000"/>
<rect x="310.1" y="507.6" width="3.7" height="16.3" fill="#000"/>
<polygon points="313.8,508 321,508 321,513.2 323.7,513.2 323.7,522.7 313.8,522.7" fill="#000"/>
<polygon points="314.8,509.2 320.1,509.2 320.1,514.1 322.8,514.1 322.8,521.8 314.8,521.8" fill="#fff"/>
<rect x="313.8" y="512.3" width="3.2" height="1.8" fill="#000"/>
<rect x="316" y="512.3" width="1" height="3.7" fill="#000"/>
<rect x="316" y="515.1" width="5" height="0.9" fill="#000"/>
<rect x="320.1" y="514.1" width="0.9" height="1.9" fill="#000"/>
<rect x="311" y="522.9" width="209" height="1.1" fill="#000"/>
<rect x="328" y="510.1" width="174.4" height="13" fill="#000"/>
<rect x="331.9" y="511.2" width="2" height="3.6" fill="#fff"/>
<rect x="331" y="516.1" width="3.9" height="6" fill="#fff"/>
<rect x="337.8" y="511.2" width="2" height="3.6" fill="#fff"/>
<rect x="336.9" y="516.1" width="3.9" height="6" fill="#fff"/>
<rect x="343.7" y="511.2" width="2" height="3.6" fill="#fff"/>
<rect x="342.8" y="516.1" width="3.9" height="6" fill="#fff"/>
<rect x="349.6" y="511.2" width="2" height="3.6" fill="#fff"/>
<rect x="348.7" y="516.1" width="3.9" height="6" fill="#fff"/>
<rect x="355.5" y="511.2" width="2" height="3.6" fill="#fff"/>
<rect x="354.6" y="516.1" width="3.9" height="6" fill="#fff"/>
<rect x="361.4" y="511.2" width="2" height="3.6" fill="#fff"/>
<rect x="360.5" y="516.1" width="3.9" height="6" fill="#fff"/>
<rect x="367.3" y="511.2" width="2" height="3.6" fill="#fff"/>
<rect x="366.4" y="516.1" width="3.9" height="6" fill="#fff"/>
<rect x="373.2" y="511.2" width="2" height="3.6" fill="#fff"/>
<rect x="372.3" y="516.1" width="3.9" height="6" fill="#fff"/>
<rect x="379.1" y="511.2" width="2" height="3.6" fill="#fff"/>
<rect x="378.2" y="516.1" width="3.9" height="6" fill="#fff"/>
<rect x="385" y="511.2" width="2" height="3.6" fill="#fff"/>
<rect x="384.1" y="516.1" width="3.9" height="6" fill="#fff"/>
<rect x="390.9" y="511.2" width="2" height="3.6" fill="#fff"/>
<rect x="390" y="516.1" width="3.9" height="6" fill="#fff"/>
<rect x="396.8" y="511.2" width="2" height="3.6" fill="#fff"/>
<rect x="395.9" y="516.1" width="3.9" height="6" fill="#fff"/>
<rect x="402.7" y="511.2" width="2" height="3.6" fill="#fff"/>
<rect x="401.8" y="516.1" width="3.9" height="6" fill="#fff"/>
<rect x="408.6" y="511.2" width="2" height="3.6" fill="#fff"/>
<rect x="407.7" y="516.1" width="3.9" height="6" fill="#fff"/>
<rect x="414.5" y="511.2" width="2" height="3.6" fill="#fff"/>
<rect x="413.6" y="516.1" width="3.9" height="6" fill="#fff"/>
<rect x="420.4" y="511.2" width="2" height="3.6" fill="#fff"/>
<rect x="419.5" y="516.1" width="3.9" height="6" fill="#fff"/>
<rect x="426.3" y="511.2" width="2" height="3.6" fill="#fff"/>
<rect x="425.4" y="516.1" width="3.9" height="6" fill="#fff"/>
<rect x="432.2" y="511.2" width="2" height="3.6" fill="#fff"/>
<rect x="431.3" y="516.1" width="3.9" height="6" fill="#fff"/>
<rect x="438.1" y="511.2" width="2" height="3.6" fill="#fff"/>
<rect x="437.2" y="516.1" width="3.9" height="6" fill="#fff"/>
<rect x="444" y="511.2" width="2" height="3.6" fill="#fff"/>
<rect x="443.1" y="516.1" width="3.9" height="6" fill="#fff"/>
<rect x="449.9" y="511.2" width="2" height="3.6" fill="#fff"/>
<rect x="449" y="516.1" width="3.9" height="6" fill="#fff"/>
<rect x="455.8" y="511.2" width="2" height="3.6" fill="#fff"/>
<rect x="454.9" y="516.1" width="3.9" height="6" fill="#fff"/>
<rect x="461.7" y="511.2" width="2" height="3.6" fill="#fff"/>
<rect x="460.8" y="516.1" width="3.9" height="6" fill="#fff"/>
<rect x="467.6" y="511.2" width="2" height="3.6" fill="#fff"/>
<rect x="466.7" y="516.1" width="3.9" height="6" fill="#fff"/>
<rect x="473.5" y="511.2" width="2" height="3.6" fill="#fff"/>
<rect x="472.6" y="516.1" width="3.9" height="6" fill="#fff"/>
<rect x="479.4" y="511.2" width="2" height="3.6" fill="#fff"/>
<rect x="478.5" y="516.1" width="3.9" height="6" fill="#fff"/>
<rect x="485.3" y="511.2" width="2" height="3.6" fill="#fff"/>
<rect x="484.4" y="516.1" width="3.9" height="6" fill="#fff"/>
<rect x="491.2" y="511.2" width="2" height="3.6" fill="#fff"/>
<rect x="490.3" y="516.1" width="3.9" height="6" fill="#fff"/>
<rect x="497.1" y="511.2" width="2" height="3.6" fill="#fff"/>
<rect x="496.2" y="516.1" width="3.9" height="6" fill="#fff"/>
<polygon points="509,507.8 517.5,507.8 517.5,523 507,523 507,513.3 509,513.3" fill="#000"/>
<polygon points="510.2,508.9 516.1,508.9 516.1,521.9 508.2,521.9 508.2,514.4 510.2,514.4" fill="#fff"/>
<rect x="514" y="511.3" width="2.1" height="1" fill="#000"/>
<rect x="514" y="511.3" width="1" height="3.3" fill="#000"/>
<rect x="510.2" y="513.7" width="4.8" height="0.9" fill="#000"/>
<rect x="509.8" y="513.3" width="1" height="1.3" fill="#000"/>
<rect x="517.5" y="507.6" width="1.4" height="17.5" fill="#000"/>
<rect x="520" y="507.6" width="1" height="17.5" fill="#000"/>
<rect x="521" y="513.9" width="7" height="0.9" fill="#000"/>
<rect x="521" y="520.9" width="7" height="1" fill="#000"/>
<rect x="385.8" y="395.2" width="60.2" height="18.1" fill="#000"/>
<rect x="388.1" y="398.1" width="55.9" height="13.8" rx="1.5" fill="#fff"/>
<g aria-label="BANK">
<path transform="translate(392,399)" d="M0 0h4v1h-4zM0 1h1v1h-1zM4 1h1v1h-1zM0 2h1v1h-1zM4 2h1v1h-1zM0 3h1v1h-1zM4 3h1v1h-1zM0 4h4v1h-4zM0 5h1v1h-1zM4 5h1v1h-1zM0 6h1v1h-1zM4 6h1v1h-1zM0 7h1v1h-1zM4 7h1v1h-1zM0 8h1v1h-1zM4 8h1v1h-1zM0 9h4v1h-4z"/>
<path transform="translate(398,399)" d="M3 0h1v1h-1zM2 1h1v1h-1zM4 1h1v1h-1zM2 2h1v1h-1zM4 2h1v1h-1zM1 3h1v1h-1zM5 3h1v1h-1zM1 4h1v1h-1zM5 4h1v1h-1zM1 5h1v1h-1zM5 5h1v1h-1zM0 6h7v1h-7zM0 7h1v1h-1zM6 7h1v1h-1zM0 8h1v1h-1zM6 8h1v1h-1zM0 9h1v1h-1zM6 9h1v1h-1z"/>
<path transform="translate(407,399)" d="M0 0h1v1h-1zM5 0h1v1h-1zM0 1h2v1h-2zM5 1h1v1h-1zM0 2h2v1h-2zM5 2h1v1h-1zM0 3h1v1h-1zM2 3h1v1h-1zM5 3h1v1h-1zM0 4h1v1h-1zM2 4h1v1h-1zM5 4h1v1h-1zM0 5h1v1h-1zM3 5h1v1h-1zM5 5h1v1h-1zM0 6h1v1h-1zM3 6h1v1h-1zM5 6h1v1h-1zM0 7h1v1h-1zM4 7h2v1h-2zM0 8h1v1h-1zM4 8h2v1h-2zM0 9h1v1h-1zM5 9h1v1h-1z"/>
<path transform="translate(414,399)" d="M0 0h1v1h-1zM5 0h1v1h-1zM0 1h1v1h-1zM4 1h1v1h-1zM0 2h1v1h-1zM3 2h1v1h-1zM0 3h1v1h-1zM2 3h1v1h-1zM0 4h2v1h-2zM0 5h1v1h-1zM2 5h1v1h-1zM0 6h1v1h-1zM3 6h1v1h-1zM0 7h1v1h-1zM4 7h1v1h-1zM0 8h1v1h-1zM5 8h1v1h-1zM0 9h1v1h-1zM5 9h1v1h-1z"/>
</g>
<path transform="translate(433,401.7)" d="M2 0h1v1h-1zM1 1h1v1h-1zM3 1h1v1h-1zM0 2h1v1h-1zM4 2h1v1h-1zM0 3h1v1h-1zM4 3h1v1h-1zM0 4h1v1h-1zM4 4h1v1h-1zM0 5h1v1h-1zM4 5h1v1h-1zM1 6h1v1h-1zM3 6h1v1h-1zM2 7h1v1h-1z"/>
<rect x="385.8" y="475.2" width="60.2" height="18.1" fill="#000"/>
<rect x="388.1" y="478.1" width="55.9" height="13.8" rx="1.5" fill="#fff"/>
<g aria-label="BANK">
<path transform="translate(392,479)" d="M0 0h4v1h-4zM0 1h1v1h-1zM4 1h1v1h-1zM0 2h1v1h-1zM4 2h1v1h-1zM0 3h1v1h-1zM4 3h1v1h-1zM0 4h4v1h-4zM0 5h1v1h-1zM4 5h1v1h-1zM0 6h1v1h-1zM4 6h1v1h-1zM0 7h1v1h-1zM4 7h1v1h-1zM0 8h1v1h-1zM4 8h1v1h-1zM0 9h4v1h-4z"/>
<path transform="translate(398,479)" d="M3 0h1v1h-1zM2 1h1v1h-1zM4 1h1v1h-1zM2 2h1v1h-1zM4 2h1v1h-1zM1 3h1v1h-1zM5 3h1v1h-1zM1 4h1v1h-1zM5 4h1v1h-1zM1 5h1v1h-1zM5 5h1v1h-1zM0 6h7v1h-7zM0 7h1v1h-1zM6 7h1v1h-1zM0 8h1v1h-1zM6 8h1v1h-1zM0 9h1v1h-1zM6 9h1v1h-1z"/>
<path transform="translate(407,479)" d="M0 0h1v1h-1zM5 0h1v1h-1zM0 1h2v1h-2zM5 1h1v1h-1zM0 2h2v1h-2zM5 2h1v1h-1zM0 3h1v1h-1zM2 3h1v1h-1zM5 3h1v1h-1zM0 4h1v1h-1zM2 4h1v1h-1zM5 4h1v1h-1zM0 5h1v1h-1zM3 5h1v1h-1zM5 5h1v1h-1zM0 6h1v1h-1zM3 6h1v1h-1zM5 6h1v1h-1zM0 7h1v1h-1zM4 7h2v1h-2zM0 8h1v1h-1zM4 8h2v1h-2zM0 9h1v1h-1zM5 9h1v1h-1z"/>
<path transform="translate(414,479)" d="M0 0h1v1h-1zM5 0h1v1h-1zM0 1h1v1h-1zM4 1h1v1h-1zM0 2h1v1h-1zM3 2h1v1h-1zM0 3h1v1h-1zM2 3h1v1h-1zM0 4h2v1h-2zM0 5h1v1h-1zM2 5h1v1h-1zM0 6h1v1h-1zM3 6h1v1h-1zM0 7h1v1h-1zM4 7h1v1h-1zM0 8h1v1h-1zM5 8h1v1h-1zM0 9h1v1h-1zM5 9h1v1h-1z"/>
</g>
<path transform="translate(435,479.2)" d="M2 0h1v1h-1zM1 1h2v1h-2zM0 2h1v1h-1zM2 2h1v1h-1zM2 3h1v1h-1zM2 4h1v1h-1zM2 5h1v1h-1zM2 6h1v1h-1zM2 7h1v1h-1zM2 8h1v1h-1zM2 9h1v1h-1z"/>
<rect x="533.8" y="377" width="24" height="112.8" fill="#000"/>
<rect x="534.8" y="378" width="22" height="110.9" fill="#fff"/>
<rect x="549.7" y="378" width="0.9" height="111" fill="#000"/>
<rect x="537.1" y="383.3" width="7" height="7.3" fill="#000"/>
<rect x="538.1" y="384.3" width="5" height="5.3" fill="#fff"/>
<rect x="545" y="388.1" width="3" height="6.7" fill="#000"/>
<polygon points="551.5,387.8 553,387.8 553,389.3 555,389.3 555,393.3 553,393.3 553,395.6 551.5,395.6 550.6,394.3 550.6,388.8" fill="#000"/>
<rect x="537.1" y="392.58" width="7" height="7.3" fill="#000"/>
<rect x="538.1" y="393.58" width="5" height="5.3" fill="#fff"/>
<rect x="545" y="397.38" width="3" height="6.7" fill="#000"/>
<polygon points="551.5,397.08 553,397.08 553,398.58 555,398.58 555,402.58 553,402.58 553,404.88 551.5,404.88 550.6,403.58 550.6,398.08" fill="#000"/>
<rect x="537.1" y="401.86" width="7" height="7.3" fill="#000"/>
<rect x="538.1" y="402.86" width="5" height="5.3" fill="#fff"/>
<rect x="545" y="406.66" width="3" height="6.7" fill="#000"/>
<polygon points="551.5,406.36 553,406.36 553,407.86 555,407.86 555,411.86 553,411.86 553,414.16 551.5,414.16 550.6,412.86 550.6,407.36" fill="#000"/>
<rect x="537.1" y="411.14" width="7" height="7.3" fill="#000"/>
<rect x="538.1" y="412.14" width="5" height="5.3" fill="#fff"/>
<rect x="545" y="415.94" width="3" height="6.7" fill="#000"/>
<polygon points="551.5,415.64 553,415.64 553,417.14 555,417.14 555,421.14 553,421.14 553,423.44 551.5,423.44 550.6,422.14 550.6,416.64" fill="#000"/>
<rect x="537.1" y="420.42" width="7" height="7.3" fill="#000"/>
<rect x="538.1" y="421.42" width="5" height="5.3" fill="#fff"/>
<rect x="545" y="425.22" width="3" height="6.7" fill="#000"/>
<polygon points="551.5,424.92 553,424.92 553,426.42 555,426.42 555,430.42 553,430.42 553,432.72 551.5,432.72 550.6,431.42 550.6,425.92" fill="#000"/>
<rect x="537.1" y="429.7" width="7" height="7.3" fill="#000"/>
<rect x="538.1" y="430.7" width="5" height="5.3" fill="#fff"/>
<rect x="545" y="434.5" width="3" height="6.7" fill="#000"/>
<polygon points="551.5,434.2 553,434.2 553,435.7 555,435.7 555,439.7 553,439.7 553,442 551.5,442 550.6,440.7 550.6,435.2" fill="#000"/>
<rect x="537.1" y="438.98" width="7" height="7.3" fill="#000"/>
<rect x="538.1" y="439.98" width="5" height="5.3" fill="#fff"/>
<rect x="545" y="443.78" width="3" height="6.7" fill="#000"/>
<polygon points="551.5,443.48 553,443.48 553,444.98 555,444.98 555,448.98 553,448.98 553,451.28 551.5,451.28 550.6,449.98 550.6,444.48" fill="#000"/>
<rect x="537.1" y="448.26" width="7" height="7.3" fill="#000"/>
<rect x="538.1" y="449.26" width="5" height="5.3" fill="#fff"/>
<rect x="545" y="453.06" width="3" height="6.7" fill="#000"/>
<polygon points="551.5,452.76 553,452.76 553,454.26 555,454.26 555,458.26 553,458.26 553,460.56 551.5,460.56 550.6,459.26 550.6,453.76" fill="#000"/>
<rect x="537.1" y="457.54" width="7" height="7.3" fill="#000"/>
<rect x="538.1" y="458.54" width="5" height="5.3" fill="#fff"/>
<rect x="545" y="462.34" width="3" height="6.7" fill="#000"/>
<polygon points="551.5,462.04 553,462.04 553,463.54 555,463.54 555,467.54 553,467.54 553,469.84 551.5,469.84 550.6,468.54 550.6,463.04" fill="#000"/>
<rect x="537.1" y="466.82" width="7" height="7.3" fill="#000"/>
<rect x="538.1" y="467.82" width="5" height="5.3" fill="#fff"/>
<rect x="545" y="471.62" width="3" height="6.7" fill="#000"/>
<polygon points="551.5,471.32 553,471.32 553,472.82 555,472.82 555,476.82 553,476.82 553,479.12 551.5,479.12 550.6,477.82 550.6,472.32" fill="#000"/>
<rect x="537.1" y="476.1" width="7" height="7.3" fill="#000"/>
<rect x="538.1" y="477.1" width="5" height="5.3" fill="#fff"/>
<rect x="545" y="480.9" width="3" height="7.2" fill="#000"/>
<polygon points="551.5,480.6 553,480.6 553,482.1 555,482.1 555,486.1 553,486.1 553,488.4 551.5,488.4 550.6,487.1 550.6,481.6" fill="#000"/>
<rect x="545" y="378" width="3" height="3.5" fill="#000"/>
<polygon points="537,489 537,485 544,485 544,489 542.5,489 542.5,487 540,487.5 539,489" fill="#000"/>
<rect x="538" y="486" width="1" height="2" fill="#fff"/>
<rect x="540.5" y="486" width="2" height="0.8" fill="#fff"/>
<rect x="583.1" y="348.1" width="19.7" height="6.5" fill="#000"/>
<rect x="584" y="349" width="1" height="4.7" fill="#fff"/>
<rect x="584" y="352.8" width="17.6" height="0.9" fill="#fff"/>
<rect x="600.6" y="349" width="1" height="4.7" fill="#fff"/>
<rect x="590" y="349" width="1" height="4.7" fill="#fff"/>
<rect x="595.3" y="349" width="0.9" height="4.7" fill="#fff"/>
<rect x="585.9" y="350" width="3.1" height="1.8" fill="#fff"/>
<rect x="543" y="341.8" width="26.1" height="18.1" rx="2.5" fill="#000"/>
<rect x="546" y="343.8" width="21.1" height="13.8" rx="1.5" fill="#fff"/>
<g aria-label="J7">
<path transform="translate(549,345)" d="M3 0h1v1h-1zM3 1h1v1h-1zM3 2h1v1h-1zM3 3h1v1h-1zM3 4h1v1h-1zM3 5h1v1h-1zM3 6h1v1h-1zM0 7h1v1h-1zM3 7h1v1h-1zM0 8h1v1h-1zM3 8h1v1h-1zM1 9h2v1h-2z"/>
<path transform="translate(556,345)" d="M0 0h5v1h-5zM4 1h1v1h-1zM3 2h1v1h-1zM3 3h1v1h-1zM2 4h1v1h-1zM2 5h1v1h-1zM2 6h1v1h-1zM1 7h1v1h-1zM1 8h1v1h-1zM1 9h1v1h-1z"/>
</g>
<polygon points="567.1,346.8 576.1,349.2 576.1,353.3 567.1,355.8" fill="#000"/>
<rect x="576.1" y="349.3" width="4.5" height="3.9" fill="#000"/>
<rect x="580.6" y="350.3" width="2.4" height="2" fill="#000"/>
<polygon points="565.9,348.8 575.5,350.8 575.5,351.8 565.9,353.8" fill="#fff"/>
<rect x="577.1" y="369" width="25.8" height="6.6" fill="#000"/>
<rect x="578" y="370" width="1" height="4.6" fill="#fff"/>
<rect x="583.1" y="370" width="1" height="4.6" fill="#fff"/>
<rect x="588.7" y="370" width="1" height="4.6" fill="#fff"/>
<rect x="595" y="370" width="1" height="4.6" fill="#fff"/>
<rect x="600.5" y="370" width="1.5" height="4.6" fill="#fff"/>
<rect x="579.6" y="370.6" width="2.5" height="3.8" fill="#fff"/>
<rect x="580.4" y="371.5" width="0.9" height="2" fill="#000"/>
<rect x="536.2" y="363" width="25.5" height="17.4" rx="2.5" fill="#000"/>
<rect x="538.2" y="365" width="21.5" height="13.1" rx="1.5" fill="#fff"/>
<g aria-label="J8">
<path transform="translate(542,365)" d="M3 0h1v1h-1zM3 1h1v1h-1zM3 2h1v1h-1zM3 3h1v1h-1zM3 4h1v1h-1zM3 5h1v1h-1zM3 6h1v1h-1zM0 7h1v1h-1zM3 7h1v1h-1zM0 8h1v1h-1zM3 8h1v1h-1zM1 9h2v1h-2z"/>
<path transform="translate(550,365)" d="M1 0h3v1h-3zM0 1h1v1h-1zM4 1h1v1h-1zM0 2h1v1h-1zM4 2h1v1h-1zM0 3h1v1h-1zM4 3h1v1h-1zM1 4h3v1h-3zM0 5h1v1h-1zM4 5h1v1h-1zM0 6h1v1h-1zM4 6h1v1h-1zM0 7h1v1h-1zM4 7h1v1h-1zM0 8h1v1h-1zM4 8h1v1h-1zM1 9h3v1h-3z"/>
</g>
<polygon points="559.7,367.8 568.7,370.2 568.7,374.3 559.7,376.8" fill="#000"/>
<rect x="568.7" y="370.3" width="4.5" height="3.9" fill="#000"/>
<rect x="573.2" y="371.3" width="4" height="2" fill="#000"/>
<polygon points="558.5,369.8 568.1,371.8 568.1,372.8 558.5,374.8" fill="#fff"/>
<rect x="586" y="391" width="31" height="37" fill="#000"/>
<rect x="610" y="386" width="7" height="46" fill="#000"/>
<rect x="613" y="384" width="4" height="50" fill="#000"/>
<rect x="583" y="397" width="3" height="24" fill="#000"/>
<rect x="579" y="399" width="4.5" height="8.5" fill="#000"/>
<rect x="580" y="400" width="2.5" height="6.5" fill="#fff"/>
<rect x="579" y="410.5" width="4.5" height="8.5" fill="#000"/>
<rect x="580" y="411.5" width="2.5" height="6.5" fill="#fff"/>
<rect x="584" y="407.5" width="2" height="3" fill="#fff"/>
</svg>
</body></html>
